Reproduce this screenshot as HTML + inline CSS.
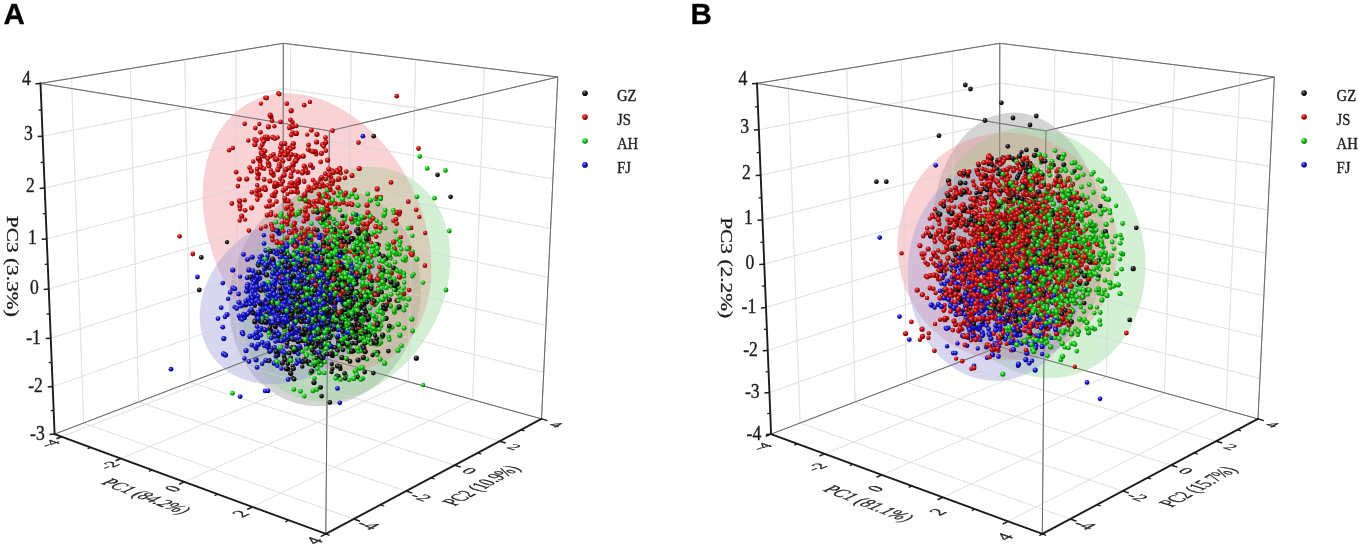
<!DOCTYPE html>
<html><head><meta charset="utf-8"><style>html,body{margin:0;padding:0;background:#fff;}svg{display:block;filter:blur(0.35px)} text{stroke:#1c1c1c;stroke-width:0.35px;vector-effect:non-scaling-stroke}</style></head>
<body><svg width="1358" height="547" viewBox="0 0 1358 547">
<defs><radialGradient id="gk" cx="0.4" cy="0.36" r="0.62" fx="0.36" fy="0.3"><stop offset="0" stop-color="#8c8c8c"/><stop offset="0.45" stop-color="#1e1e1e"/><stop offset="1" stop-color="#000"/></radialGradient><radialGradient id="gr" cx="0.4" cy="0.36" r="0.62" fx="0.36" fy="0.3"><stop offset="0" stop-color="#ff8080"/><stop offset="0.45" stop-color="#d01212"/><stop offset="1" stop-color="#700000"/></radialGradient><radialGradient id="gg" cx="0.4" cy="0.36" r="0.62" fx="0.36" fy="0.3"><stop offset="0" stop-color="#a0ffa0"/><stop offset="0.45" stop-color="#18cc18"/><stop offset="1" stop-color="#067006"/></radialGradient><radialGradient id="gb" cx="0.4" cy="0.36" r="0.62" fx="0.36" fy="0.3"><stop offset="0" stop-color="#9a9aff"/><stop offset="0.45" stop-color="#1c1cd8"/><stop offset="1" stop-color="#00007a"/></radialGradient><circle id="kL" r="2.8" fill="url(#gk)"/><circle id="k22" r="2.2" fill="url(#gk)"/><circle id="k24" r="2.4" fill="url(#gk)"/><circle id="k26" r="2.6" fill="url(#gk)"/><circle id="rL" r="2.8" fill="url(#gr)"/><circle id="r22" r="2.2" fill="url(#gr)"/><circle id="r24" r="2.4" fill="url(#gr)"/><circle id="r26" r="2.6" fill="url(#gr)"/><circle id="gL" r="2.8" fill="url(#gg)"/><circle id="g22" r="2.2" fill="url(#gg)"/><circle id="g24" r="2.4" fill="url(#gg)"/><circle id="g26" r="2.6" fill="url(#gg)"/><circle id="bL" r="2.8" fill="url(#gb)"/><circle id="b22" r="2.2" fill="url(#gb)"/><circle id="b24" r="2.4" fill="url(#gb)"/><circle id="b26" r="2.6" fill="url(#gb)"/></defs>
<rect width="1358" height="547" fill="#fff"/>
<line x1="83.6" y1="423" x2="71.5" y2="78.3" stroke="#e3e3e3" stroke-width="1"/>
<line x1="83.6" y1="423" x2="353.8" y2="519" stroke="#e3e3e3" stroke-width="1"/>
<line x1="138.6" y1="402" x2="130.3" y2="68.6" stroke="#e3e3e3" stroke-width="1"/>
<line x1="138.6" y1="402" x2="406.3" y2="491" stroke="#e3e3e3" stroke-width="1"/>
<line x1="190" y1="382.3" x2="184.9" y2="59.6" stroke="#e3e3e3" stroke-width="1"/>
<line x1="190" y1="382.3" x2="454.8" y2="465.2" stroke="#e3e3e3" stroke-width="1"/>
<line x1="238" y1="363.9" x2="235.8" y2="51.2" stroke="#e3e3e3" stroke-width="1"/>
<line x1="238" y1="363.9" x2="499.7" y2="441.2" stroke="#e3e3e3" stroke-width="1"/>
<line x1="52.7" y1="386.6" x2="283.1" y2="305.3" stroke="#e3e3e3" stroke-width="1"/>
<line x1="283.1" y1="305.3" x2="543.7" y2="372.5" stroke="#e3e3e3" stroke-width="1"/>
<line x1="50.7" y1="338.3" x2="283.1" y2="263.2" stroke="#e3e3e3" stroke-width="1"/>
<line x1="283.1" y1="263.2" x2="545.9" y2="325.4" stroke="#e3e3e3" stroke-width="1"/>
<line x1="48.7" y1="289.1" x2="283.1" y2="220.6" stroke="#e3e3e3" stroke-width="1"/>
<line x1="283.1" y1="220.6" x2="548.2" y2="277.4" stroke="#e3e3e3" stroke-width="1"/>
<line x1="46.7" y1="239" x2="283.2" y2="177.3" stroke="#e3e3e3" stroke-width="1"/>
<line x1="283.2" y1="177.3" x2="550.5" y2="228.6" stroke="#e3e3e3" stroke-width="1"/>
<line x1="44.7" y1="188.1" x2="283.2" y2="133.3" stroke="#e3e3e3" stroke-width="1"/>
<line x1="283.2" y1="133.3" x2="552.9" y2="178.9" stroke="#e3e3e3" stroke-width="1"/>
<line x1="42.6" y1="136.2" x2="283.3" y2="88.6" stroke="#e3e3e3" stroke-width="1"/>
<line x1="283.3" y1="88.6" x2="555.3" y2="128.4" stroke="#e3e3e3" stroke-width="1"/>
<line x1="290" y1="348.6" x2="290.6" y2="44.2" stroke="#e3e3e3" stroke-width="1"/>
<line x1="61.7" y1="436.7" x2="290" y2="348.6" stroke="#e3e3e3" stroke-width="1"/>
<line x1="347.3" y1="364.7" x2="351.2" y2="51.6" stroke="#e3e3e3" stroke-width="1"/>
<line x1="120.9" y1="458.5" x2="347.3" y2="364.7" stroke="#e3e3e3" stroke-width="1"/>
<line x1="408.1" y1="381.7" x2="415.6" y2="59.6" stroke="#e3e3e3" stroke-width="1"/>
<line x1="184.3" y1="481.9" x2="408.1" y2="381.7" stroke="#e3e3e3" stroke-width="1"/>
<line x1="472.7" y1="399.7" x2="484.3" y2="68" stroke="#e3e3e3" stroke-width="1"/>
<line x1="252.5" y1="506.9" x2="472.7" y2="399.7" stroke="#e3e3e3" stroke-width="1"/>
<line x1="40.5" y1="83.4" x2="283.3" y2="43.3" stroke="#6c6c6c" stroke-width="1.0"/>
<line x1="283.3" y1="43.3" x2="557.8" y2="77" stroke="#6c6c6c" stroke-width="1.0"/>
<line x1="557.8" y1="77" x2="329.4" y2="130.9" stroke="#6c6c6c" stroke-width="1.0"/>
<line x1="329.4" y1="130.9" x2="40.5" y2="83.4" stroke="#6c6c6c" stroke-width="1.0"/>
<line x1="283.3" y1="43.3" x2="283" y2="346.7" stroke="#6c6c6c" stroke-width="1.0"/>
<line x1="557.8" y1="77" x2="541.5" y2="418.9" stroke="#6c6c6c" stroke-width="1.0"/>
<line x1="54.6" y1="434.1" x2="283" y2="346.7" stroke="#6c6c6c" stroke-width="1.0"/>
<line x1="283" y1="346.7" x2="541.5" y2="418.9" stroke="#6c6c6c" stroke-width="1.0"/>
<line x1="325.8" y1="533.9" x2="329.4" y2="130.9" stroke="#6c6c6c" stroke-width="1.0"/>
<ellipse cx="325" cy="297" rx="110" ry="95" transform="rotate(-76.0 325 297)" fill="#949494" fill-opacity="0.4"/>
<ellipse cx="317" cy="232" rx="146" ry="105" transform="rotate(-116.7 317 232)" fill="#ee8e94" fill-opacity="0.2254"/>
<ellipse cx="346" cy="284" rx="124" ry="96.5" transform="rotate(-59.0 346 284)" fill="#94da94" fill-opacity="0.4"/>
<ellipse cx="317" cy="232" rx="146" ry="105" transform="rotate(-116.7 317 232)" fill="#ee8e94" fill-opacity="0.2254"/>
<ellipse cx="290.5" cy="299" rx="97" ry="78" transform="rotate(143.6 290.5 299)" fill="#9b9bda" fill-opacity="0.4"/>
<g opacity="0.55"><line x1="83.6" y1="423" x2="71.5" y2="78.3" stroke="#e3e3e3" stroke-width="1"/>
<line x1="83.6" y1="423" x2="353.8" y2="519" stroke="#e3e3e3" stroke-width="1"/>
<line x1="138.6" y1="402" x2="130.3" y2="68.6" stroke="#e3e3e3" stroke-width="1"/>
<line x1="138.6" y1="402" x2="406.3" y2="491" stroke="#e3e3e3" stroke-width="1"/>
<line x1="190" y1="382.3" x2="184.9" y2="59.6" stroke="#e3e3e3" stroke-width="1"/>
<line x1="190" y1="382.3" x2="454.8" y2="465.2" stroke="#e3e3e3" stroke-width="1"/>
<line x1="238" y1="363.9" x2="235.8" y2="51.2" stroke="#e3e3e3" stroke-width="1"/>
<line x1="238" y1="363.9" x2="499.7" y2="441.2" stroke="#e3e3e3" stroke-width="1"/>
<line x1="52.7" y1="386.6" x2="283.1" y2="305.3" stroke="#e3e3e3" stroke-width="1"/>
<line x1="283.1" y1="305.3" x2="543.7" y2="372.5" stroke="#e3e3e3" stroke-width="1"/>
<line x1="50.7" y1="338.3" x2="283.1" y2="263.2" stroke="#e3e3e3" stroke-width="1"/>
<line x1="283.1" y1="263.2" x2="545.9" y2="325.4" stroke="#e3e3e3" stroke-width="1"/>
<line x1="48.7" y1="289.1" x2="283.1" y2="220.6" stroke="#e3e3e3" stroke-width="1"/>
<line x1="283.1" y1="220.6" x2="548.2" y2="277.4" stroke="#e3e3e3" stroke-width="1"/>
<line x1="46.7" y1="239" x2="283.2" y2="177.3" stroke="#e3e3e3" stroke-width="1"/>
<line x1="283.2" y1="177.3" x2="550.5" y2="228.6" stroke="#e3e3e3" stroke-width="1"/>
<line x1="44.7" y1="188.1" x2="283.2" y2="133.3" stroke="#e3e3e3" stroke-width="1"/>
<line x1="283.2" y1="133.3" x2="552.9" y2="178.9" stroke="#e3e3e3" stroke-width="1"/>
<line x1="42.6" y1="136.2" x2="283.3" y2="88.6" stroke="#e3e3e3" stroke-width="1"/>
<line x1="283.3" y1="88.6" x2="555.3" y2="128.4" stroke="#e3e3e3" stroke-width="1"/>
<line x1="290" y1="348.6" x2="290.6" y2="44.2" stroke="#e3e3e3" stroke-width="1"/>
<line x1="61.7" y1="436.7" x2="290" y2="348.6" stroke="#e3e3e3" stroke-width="1"/>
<line x1="347.3" y1="364.7" x2="351.2" y2="51.6" stroke="#e3e3e3" stroke-width="1"/>
<line x1="120.9" y1="458.5" x2="347.3" y2="364.7" stroke="#e3e3e3" stroke-width="1"/>
<line x1="408.1" y1="381.7" x2="415.6" y2="59.6" stroke="#e3e3e3" stroke-width="1"/>
<line x1="184.3" y1="481.9" x2="408.1" y2="381.7" stroke="#e3e3e3" stroke-width="1"/>
<line x1="472.7" y1="399.7" x2="484.3" y2="68" stroke="#e3e3e3" stroke-width="1"/>
<line x1="252.5" y1="506.9" x2="472.7" y2="399.7" stroke="#e3e3e3" stroke-width="1"/>
<line x1="40.5" y1="83.4" x2="283.3" y2="43.3" stroke="#6c6c6c" stroke-width="1.0"/>
<line x1="283.3" y1="43.3" x2="557.8" y2="77" stroke="#6c6c6c" stroke-width="1.0"/>
<line x1="557.8" y1="77" x2="329.4" y2="130.9" stroke="#6c6c6c" stroke-width="1.0"/>
<line x1="329.4" y1="130.9" x2="40.5" y2="83.4" stroke="#6c6c6c" stroke-width="1.0"/>
<line x1="283.3" y1="43.3" x2="283" y2="346.7" stroke="#6c6c6c" stroke-width="1.0"/>
<line x1="557.8" y1="77" x2="541.5" y2="418.9" stroke="#6c6c6c" stroke-width="1.0"/>
<line x1="54.6" y1="434.1" x2="283" y2="346.7" stroke="#6c6c6c" stroke-width="1.0"/>
<line x1="283" y1="346.7" x2="541.5" y2="418.9" stroke="#6c6c6c" stroke-width="1.0"/>
<line x1="325.8" y1="533.9" x2="329.4" y2="130.9" stroke="#6c6c6c" stroke-width="1.0"/></g>

<use href="#g22" x="351.9" y="313.2"/>
<use href="#b22" x="302.4" y="274.9"/>
<use href="#g24" x="381.8" y="260.1"/>
<use href="#b26" x="247.9" y="284.7"/>
<use href="#b26" x="309.3" y="325.4"/>
<use href="#g26" x="323.2" y="340.4"/>
<use href="#b26" x="280.3" y="290.7"/>
<use href="#g24" x="293.5" y="242.2"/>
<use href="#r26" x="279.3" y="164.7"/>
<use href="#g24" x="380.6" y="271.7"/>
<use href="#b22" x="279.3" y="313.2"/>
<use href="#b24" x="316.2" y="315.6"/>
<use href="#r22" x="310.2" y="205.5"/>
<use href="#r24" x="361.2" y="230.6"/>
<use href="#g22" x="337.9" y="279.1"/>
<use href="#g24" x="356.9" y="268.8"/>
<use href="#g22" x="261.8" y="307.4"/>
<use href="#r24" x="268.9" y="164.0"/>
<use href="#r24" x="326.8" y="195.9"/>
<use href="#g26" x="272.9" y="269.0"/>
<use href="#b22" x="351.8" y="317.1"/>
<use href="#r22" x="270.9" y="170.2"/>
<use href="#g22" x="358.7" y="266.7"/>
<use href="#r22" x="295.6" y="159.6"/>
<use href="#g24" x="362.3" y="289.2"/>
<use href="#b22" x="305.2" y="249.7"/>
<use href="#b26" x="264.7" y="268.7"/>
<use href="#g22" x="312.2" y="353.7"/>
<use href="#g22" x="349.4" y="290.7"/>
<use href="#b24" x="260.9" y="287.8"/>
<use href="#b26" x="299.3" y="330.4"/>
<use href="#r26" x="296.1" y="133.4"/>
<use href="#b26" x="244.4" y="317.4"/>
<use href="#b24" x="304.9" y="285.7"/>
<use href="#g26" x="338.7" y="246.5"/>
<use href="#b24" x="280.7" y="325.0"/>
<use href="#b26" x="256.9" y="337.1"/>
<use href="#b26" x="291.3" y="295.7"/>
<use href="#b26" x="267.8" y="301.5"/>
<use href="#b26" x="269.0" y="320.9"/>
<use href="#b22" x="256.6" y="332.5"/>
<use href="#b24" x="317.0" y="289.1"/>
<use href="#g26" x="355.2" y="332.8"/>
<use href="#b26" x="268.2" y="345.2"/>
<use href="#g24" x="325.5" y="271.8"/>
<use href="#b26" x="306.4" y="272.8"/>
<use href="#g26" x="261.1" y="264.1"/>
<use href="#b22" x="308.5" y="278.9"/>
<use href="#b24" x="265.7" y="309.4"/>
<use href="#g22" x="320.4" y="222.3"/>
<use href="#b26" x="247.4" y="277.5"/>
<use href="#r22" x="419.3" y="216.9"/>
<use href="#b24" x="288.1" y="313.3"/>
<use href="#g22" x="310.0" y="292.7"/>
<use href="#g26" x="276.7" y="267.9"/>
<use href="#b26" x="256.0" y="335.8"/>
<use href="#r22" x="314.5" y="263.2"/>
<use href="#b22" x="261.0" y="335.3"/>
<use href="#g24" x="380.2" y="359.3"/>
<use href="#b24" x="287.3" y="260.3"/>
<use href="#b22" x="296.5" y="317.5"/>
<use href="#b22" x="278.7" y="340.7"/>
<use href="#g26" x="307.0" y="254.3"/>
<use href="#g22" x="390.8" y="306.6"/>
<use href="#r26" x="262.7" y="152.0"/>
<use href="#r24" x="254.7" y="139.4"/>
<use href="#g26" x="368.3" y="341.8"/>
<use href="#g24" x="398.0" y="293.4"/>
<use href="#b24" x="285.6" y="289.0"/>
<use href="#g26" x="330.1" y="280.5"/>
<use href="#b22" x="320.5" y="297.2"/>
<use href="#g24" x="318.0" y="317.1"/>
<use href="#r22" x="340.7" y="173.3"/>
<use href="#r22" x="337.2" y="240.2"/>
<use href="#r26" x="268.8" y="165.3"/>
<use href="#g26" x="341.8" y="285.2"/>
<use href="#g24" x="388.8" y="337.1"/>
<use href="#g26" x="284.8" y="334.7"/>
<use href="#b26" x="252.6" y="279.3"/>
<use href="#r26" x="378.4" y="245.0"/>
<use href="#g24" x="302.8" y="330.0"/>
<use href="#r24" x="305.3" y="211.4"/>
<use href="#g24" x="359.6" y="304.3"/>
<use href="#b22" x="338.1" y="343.0"/>
<use href="#b22" x="273.3" y="311.7"/>
<use href="#r26" x="327.2" y="251.3"/>
<use href="#g24" x="314.0" y="326.1"/>
<use href="#r26" x="269.1" y="206.1"/>
<use href="#g26" x="382.4" y="313.2"/>
<use href="#b22" x="288.3" y="315.9"/>
<use href="#r24" x="357.9" y="229.1"/>
<use href="#g22" x="369.1" y="300.2"/>
<use href="#g24" x="358.8" y="259.7"/>
<use href="#g22" x="334.5" y="269.8"/>
<use href="#b22" x="295.4" y="253.8"/>
<use href="#g24" x="339.0" y="343.0"/>
<use href="#g26" x="416.8" y="259.1"/>
<use href="#r26" x="295.2" y="260.4"/>
<use href="#b22" x="290.2" y="278.9"/>
<use href="#r24" x="318.1" y="266.4"/>
<use href="#r26" x="285.2" y="152.2"/>
<use href="#b24" x="304.9" y="315.0"/>
<use href="#g24" x="340.8" y="265.4"/>
<use href="#r26" x="297.4" y="192.1"/>
<use href="#g24" x="321.7" y="196.5"/>
<use href="#g26" x="347.1" y="302.8"/>
<use href="#b24" x="296.6" y="363.5"/>
<use href="#g22" x="386.5" y="304.3"/>
<use href="#g22" x="310.4" y="325.8"/>
<use href="#b26" x="323.4" y="355.5"/>
<use href="#b26" x="292.0" y="312.3"/>
<use href="#r24" x="343.7" y="268.6"/>
<use href="#b24" x="325.7" y="308.3"/>
<use href="#g26" x="296.5" y="289.1"/>
<use href="#b26" x="258.3" y="344.6"/>
<use href="#b24" x="255.4" y="289.8"/>
<use href="#b22" x="305.2" y="311.9"/>
<use href="#k26" x="316.2" y="265.3"/>
<use href="#b24" x="251.8" y="345.1"/>
<use href="#k24" x="288.7" y="307.7"/>
<use href="#g26" x="350.7" y="261.6"/>
<use href="#r24" x="313.9" y="201.6"/>
<use href="#b26" x="296.7" y="277.8"/>
<use href="#k24" x="369.8" y="334.8"/>
<use href="#k26" x="361.9" y="316.6"/>
<use href="#b26" x="314.5" y="245.1"/>
<use href="#r22" x="280.3" y="166.4"/>
<use href="#k26" x="351.5" y="292.8"/>
<use href="#k26" x="268.6" y="299.5"/>
<use href="#k22" x="339.7" y="316.5"/>
<use href="#k22" x="351.9" y="301.6"/>
<use href="#r26" x="367.9" y="212.7"/>
<use href="#g22" x="364.3" y="278.2"/>
<use href="#k26" x="329.3" y="265.6"/>
<use href="#r24" x="323.6" y="212.5"/>
<use href="#g22" x="271.8" y="310.9"/>
<use href="#g22" x="325.6" y="320.2"/>
<use href="#g24" x="320.9" y="269.4"/>
<use href="#b22" x="325.2" y="327.4"/>
<use href="#b26" x="310.3" y="322.2"/>
<use href="#g26" x="355.5" y="242.8"/>
<use href="#b26" x="303.9" y="334.3"/>
<use href="#b24" x="311.8" y="255.5"/>
<use href="#k26" x="321.3" y="288.2"/>
<use href="#k26" x="317.2" y="283.0"/>
<use href="#k22" x="310.4" y="262.2"/>
<use href="#r22" x="396.4" y="300.4"/>
<use href="#g26" x="381.3" y="269.4"/>
<use href="#k22" x="300.1" y="304.2"/>
<use href="#k26" x="310.7" y="283.7"/>
<use href="#g26" x="345.7" y="299.2"/>
<use href="#b22" x="306.5" y="271.6"/>
<use href="#r22" x="291.2" y="174.0"/>
<use href="#g26" x="341.0" y="296.0"/>
<use href="#k22" x="357.3" y="322.5"/>
<use href="#g24" x="364.1" y="229.9"/>
<use href="#g26" x="347.5" y="277.7"/>
<use href="#b22" x="314.9" y="308.5"/>
<use href="#k26" x="301.4" y="316.8"/>
<use href="#b26" x="267.8" y="303.4"/>
<use href="#k24" x="291.1" y="276.2"/>
<use href="#b26" x="227.0" y="314.5"/>
<use href="#r26" x="335.3" y="203.5"/>
<use href="#k22" x="330.2" y="268.6"/>
<use href="#b24" x="315.7" y="305.8"/>
<use href="#g24" x="375.9" y="324.0"/>
<use href="#k24" x="363.0" y="250.5"/>
<use href="#k26" x="358.1" y="360.0"/>
<use href="#k26" x="298.1" y="341.4"/>
<use href="#k26" x="363.1" y="287.0"/>
<use href="#b26" x="270.5" y="303.2"/>
<use href="#k24" x="361.8" y="275.9"/>
<use href="#b26" x="321.0" y="308.1"/>
<use href="#g26" x="273.4" y="298.9"/>
<use href="#g26" x="359.7" y="368.1"/>
<use href="#g24" x="310.4" y="241.0"/>
<use href="#b24" x="303.8" y="314.2"/>
<use href="#g22" x="329.4" y="245.6"/>
<use href="#b22" x="309.1" y="264.2"/>
<use href="#g24" x="404.1" y="328.2"/>
<use href="#b26" x="307.5" y="344.0"/>
<use href="#b26" x="253.6" y="296.9"/>
<use href="#r24" x="331.7" y="299.6"/>
<use href="#k22" x="302.6" y="311.8"/>
<use href="#k26" x="322.7" y="253.7"/>
<use href="#k24" x="309.8" y="310.4"/>
<use href="#k22" x="299.0" y="328.3"/>
<use href="#r26" x="352.8" y="281.1"/>
<use href="#k26" x="295.1" y="302.0"/>
<use href="#g26" x="408.7" y="299.1"/>
<use href="#k26" x="280.2" y="318.4"/>
<use href="#g22" x="356.4" y="296.7"/>
<use href="#b24" x="281.5" y="250.2"/>
<use href="#b24" x="315.9" y="246.4"/>
<use href="#b26" x="261.3" y="256.3"/>
<use href="#g24" x="275.2" y="305.4"/>
<use href="#g22" x="299.4" y="256.7"/>
<use href="#r22" x="332.4" y="170.5"/>
<use href="#r26" x="298.6" y="181.8"/>
<use href="#r24" x="289.8" y="216.0"/>
<use href="#g22" x="310.5" y="317.8"/>
<use href="#b24" x="260.0" y="321.5"/>
<use href="#g24" x="300.3" y="210.6"/>
<use href="#g24" x="339.7" y="245.9"/>
<use href="#g26" x="321.1" y="350.3"/>
<use href="#b22" x="268.4" y="296.7"/>
<use href="#k24" x="311.2" y="321.1"/>
<use href="#g26" x="319.5" y="297.9"/>
<use href="#g24" x="344.1" y="313.0"/>
<use href="#r24" x="400.4" y="296.4"/>
<use href="#r24" x="305.0" y="301.1"/>
<use href="#g24" x="273.3" y="299.1"/>
<use href="#k22" x="318.9" y="277.4"/>
<use href="#k24" x="317.5" y="296.0"/>
<use href="#k22" x="299.9" y="312.6"/>
<use href="#b24" x="309.8" y="309.7"/>
<use href="#g26" x="340.4" y="232.9"/>
<use href="#g22" x="371.3" y="330.9"/>
<use href="#b22" x="265.1" y="329.7"/>
<use href="#k26" x="257.5" y="316.4"/>
<use href="#k22" x="298.1" y="288.9"/>
<use href="#g22" x="374.8" y="352.1"/>
<use href="#r24" x="361.0" y="290.1"/>
<use href="#b24" x="306.7" y="252.9"/>
<use href="#g26" x="364.4" y="267.4"/>
<use href="#b26" x="322.1" y="325.2"/>
<use href="#g24" x="302.9" y="301.9"/>
<use href="#r22" x="358.6" y="276.1"/>
<use href="#k24" x="321.1" y="235.5"/>
<use href="#b22" x="286.7" y="346.6"/>
<use href="#k24" x="269.6" y="263.3"/>
<use href="#k26" x="320.4" y="326.3"/>
<use href="#b26" x="268.6" y="296.0"/>
<use href="#g24" x="383.6" y="215.7"/>
<use href="#g24" x="334.7" y="297.8"/>
<use href="#k22" x="341.8" y="276.2"/>
<use href="#b22" x="315.0" y="280.6"/>
<use href="#k24" x="318.9" y="327.9"/>
<use href="#g26" x="333.0" y="249.4"/>
<use href="#b26" x="339.7" y="264.9"/>
<use href="#k22" x="316.2" y="330.3"/>
<use href="#b26" x="255.7" y="275.5"/>
<use href="#b26" x="252.2" y="257.0"/>
<use href="#g26" x="352.4" y="221.9"/>
<use href="#b22" x="299.5" y="296.3"/>
<use href="#g22" x="348.9" y="336.9"/>
<use href="#g26" x="306.4" y="354.6"/>
<use href="#b26" x="257.6" y="299.7"/>
<use href="#g26" x="286.1" y="315.4"/>
<use href="#k26" x="285.1" y="274.4"/>
<use href="#b24" x="287.3" y="253.4"/>
<use href="#g26" x="341.4" y="286.3"/>
<use href="#k26" x="306.9" y="345.4"/>
<use href="#g22" x="347.2" y="264.6"/>
<use href="#g22" x="282.6" y="296.1"/>
<use href="#g26" x="337.7" y="265.2"/>
<use href="#g26" x="323.5" y="241.0"/>
<use href="#b26" x="296.0" y="285.1"/>
<use href="#r22" x="310.3" y="150.8"/>
<use href="#r24" x="332.1" y="254.7"/>
<use href="#g26" x="363.7" y="246.2"/>
<use href="#b24" x="271.1" y="324.6"/>
<use href="#k22" x="295.9" y="303.2"/>
<use href="#b24" x="320.5" y="270.8"/>
<use href="#b26" x="334.1" y="289.2"/>
<use href="#b24" x="301.1" y="331.9"/>
<use href="#k22" x="322.4" y="339.6"/>
<use href="#k22" x="345.0" y="277.9"/>
<use href="#k22" x="315.7" y="268.2"/>
<use href="#g22" x="334.9" y="284.4"/>
<use href="#b26" x="291.6" y="285.6"/>
<use href="#r22" x="348.5" y="307.4"/>
<use href="#k24" x="259.0" y="262.6"/>
<use href="#g22" x="326.5" y="242.4"/>
<use href="#r22" x="302.0" y="247.7"/>
<use href="#g24" x="369.6" y="293.0"/>
<use href="#g22" x="396.5" y="252.3"/>
<use href="#g26" x="349.2" y="351.6"/>
<use href="#b24" x="268.8" y="289.5"/>
<use href="#g24" x="352.8" y="266.1"/>
<use href="#k24" x="353.4" y="351.2"/>
<use href="#k26" x="363.0" y="339.6"/>
<use href="#k24" x="318.7" y="307.1"/>
<use href="#k24" x="364.9" y="273.2"/>
<use href="#k24" x="372.9" y="327.5"/>
<use href="#g24" x="357.0" y="274.0"/>
<use href="#r26" x="361.0" y="297.7"/>
<use href="#b26" x="250.0" y="311.0"/>
<use href="#k22" x="368.7" y="291.8"/>
<use href="#r24" x="262.1" y="168.0"/>
<use href="#b24" x="292.3" y="256.0"/>
<use href="#r26" x="286.2" y="154.2"/>
<use href="#r22" x="294.9" y="191.7"/>
<use href="#b24" x="287.6" y="266.7"/>
<use href="#g22" x="377.5" y="254.5"/>
<use href="#g22" x="395.1" y="262.3"/>
<use href="#k26" x="289.1" y="304.6"/>
<use href="#k24" x="377.0" y="338.8"/>
<use href="#g22" x="401.4" y="249.3"/>
<use href="#k26" x="330.4" y="262.5"/>
<use href="#g22" x="316.1" y="289.7"/>
<use href="#k24" x="348.7" y="330.1"/>
<use href="#g22" x="404.2" y="282.5"/>
<use href="#g22" x="356.4" y="332.4"/>
<use href="#b22" x="291.6" y="328.5"/>
<use href="#k24" x="285.3" y="335.3"/>
<use href="#b22" x="273.7" y="322.1"/>
<use href="#g26" x="302.6" y="238.6"/>
<use href="#k24" x="348.0" y="335.6"/>
<use href="#r22" x="297.0" y="187.9"/>
<use href="#g26" x="320.9" y="343.5"/>
<use href="#b24" x="257.0" y="326.6"/>
<use href="#b22" x="282.1" y="341.1"/>
<use href="#r24" x="280.9" y="151.3"/>
<use href="#b26" x="328.6" y="293.5"/>
<use href="#b24" x="308.2" y="287.2"/>
<use href="#k22" x="287.6" y="323.5"/>
<use href="#g24" x="399.3" y="254.3"/>
<use href="#g26" x="301.1" y="316.1"/>
<use href="#g22" x="334.5" y="268.3"/>
<use href="#b22" x="281.5" y="368.5"/>
<use href="#b24" x="257.9" y="337.8"/>
<use href="#b24" x="258.6" y="314.5"/>
<use href="#b26" x="303.4" y="275.8"/>
<use href="#r26" x="288.8" y="168.0"/>
<use href="#k24" x="323.7" y="319.2"/>
<use href="#k24" x="378.9" y="253.8"/>
<use href="#g24" x="348.9" y="196.7"/>
<use href="#r26" x="338.0" y="187.5"/>
<use href="#g24" x="361.1" y="350.8"/>
<use href="#g26" x="376.0" y="198.6"/>
<use href="#k24" x="309.2" y="291.8"/>
<use href="#g22" x="328.6" y="262.0"/>
<use href="#b22" x="256.1" y="334.5"/>
<use href="#b26" x="223.6" y="353.9"/>
<use href="#b26" x="280.0" y="282.1"/>
<use href="#g26" x="280.6" y="347.7"/>
<use href="#g22" x="342.8" y="304.5"/>
<use href="#r22" x="364.5" y="287.5"/>
<use href="#b26" x="333.9" y="299.4"/>
<use href="#g26" x="311.6" y="301.4"/>
<use href="#g26" x="381.0" y="307.9"/>
<use href="#b24" x="249.0" y="361.6"/>
<use href="#g24" x="375.4" y="319.5"/>
<use href="#k24" x="376.8" y="244.4"/>
<use href="#r22" x="303.9" y="240.1"/>
<use href="#b26" x="292.3" y="296.2"/>
<use href="#g26" x="322.6" y="223.2"/>
<use href="#r22" x="327.7" y="251.2"/>
<use href="#r24" x="272.0" y="120.7"/>
<use href="#k26" x="377.1" y="280.2"/>
<use href="#k26" x="384.8" y="280.2"/>
<use href="#g24" x="334.2" y="257.5"/>
<use href="#g24" x="314.2" y="352.3"/>
<use href="#g26" x="327.5" y="190.0"/>
<use href="#k22" x="368.4" y="297.4"/>
<use href="#g24" x="316.8" y="310.4"/>
<use href="#b22" x="302.4" y="252.9"/>
<use href="#r22" x="319.9" y="196.0"/>
<use href="#k24" x="364.1" y="305.9"/>
<use href="#r26" x="285.8" y="169.7"/>
<use href="#b26" x="285.7" y="286.3"/>
<use href="#g24" x="323.6" y="299.9"/>
<use href="#k26" x="332.5" y="355.4"/>
<use href="#b22" x="300.5" y="245.8"/>
<use href="#k26" x="287.8" y="369.0"/>
<use href="#r26" x="302.4" y="255.5"/>
<use href="#b26" x="320.7" y="342.9"/>
<use href="#b26" x="269.2" y="331.4"/>
<use href="#g24" x="363.0" y="320.8"/>
<use href="#b24" x="285.2" y="310.4"/>
<use href="#g24" x="319.4" y="273.1"/>
<use href="#g26" x="337.8" y="271.6"/>
<use href="#r22" x="288.5" y="219.7"/>
<use href="#g24" x="369.2" y="339.0"/>
<use href="#r24" x="411.1" y="227.9"/>
<use href="#b24" x="218.0" y="318.6"/>
<use href="#b26" x="246.1" y="350.5"/>
<use href="#g26" x="283.3" y="310.5"/>
<use href="#g22" x="339.9" y="236.7"/>
<use href="#r26" x="320.2" y="235.8"/>
<use href="#k22" x="341.1" y="339.3"/>
<use href="#b26" x="296.7" y="348.9"/>
<use href="#b22" x="282.9" y="296.4"/>
<use href="#r24" x="326.6" y="310.1"/>
<use href="#r22" x="335.0" y="237.8"/>
<use href="#k24" x="312.2" y="283.2"/>
<use href="#k26" x="313.1" y="338.3"/>
<use href="#k26" x="325.8" y="316.9"/>
<use href="#k26" x="307.3" y="272.1"/>
<use href="#g24" x="314.6" y="287.9"/>
<use href="#g22" x="397.3" y="283.0"/>
<use href="#g22" x="369.2" y="216.7"/>
<use href="#g26" x="362.2" y="367.6"/>
<use href="#k22" x="277.3" y="311.1"/>
<use href="#g26" x="386.3" y="287.6"/>
<use href="#k22" x="342.5" y="268.9"/>
<use href="#g22" x="336.4" y="255.4"/>
<use href="#g24" x="345.0" y="252.2"/>
<use href="#b26" x="325.6" y="287.4"/>
<use href="#g26" x="403.6" y="273.3"/>
<use href="#b24" x="322.6" y="275.3"/>
<use href="#b26" x="276.1" y="356.1"/>
<use href="#r26" x="321.4" y="153.3"/>
<use href="#k26" x="283.8" y="271.5"/>
<use href="#b22" x="279.8" y="308.2"/>
<use href="#k22" x="322.6" y="257.8"/>
<use href="#b22" x="313.6" y="309.0"/>
<use href="#r22" x="393.8" y="249.1"/>
<use href="#b26" x="303.3" y="268.5"/>
<use href="#r24" x="303.9" y="221.3"/>
<use href="#r24" x="289.9" y="183.4"/>
<use href="#g26" x="359.7" y="257.1"/>
<use href="#r24" x="271.3" y="224.5"/>
<use href="#g26" x="319.0" y="267.0"/>
<use href="#b24" x="308.1" y="271.7"/>
<use href="#g26" x="298.6" y="311.1"/>
<use href="#k26" x="336.0" y="243.5"/>
<use href="#b26" x="299.9" y="304.3"/>
<use href="#g22" x="367.0" y="255.1"/>
<use href="#k22" x="335.9" y="301.4"/>
<use href="#k24" x="289.9" y="309.8"/>
<use href="#g22" x="337.6" y="237.8"/>
<use href="#g22" x="358.2" y="351.5"/>
<use href="#g26" x="356.6" y="197.2"/>
<use href="#r22" x="282.1" y="223.6"/>
<use href="#k24" x="362.1" y="307.4"/>
<use href="#g24" x="282.1" y="293.9"/>
<use href="#g22" x="346.2" y="243.3"/>
<use href="#g26" x="412.5" y="252.1"/>
<use href="#k26" x="338.2" y="239.7"/>
<use href="#k26" x="300.9" y="236.8"/>
<use href="#b22" x="256.8" y="283.0"/>
<use href="#g24" x="390.4" y="305.7"/>
<use href="#g26" x="382.9" y="299.6"/>
<use href="#g22" x="314.5" y="378.2"/>
<use href="#k26" x="348.5" y="346.4"/>
<use href="#g26" x="355.3" y="281.8"/>
<use href="#r22" x="248.3" y="140.5"/>
<use href="#g26" x="376.7" y="344.0"/>
<use href="#r24" x="314.2" y="229.0"/>
<use href="#r22" x="266.2" y="206.6"/>
<use href="#k26" x="294.9" y="251.8"/>
<use href="#b22" x="282.9" y="259.1"/>
<use href="#k24" x="337.6" y="350.6"/>
<use href="#b26" x="294.1" y="303.1"/>
<use href="#g22" x="390.6" y="258.3"/>
<use href="#g26" x="397.2" y="307.9"/>
<use href="#b24" x="292.7" y="266.7"/>
<use href="#g26" x="376.0" y="302.2"/>
<use href="#b26" x="279.0" y="233.3"/>
<use href="#r22" x="320.0" y="218.3"/>
<use href="#g24" x="344.9" y="326.1"/>
<use href="#g26" x="291.4" y="256.1"/>
<use href="#g26" x="362.4" y="283.7"/>
<use href="#r22" x="308.0" y="244.1"/>
<use href="#b24" x="263.9" y="283.7"/>
<use href="#g24" x="342.1" y="313.8"/>
<use href="#b26" x="293.3" y="244.6"/>
<use href="#g24" x="362.1" y="278.0"/>
<use href="#r22" x="380.9" y="197.0"/>
<use href="#k24" x="336.6" y="286.4"/>
<use href="#b24" x="292.7" y="318.6"/>
<use href="#k24" x="303.4" y="319.8"/>
<use href="#b24" x="273.7" y="304.6"/>
<use href="#g26" x="288.3" y="281.8"/>
<use href="#k24" x="266.0" y="299.9"/>
<use href="#g22" x="340.0" y="210.3"/>
<use href="#b22" x="257.9" y="264.2"/>
<use href="#g24" x="397.1" y="239.3"/>
<use href="#g24" x="343.3" y="316.4"/>
<use href="#k22" x="368.5" y="332.3"/>
<use href="#b26" x="258.6" y="289.2"/>
<use href="#b22" x="295.5" y="259.5"/>
<use href="#g22" x="342.2" y="288.2"/>
<use href="#b22" x="270.4" y="284.1"/>
<use href="#r24" x="295.6" y="234.4"/>
<use href="#k24" x="350.0" y="361.4"/>
<use href="#g22" x="313.9" y="299.9"/>
<use href="#k22" x="352.5" y="305.6"/>
<use href="#k26" x="383.3" y="256.3"/>
<use href="#k22" x="294.2" y="269.9"/>
<use href="#r22" x="314.0" y="205.4"/>
<use href="#b26" x="266.9" y="257.7"/>
<use href="#g26" x="379.9" y="279.9"/>
<use href="#k26" x="329.8" y="327.6"/>
<use href="#r26" x="374.4" y="293.1"/>
<use href="#g22" x="333.4" y="288.5"/>
<use href="#r24" x="346.2" y="171.6"/>
<use href="#k24" x="377.9" y="352.5"/>
<use href="#k26" x="356.0" y="325.4"/>
<use href="#r22" x="303.2" y="199.1"/>
<use href="#r24" x="362.0" y="229.3"/>
<use href="#b26" x="306.1" y="288.5"/>
<use href="#k24" x="325.7" y="284.2"/>
<use href="#b26" x="299.0" y="337.3"/>
<use href="#b24" x="304.0" y="238.1"/>
<use href="#b22" x="280.3" y="305.5"/>
<use href="#b26" x="287.9" y="319.1"/>
<use href="#b22" x="247.0" y="259.6"/>
<use href="#g26" x="276.1" y="276.6"/>
<use href="#g26" x="374.5" y="304.4"/>
<use href="#g24" x="374.8" y="252.7"/>
<use href="#g26" x="299.7" y="254.6"/>
<use href="#r26" x="316.9" y="134.3"/>
<use href="#b24" x="314.3" y="281.9"/>
<use href="#r22" x="306.2" y="272.6"/>
<use href="#b26" x="309.2" y="278.2"/>
<use href="#g24" x="318.5" y="318.0"/>
<use href="#b24" x="264.9" y="315.6"/>
<use href="#r24" x="332.3" y="183.9"/>
<use href="#g24" x="382.2" y="267.9"/>
<use href="#g26" x="391.1" y="286.0"/>
<use href="#g22" x="370.0" y="308.2"/>
<use href="#g26" x="323.6" y="267.2"/>
<use href="#r24" x="363.4" y="240.3"/>
<use href="#b26" x="280.8" y="308.6"/>
<use href="#b24" x="255.4" y="314.1"/>
<use href="#g24" x="363.4" y="217.8"/>
<use href="#r26" x="393.6" y="242.2"/>
<use href="#k22" x="270.6" y="323.0"/>
<use href="#g24" x="311.7" y="301.3"/>
<use href="#k22" x="316.3" y="280.6"/>
<use href="#r22" x="305.5" y="207.6"/>
<use href="#b22" x="264.4" y="314.8"/>
<use href="#b24" x="306.2" y="344.3"/>
<use href="#r24" x="323.7" y="186.1"/>
<use href="#b22" x="333.8" y="291.4"/>
<use href="#r24" x="270.6" y="156.2"/>
<use href="#b26" x="265.5" y="304.0"/>
<use href="#g26" x="362.0" y="320.0"/>
<use href="#b22" x="347.3" y="311.0"/>
<use href="#b24" x="284.9" y="270.6"/>
<use href="#k22" x="357.6" y="274.8"/>
<use href="#g24" x="344.7" y="219.8"/>
<use href="#r22" x="348.9" y="260.8"/>
<use href="#b24" x="283.2" y="293.2"/>
<use href="#k26" x="337.0" y="376.1"/>
<use href="#g26" x="304.4" y="290.9"/>
<use href="#g22" x="347.3" y="308.5"/>
<use href="#g24" x="343.9" y="236.8"/>
<use href="#r24" x="281.9" y="151.5"/>
<use href="#r24" x="330.6" y="203.1"/>
<use href="#g22" x="385.3" y="209.9"/>
<use href="#g24" x="310.1" y="329.3"/>
<use href="#k24" x="322.7" y="330.5"/>
<use href="#r26" x="297.5" y="156.9"/>
<use href="#g24" x="298.1" y="279.5"/>
<use href="#r22" x="331.0" y="228.0"/>
<use href="#b22" x="302.0" y="279.0"/>
<use href="#r26" x="337.6" y="269.7"/>
<use href="#g26" x="349.7" y="250.9"/>
<use href="#g26" x="351.5" y="333.0"/>
<use href="#b22" x="303.5" y="294.1"/>
<use href="#r24" x="313.4" y="211.8"/>
<use href="#b24" x="306.8" y="307.1"/>
<use href="#k26" x="298.4" y="304.8"/>
<use href="#r22" x="393.4" y="220.8"/>
<use href="#r24" x="299.7" y="212.2"/>
<use href="#k22" x="286.4" y="339.9"/>
<use href="#r26" x="285.4" y="218.3"/>
<use href="#g26" x="331.7" y="269.7"/>
<use href="#r26" x="254.9" y="144.5"/>
<use href="#r22" x="313.3" y="187.4"/>
<use href="#g22" x="323.0" y="302.1"/>
<use href="#g24" x="345.9" y="375.8"/>
<use href="#g26" x="369.8" y="294.6"/>
<use href="#b22" x="309.1" y="343.8"/>
<use href="#k22" x="385.7" y="309.4"/>
<use href="#r26" x="281.7" y="143.9"/>
<use href="#g24" x="326.7" y="304.4"/>
<use href="#g24" x="325.1" y="281.1"/>
<use href="#k22" x="358.2" y="228.8"/>
<use href="#k22" x="333.1" y="274.6"/>
<use href="#k26" x="332.6" y="278.6"/>
<use href="#k22" x="349.7" y="294.0"/>
<use href="#k24" x="289.6" y="293.2"/>
<use href="#r24" x="416.2" y="209.8"/>
<use href="#k24" x="285.5" y="246.7"/>
<use href="#b22" x="269.3" y="268.3"/>
<use href="#g22" x="323.2" y="258.0"/>
<use href="#k24" x="324.7" y="302.3"/>
<use href="#k24" x="291.1" y="315.2"/>
<use href="#g22" x="337.1" y="290.4"/>
<use href="#b24" x="296.3" y="332.9"/>
<use href="#g22" x="326.3" y="325.6"/>
<use href="#k24" x="287.8" y="363.8"/>
<use href="#b24" x="296.8" y="283.6"/>
<use href="#r24" x="236.2" y="172.2"/>
<use href="#b22" x="294.2" y="352.1"/>
<use href="#b24" x="311.9" y="330.6"/>
<use href="#k22" x="349.3" y="285.0"/>
<use href="#r26" x="275.2" y="158.9"/>
<use href="#g24" x="284.5" y="358.1"/>
<use href="#b26" x="285.4" y="295.0"/>
<use href="#b22" x="278.3" y="354.7"/>
<use href="#b26" x="283.5" y="278.2"/>
<use href="#r26" x="295.5" y="243.3"/>
<use href="#k24" x="297.5" y="359.4"/>
<use href="#r22" x="317.6" y="218.8"/>
<use href="#g26" x="353.9" y="251.2"/>
<use href="#b22" x="307.4" y="286.4"/>
<use href="#r22" x="324.5" y="144.1"/>
<use href="#r24" x="385.7" y="271.4"/>
<use href="#r26" x="296.9" y="158.4"/>
<use href="#b26" x="341.2" y="263.8"/>
<use href="#g22" x="356.1" y="328.0"/>
<use href="#b22" x="234.6" y="306.9"/>
<use href="#k24" x="332.1" y="316.6"/>
<use href="#k22" x="310.3" y="305.1"/>
<use href="#g22" x="374.5" y="255.4"/>
<use href="#r26" x="304.8" y="195.7"/>
<use href="#r26" x="239.9" y="205.7"/>
<use href="#k22" x="315.2" y="336.4"/>
<use href="#r26" x="333.1" y="172.4"/>
<use href="#k26" x="292.2" y="277.5"/>
<use href="#k26" x="346.5" y="284.6"/>
<use href="#b24" x="313.9" y="303.3"/>
<use href="#r24" x="248.9" y="230.6"/>
<use href="#r24" x="283.4" y="250.8"/>
<use href="#r26" x="304.4" y="195.2"/>
<use href="#b24" x="307.0" y="326.9"/>
<use href="#g26" x="266.9" y="315.6"/>
<use href="#g22" x="287.9" y="254.9"/>
<use href="#k26" x="363.3" y="336.1"/>
<use href="#g22" x="309.1" y="230.7"/>
<use href="#g24" x="275.4" y="298.8"/>
<use href="#b24" x="266.3" y="307.2"/>
<use href="#b24" x="287.9" y="294.2"/>
<use href="#k22" x="307.0" y="269.8"/>
<use href="#k26" x="339.2" y="265.1"/>
<use href="#r22" x="309.9" y="101.9"/>
<use href="#r26" x="274.3" y="193.8"/>
<use href="#r26" x="264.5" y="187.4"/>
<use href="#g22" x="336.3" y="354.0"/>
<use href="#k24" x="314.4" y="339.2"/>
<use href="#b24" x="261.3" y="328.3"/>
<use href="#k22" x="275.5" y="278.8"/>
<use href="#r22" x="315.6" y="235.4"/>
<use href="#b26" x="326.1" y="266.4"/>
<use href="#r22" x="340.9" y="241.3"/>
<use href="#g22" x="379.8" y="278.2"/>
<use href="#g24" x="358.9" y="248.3"/>
<use href="#b24" x="317.7" y="299.1"/>
<use href="#g22" x="308.4" y="256.7"/>
<use href="#g24" x="338.6" y="299.2"/>
<use href="#g26" x="355.3" y="370.9"/>
<use href="#b22" x="320.3" y="312.8"/>
<use href="#b22" x="290.7" y="318.7"/>
<use href="#g26" x="358.0" y="205.3"/>
<use href="#r26" x="291.9" y="146.2"/>
<use href="#b26" x="256.3" y="332.5"/>
<use href="#k24" x="347.3" y="267.2"/>
<use href="#b26" x="294.3" y="339.3"/>
<use href="#g22" x="285.9" y="353.4"/>
<use href="#g24" x="392.4" y="284.3"/>
<use href="#b26" x="316.9" y="307.6"/>
<use href="#b24" x="222.8" y="327.2"/>
<use href="#r22" x="316.1" y="211.2"/>
<use href="#r26" x="359.6" y="260.5"/>
<use href="#g24" x="344.6" y="282.4"/>
<use href="#k22" x="287.2" y="307.5"/>
<use href="#g24" x="345.6" y="257.0"/>
<use href="#r26" x="264.2" y="156.0"/>
<use href="#r26" x="258.2" y="158.6"/>
<use href="#k22" x="350.9" y="318.8"/>
<use href="#r26" x="268.4" y="126.8"/>
<use href="#b24" x="301.0" y="307.9"/>
<use href="#r24" x="265.1" y="137.0"/>
<use href="#g22" x="358.0" y="256.5"/>
<use href="#g24" x="312.7" y="345.1"/>
<use href="#b26" x="282.9" y="351.2"/>
<use href="#g24" x="355.9" y="306.8"/>
<use href="#g26" x="317.3" y="254.8"/>
<use href="#r22" x="409.3" y="247.7"/>
<use href="#g24" x="340.7" y="313.5"/>
<use href="#k24" x="320.8" y="259.3"/>
<use href="#g26" x="341.0" y="267.2"/>
<use href="#r24" x="249.6" y="167.7"/>
<use href="#g26" x="292.0" y="225.5"/>
<use href="#g26" x="371.3" y="286.2"/>
<use href="#g24" x="398.5" y="287.6"/>
<use href="#g22" x="319.2" y="364.3"/>
<use href="#g26" x="266.4" y="274.1"/>
<use href="#b24" x="268.7" y="295.3"/>
<use href="#g22" x="289.5" y="258.2"/>
<use href="#g26" x="304.5" y="248.1"/>
<use href="#k24" x="305.4" y="291.8"/>
<use href="#b24" x="313.5" y="295.3"/>
<use href="#k24" x="337.4" y="337.5"/>
<use href="#k24" x="312.9" y="338.4"/>
<use href="#g24" x="286.8" y="217.3"/>
<use href="#b26" x="225.5" y="355.0"/>
<use href="#b22" x="310.8" y="322.2"/>
<use href="#k26" x="318.4" y="333.9"/>
<use href="#g24" x="316.0" y="276.2"/>
<use href="#r26" x="344.4" y="195.0"/>
<use href="#k24" x="325.3" y="310.7"/>
<use href="#r24" x="301.6" y="232.9"/>
<use href="#k22" x="331.3" y="270.2"/>
<use href="#g24" x="279.6" y="246.2"/>
<use href="#k22" x="290.3" y="304.9"/>
<use href="#b22" x="296.9" y="283.4"/>
<use href="#r24" x="346.2" y="233.9"/>
<use href="#k24" x="350.8" y="276.6"/>
<use href="#k24" x="303.9" y="340.9"/>
<use href="#g24" x="367.1" y="270.3"/>
<use href="#g26" x="392.9" y="250.7"/>
<use href="#g26" x="320.9" y="275.0"/>
<use href="#k24" x="273.5" y="261.0"/>
<use href="#g24" x="348.2" y="239.9"/>
<use href="#g22" x="284.5" y="322.0"/>
<use href="#g26" x="314.6" y="315.9"/>
<use href="#k26" x="300.9" y="280.1"/>
<use href="#g22" x="318.4" y="282.5"/>
<use href="#b22" x="244.5" y="358.5"/>
<use href="#g26" x="288.8" y="336.4"/>
<use href="#g26" x="298.6" y="313.5"/>
<use href="#k22" x="327.1" y="252.0"/>
<use href="#k24" x="319.9" y="268.1"/>
<use href="#g24" x="361.3" y="243.3"/>
<use href="#k26" x="371.6" y="341.6"/>
<use href="#b24" x="295.0" y="317.9"/>
<use href="#b22" x="294.0" y="280.5"/>
<use href="#g24" x="314.9" y="337.7"/>
<use href="#b22" x="331.4" y="264.7"/>
<use href="#b22" x="248.8" y="303.0"/>
<use href="#k22" x="330.2" y="300.4"/>
<use href="#g24" x="307.0" y="269.3"/>
<use href="#g26" x="368.3" y="261.6"/>
<use href="#k22" x="362.3" y="346.1"/>
<use href="#b26" x="295.0" y="295.9"/>
<use href="#g22" x="333.1" y="235.9"/>
<use href="#b22" x="268.2" y="296.7"/>
<use href="#r26" x="283.3" y="190.3"/>
<use href="#b22" x="253.2" y="335.4"/>
<use href="#r24" x="363.9" y="291.4"/>
<use href="#b24" x="289.2" y="231.3"/>
<use href="#k22" x="301.1" y="253.4"/>
<use href="#b24" x="300.6" y="262.5"/>
<use href="#r26" x="258.8" y="189.9"/>
<use href="#r24" x="308.6" y="144.9"/>
<use href="#k26" x="334.7" y="308.5"/>
<use href="#g22" x="376.5" y="329.2"/>
<use href="#k22" x="261.3" y="310.6"/>
<use href="#g26" x="310.8" y="242.0"/>
<use href="#g26" x="370.3" y="324.9"/>
<use href="#b22" x="292.1" y="327.4"/>
<use href="#g22" x="312.1" y="328.1"/>
<use href="#g26" x="358.7" y="216.9"/>
<use href="#g26" x="307.8" y="301.7"/>
<use href="#k22" x="284.4" y="277.1"/>
<use href="#g26" x="399.9" y="335.2"/>
<use href="#r24" x="325.7" y="179.0"/>
<use href="#k26" x="352.0" y="278.1"/>
<use href="#k24" x="300.6" y="348.8"/>
<use href="#g24" x="328.2" y="270.7"/>
<use href="#b24" x="266.8" y="330.3"/>
<use href="#g26" x="344.5" y="285.4"/>
<use href="#r26" x="293.1" y="165.2"/>
<use href="#r26" x="260.0" y="161.1"/>
<use href="#g26" x="330.3" y="284.5"/>
<use href="#k26" x="316.0" y="279.8"/>
<use href="#k26" x="285.0" y="359.6"/>
<use href="#b26" x="270.9" y="330.6"/>
<use href="#g24" x="392.1" y="327.3"/>
<use href="#r24" x="286.4" y="208.5"/>
<use href="#k26" x="361.9" y="326.0"/>
<use href="#b26" x="277.0" y="253.7"/>
<use href="#b26" x="282.6" y="302.3"/>
<use href="#k22" x="342.7" y="254.3"/>
<use href="#r26" x="277.4" y="184.6"/>
<use href="#b22" x="296.9" y="268.8"/>
<use href="#b26" x="262.9" y="259.2"/>
<use href="#k26" x="301.3" y="260.9"/>
<use href="#r26" x="292.9" y="126.3"/>
<use href="#k22" x="304.0" y="280.7"/>
<use href="#g22" x="340.8" y="280.3"/>
<use href="#b24" x="278.6" y="275.3"/>
<use href="#k26" x="323.2" y="332.3"/>
<use href="#k26" x="252.8" y="312.7"/>
<use href="#k24" x="343.8" y="230.9"/>
<use href="#g26" x="355.4" y="220.1"/>
<use href="#g24" x="382.2" y="268.4"/>
<use href="#b22" x="309.4" y="283.3"/>
<use href="#b24" x="295.4" y="245.2"/>
<use href="#g22" x="293.0" y="239.5"/>
<use href="#b26" x="274.7" y="305.6"/>
<use href="#k24" x="372.0" y="280.9"/>
<use href="#g26" x="326.7" y="268.8"/>
<use href="#b24" x="304.4" y="271.0"/>
<use href="#g24" x="340.8" y="269.9"/>
<use href="#b26" x="287.3" y="320.9"/>
<use href="#g22" x="394.1" y="246.9"/>
<use href="#r24" x="408.3" y="201.7"/>
<use href="#g24" x="363.2" y="256.4"/>
<use href="#g26" x="318.4" y="256.8"/>
<use href="#r24" x="341.3" y="244.0"/>
<use href="#b26" x="289.0" y="298.5"/>
<use href="#g24" x="401.6" y="345.8"/>
<use href="#b22" x="290.9" y="335.1"/>
<use href="#g26" x="359.6" y="330.7"/>
<use href="#k24" x="344.6" y="373.4"/>
<use href="#k26" x="361.6" y="274.8"/>
<use href="#g22" x="344.5" y="303.8"/>
<use href="#g26" x="311.5" y="347.6"/>
<use href="#g26" x="338.5" y="296.7"/>
<use href="#k26" x="301.7" y="333.7"/>
<use href="#r22" x="308.6" y="186.8"/>
<use href="#g26" x="370.5" y="216.4"/>
<use href="#g26" x="327.3" y="291.4"/>
<use href="#g22" x="348.4" y="320.2"/>
<use href="#r22" x="272.2" y="226.9"/>
<use href="#g24" x="303.5" y="252.8"/>
<use href="#k22" x="344.7" y="265.4"/>
<use href="#b26" x="296.1" y="292.6"/>
<use href="#g24" x="364.3" y="297.9"/>
<use href="#k26" x="348.3" y="283.7"/>
<use href="#r26" x="328.5" y="223.3"/>
<use href="#r22" x="274.4" y="126.3"/>
<use href="#r22" x="265.2" y="97.7"/>
<use href="#g24" x="354.3" y="270.6"/>
<use href="#g24" x="321.4" y="277.5"/>
<use href="#b24" x="315.4" y="268.2"/>
<use href="#g26" x="335.1" y="222.8"/>
<use href="#k26" x="328.8" y="261.0"/>
<use href="#g26" x="357.1" y="295.9"/>
<use href="#r24" x="280.1" y="154.7"/>
<use href="#g26" x="356.6" y="269.0"/>
<use href="#r26" x="293.4" y="143.5"/>
<use href="#g24" x="358.8" y="309.0"/>
<use href="#k26" x="338.9" y="262.2"/>
<use href="#k22" x="357.2" y="277.4"/>
<use href="#g26" x="380.2" y="289.3"/>
<use href="#g26" x="305.3" y="239.7"/>
<use href="#b22" x="279.6" y="276.9"/>
<use href="#g24" x="382.3" y="299.3"/>
<use href="#g26" x="336.3" y="299.8"/>
<use href="#k26" x="341.9" y="357.6"/>
<use href="#k24" x="315.0" y="366.1"/>
<use href="#k22" x="326.5" y="306.5"/>
<use href="#k22" x="327.1" y="317.8"/>
<use href="#g22" x="304.9" y="329.3"/>
<use href="#r22" x="378.0" y="287.8"/>
<use href="#k22" x="326.6" y="308.8"/>
<use href="#k22" x="329.4" y="300.2"/>
<use href="#b26" x="285.0" y="293.6"/>
<use href="#g26" x="358.4" y="300.1"/>
<use href="#k26" x="359.1" y="243.0"/>
<use href="#g22" x="325.7" y="269.4"/>
<use href="#k26" x="300.1" y="277.6"/>
<use href="#g26" x="321.2" y="284.9"/>
<use href="#g26" x="339.9" y="345.9"/>
<use href="#b24" x="238.6" y="294.0"/>
<use href="#k26" x="326.0" y="281.4"/>
<use href="#g26" x="323.6" y="300.9"/>
<use href="#g22" x="343.3" y="202.4"/>
<use href="#b22" x="273.5" y="288.7"/>
<use href="#g24" x="322.6" y="305.9"/>
<use href="#r24" x="281.9" y="223.3"/>
<use href="#g22" x="366.2" y="241.2"/>
<use href="#g26" x="281.4" y="267.0"/>
<use href="#r24" x="316.5" y="208.7"/>
<use href="#g22" x="306.6" y="267.1"/>
<use href="#b24" x="253.9" y="295.8"/>
<use href="#k22" x="328.0" y="277.7"/>
<use href="#k24" x="308.7" y="363.6"/>
<use href="#r24" x="260.5" y="147.8"/>
<use href="#r26" x="307.0" y="215.0"/>
<use href="#k22" x="269.8" y="330.6"/>
<use href="#g26" x="375.3" y="245.1"/>
<use href="#b26" x="240.5" y="318.3"/>
<use href="#r22" x="298.8" y="182.5"/>
<use href="#b26" x="265.9" y="360.3"/>
<use href="#g22" x="331.3" y="249.0"/>
<use href="#b24" x="288.8" y="274.8"/>
<use href="#g26" x="291.4" y="337.9"/>
<use href="#b26" x="279.4" y="263.0"/>
<use href="#g24" x="310.5" y="373.1"/>
<use href="#g22" x="277.1" y="334.4"/>
<use href="#r24" x="323.0" y="202.5"/>
<use href="#g22" x="371.3" y="292.1"/>
<use href="#k22" x="306.2" y="304.8"/>
<use href="#b26" x="338.0" y="329.6"/>
<use href="#r24" x="354.6" y="190.0"/>
<use href="#k26" x="326.7" y="316.9"/>
<use href="#k24" x="296.0" y="351.4"/>
<use href="#g22" x="319.2" y="269.5"/>
<use href="#r24" x="320.7" y="161.8"/>
<use href="#b26" x="318.5" y="283.4"/>
<use href="#g24" x="359.6" y="246.8"/>
<use href="#k26" x="316.4" y="313.1"/>
<use href="#b22" x="330.3" y="325.4"/>
<use href="#g24" x="293.7" y="270.5"/>
<use href="#r22" x="328.9" y="175.4"/>
<use href="#k24" x="317.2" y="325.8"/>
<use href="#k24" x="334.0" y="279.6"/>
<use href="#r24" x="307.4" y="219.1"/>
<use href="#g24" x="330.8" y="232.6"/>
<use href="#k26" x="353.5" y="283.7"/>
<use href="#b24" x="281.3" y="307.6"/>
<use href="#b22" x="298.5" y="353.6"/>
<use href="#r24" x="311.4" y="130.3"/>
<use href="#b24" x="305.0" y="329.9"/>
<use href="#b24" x="299.1" y="300.5"/>
<use href="#r24" x="347.9" y="272.1"/>
<use href="#r24" x="340.0" y="191.4"/>
<use href="#k24" x="328.4" y="216.1"/>
<use href="#g22" x="376.1" y="281.1"/>
<use href="#b22" x="288.0" y="304.2"/>
<use href="#b22" x="289.1" y="274.4"/>
<use href="#r24" x="305.8" y="168.7"/>
<use href="#b24" x="290.8" y="304.1"/>
<use href="#k26" x="357.4" y="254.1"/>
<use href="#k26" x="295.6" y="328.9"/>
<use href="#b26" x="274.3" y="363.2"/>
<use href="#g24" x="357.4" y="306.1"/>
<use href="#r24" x="300.3" y="198.5"/>
<use href="#g24" x="317.3" y="368.7"/>
<use href="#k22" x="331.8" y="364.0"/>
<use href="#g22" x="369.3" y="326.7"/>
<use href="#g26" x="355.1" y="268.8"/>
<use href="#b26" x="273.9" y="274.6"/>
<use href="#g26" x="285.6" y="238.1"/>
<use href="#g24" x="359.8" y="318.3"/>
<use href="#b24" x="292.2" y="313.8"/>
<use href="#g24" x="316.8" y="306.9"/>
<use href="#r22" x="308.7" y="189.5"/>
<use href="#b22" x="292.1" y="319.0"/>
<use href="#r24" x="374.3" y="303.6"/>
<use href="#b24" x="298.4" y="317.5"/>
<use href="#g26" x="411.8" y="319.1"/>
<use href="#g22" x="334.1" y="302.7"/>
<use href="#b26" x="329.2" y="283.1"/>
<use href="#b26" x="297.1" y="294.0"/>
<use href="#k22" x="327.8" y="347.7"/>
<use href="#b26" x="289.8" y="269.9"/>
<use href="#g24" x="335.2" y="207.1"/>
<use href="#r26" x="351.3" y="219.0"/>
<use href="#r26" x="285.6" y="200.8"/>
<use href="#k22" x="313.2" y="303.3"/>
<use href="#k24" x="363.5" y="314.4"/>
<use href="#b24" x="287.6" y="290.0"/>
<use href="#g22" x="347.9" y="274.9"/>
<use href="#r26" x="289.8" y="186.0"/>
<use href="#k26" x="290.7" y="373.3"/>
<use href="#r26" x="349.6" y="272.0"/>
<use href="#k26" x="299.7" y="311.0"/>
<use href="#b22" x="269.6" y="300.0"/>
<use href="#b22" x="250.4" y="288.5"/>
<use href="#g24" x="346.1" y="327.2"/>
<use href="#r24" x="296.2" y="125.9"/>
<use href="#k22" x="329.2" y="273.3"/>
<use href="#r22" x="425.2" y="233.0"/>
<use href="#g24" x="340.4" y="298.0"/>
<use href="#g24" x="355.7" y="217.8"/>
<use href="#b26" x="322.0" y="284.9"/>
<use href="#g24" x="360.0" y="238.7"/>
<use href="#r26" x="280.8" y="184.0"/>
<use href="#g26" x="345.1" y="272.7"/>
<use href="#k24" x="307.6" y="300.3"/>
<use href="#b26" x="232.7" y="270.0"/>
<use href="#b22" x="338.0" y="335.8"/>
<use href="#k22" x="279.9" y="321.7"/>
<use href="#g22" x="328.4" y="217.2"/>
<use href="#k24" x="324.6" y="307.0"/>
<use href="#b22" x="310.3" y="305.6"/>
<use href="#g24" x="284.1" y="263.5"/>
<use href="#k22" x="358.1" y="317.7"/>
<use href="#b22" x="309.4" y="341.2"/>
<use href="#g24" x="288.5" y="274.7"/>
<use href="#b26" x="314.6" y="318.2"/>
<use href="#r22" x="261.0" y="228.5"/>
<use href="#k24" x="268.5" y="282.7"/>
<use href="#g22" x="353.9" y="281.8"/>
<use href="#g24" x="345.4" y="295.1"/>
<use href="#k22" x="335.6" y="283.8"/>
<use href="#r22" x="347.0" y="275.2"/>
<use href="#k26" x="298.9" y="262.2"/>
<use href="#g26" x="326.2" y="244.0"/>
<use href="#r26" x="377.3" y="278.9"/>
<use href="#b24" x="340.9" y="318.3"/>
<use href="#k22" x="285.0" y="298.7"/>
<use href="#k24" x="321.6" y="311.3"/>
<use href="#r26" x="308.8" y="201.9"/>
<use href="#g26" x="312.2" y="325.7"/>
<use href="#g24" x="335.0" y="325.1"/>
<use href="#r22" x="381.2" y="273.8"/>
<use href="#r22" x="263.5" y="150.4"/>
<use href="#k22" x="331.5" y="372.0"/>
<use href="#k26" x="372.3" y="300.0"/>
<use href="#k22" x="317.7" y="340.3"/>
<use href="#k22" x="281.1" y="252.0"/>
<use href="#k24" x="316.6" y="312.2"/>
<use href="#g22" x="376.3" y="317.2"/>
<use href="#r26" x="251.7" y="207.8"/>
<use href="#b24" x="275.6" y="303.0"/>
<use href="#b24" x="334.4" y="242.5"/>
<use href="#r22" x="265.7" y="226.5"/>
<use href="#g24" x="340.1" y="282.2"/>
<use href="#g26" x="334.6" y="248.3"/>
<use href="#b22" x="252.8" y="291.4"/>
<use href="#k24" x="304.4" y="298.4"/>
<use href="#g26" x="328.5" y="249.7"/>
<use href="#r26" x="318.9" y="200.6"/>
<use href="#k22" x="353.7" y="314.6"/>
<use href="#k26" x="292.1" y="265.1"/>
<use href="#b26" x="256.1" y="359.8"/>
<use href="#g26" x="348.1" y="308.4"/>
<use href="#r24" x="282.8" y="181.4"/>
<use href="#r24" x="294.2" y="162.3"/>
<use href="#g24" x="339.6" y="256.9"/>
<use href="#g26" x="296.2" y="236.3"/>
<use href="#g26" x="362.4" y="317.9"/>
<use href="#r22" x="308.1" y="251.6"/>
<use href="#g22" x="352.3" y="271.1"/>
<use href="#k26" x="335.0" y="302.7"/>
<use href="#k26" x="357.6" y="248.4"/>
<use href="#r24" x="298.8" y="157.0"/>
<use href="#r22" x="301.9" y="228.2"/>
<use href="#g24" x="338.0" y="195.6"/>
<use href="#g26" x="298.5" y="213.4"/>
<use href="#b24" x="290.3" y="327.0"/>
<use href="#g22" x="324.3" y="209.9"/>
<use href="#r22" x="278.3" y="93.3"/>
<use href="#k24" x="335.9" y="292.8"/>
<use href="#b24" x="266.5" y="308.1"/>
<use href="#b26" x="280.7" y="339.9"/>
<use href="#b26" x="300.5" y="266.9"/>
<use href="#g24" x="394.4" y="312.4"/>
<use href="#b26" x="274.1" y="333.9"/>
<use href="#b26" x="302.3" y="361.7"/>
<use href="#g26" x="340.6" y="294.3"/>
<use href="#r24" x="364.2" y="241.4"/>
<use href="#k26" x="303.6" y="287.1"/>
<use href="#g26" x="373.9" y="332.6"/>
<use href="#b22" x="345.6" y="326.9"/>
<use href="#g26" x="323.1" y="245.5"/>
<use href="#b24" x="274.1" y="320.6"/>
<use href="#k24" x="273.2" y="250.9"/>
<use href="#k22" x="312.2" y="247.6"/>
<use href="#g24" x="354.6" y="331.3"/>
<use href="#b26" x="258.1" y="279.1"/>
<use href="#g24" x="334.6" y="308.3"/>
<use href="#k22" x="274.9" y="311.6"/>
<use href="#k22" x="258.3" y="265.6"/>
<use href="#k24" x="264.6" y="330.0"/>
<use href="#g26" x="356.6" y="238.0"/>
<use href="#g24" x="353.7" y="245.6"/>
<use href="#b24" x="256.2" y="348.5"/>
<use href="#g22" x="348.4" y="236.8"/>
<use href="#g26" x="368.7" y="240.6"/>
<use href="#b26" x="283.9" y="272.0"/>
<use href="#r22" x="377.1" y="196.9"/>
<use href="#r24" x="324.9" y="194.1"/>
<use href="#b26" x="284.6" y="317.0"/>
<use href="#g22" x="339.4" y="268.4"/>
<use href="#r22" x="309.1" y="206.4"/>
<use href="#g24" x="349.7" y="346.3"/>
<use href="#k22" x="333.1" y="293.2"/>
<use href="#b24" x="260.2" y="314.2"/>
<use href="#g24" x="310.9" y="341.0"/>
<use href="#k26" x="386.1" y="318.3"/>
<use href="#g26" x="348.3" y="303.0"/>
<use href="#r24" x="396.7" y="223.7"/>
<use href="#r24" x="313.5" y="259.1"/>
<use href="#k22" x="350.2" y="330.7"/>
<use href="#b22" x="272.3" y="293.5"/>
<use href="#r22" x="273.3" y="173.1"/>
<use href="#k26" x="301.4" y="321.6"/>
<use href="#b26" x="255.8" y="294.7"/>
<use href="#r24" x="306.3" y="234.9"/>
<use href="#g24" x="349.0" y="301.2"/>
<use href="#k26" x="337.5" y="366.0"/>
<use href="#g26" x="345.8" y="318.9"/>
<use href="#b22" x="283.7" y="294.6"/>
<use href="#g24" x="316.2" y="327.9"/>
<use href="#r22" x="378.5" y="274.7"/>
<use href="#k22" x="317.7" y="264.2"/>
<use href="#r26" x="259.9" y="195.2"/>
<use href="#k26" x="326.4" y="272.3"/>
<use href="#b24" x="317.6" y="308.1"/>
<use href="#g26" x="304.8" y="230.7"/>
<use href="#g24" x="311.1" y="250.2"/>
<use href="#b24" x="318.6" y="304.1"/>
<use href="#b26" x="257.3" y="337.3"/>
<use href="#k26" x="314.0" y="382.5"/>
<use href="#k22" x="378.4" y="289.2"/>
<use href="#b26" x="312.7" y="339.2"/>
<use href="#k22" x="304.8" y="241.6"/>
<use href="#g24" x="323.5" y="278.7"/>
<use href="#k26" x="289.0" y="310.3"/>
<use href="#g22" x="377.3" y="253.1"/>
<use href="#g24" x="331.1" y="352.4"/>
<use href="#k24" x="365.5" y="330.4"/>
<use href="#k26" x="330.2" y="280.3"/>
<use href="#g26" x="335.3" y="268.2"/>
<use href="#r22" x="274.5" y="196.2"/>
<use href="#k22" x="334.2" y="282.9"/>
<use href="#g26" x="329.1" y="248.9"/>
<use href="#g26" x="323.6" y="250.9"/>
<use href="#b24" x="251.0" y="295.4"/>
<use href="#g26" x="329.5" y="329.9"/>
<use href="#k22" x="315.9" y="314.2"/>
<use href="#k24" x="353.1" y="272.7"/>
<use href="#b22" x="267.4" y="320.7"/>
<use href="#g24" x="317.7" y="257.0"/>
<use href="#g24" x="318.2" y="245.4"/>
<use href="#b22" x="282.6" y="302.0"/>
<use href="#k24" x="290.3" y="333.8"/>
<use href="#r26" x="307.7" y="172.5"/>
<use href="#g24" x="343.0" y="334.0"/>
<use href="#r24" x="295.7" y="155.1"/>
<use href="#g24" x="309.9" y="291.9"/>
<use href="#r22" x="364.7" y="217.6"/>
<use href="#b26" x="315.7" y="246.2"/>
<use href="#g24" x="324.7" y="270.7"/>
<use href="#b22" x="278.0" y="306.2"/>
<use href="#k22" x="356.2" y="230.7"/>
<use href="#g24" x="379.5" y="260.6"/>
<use href="#g22" x="339.4" y="268.7"/>
<use href="#k24" x="325.5" y="274.5"/>
<use href="#g24" x="371.1" y="289.9"/>
<use href="#g24" x="311.9" y="293.1"/>
<use href="#g26" x="365.8" y="226.9"/>
<use href="#r22" x="337.9" y="179.9"/>
<use href="#k26" x="307.9" y="337.8"/>
<use href="#g22" x="345.8" y="302.5"/>
<use href="#k22" x="346.9" y="359.1"/>
<use href="#r22" x="289.9" y="215.5"/>
<use href="#k24" x="328.7" y="346.6"/>
<use href="#r22" x="331.9" y="240.8"/>
<use href="#g26" x="371.7" y="234.0"/>
<use href="#k26" x="346.9" y="338.8"/>
<use href="#b22" x="325.6" y="319.5"/>
<use href="#k26" x="308.6" y="267.5"/>
<use href="#b24" x="312.3" y="329.7"/>
<use href="#g24" x="345.4" y="319.7"/>
<use href="#r24" x="311.2" y="239.7"/>
<use href="#g24" x="332.4" y="335.4"/>
<use href="#r26" x="289.7" y="127.7"/>
<use href="#k22" x="314.5" y="309.0"/>
<use href="#b26" x="284.5" y="339.1"/>
<use href="#g24" x="290.9" y="304.4"/>
<use href="#k22" x="347.3" y="305.7"/>
<use href="#g26" x="346.1" y="266.0"/>
<use href="#g24" x="359.7" y="306.9"/>
<use href="#b26" x="247.6" y="290.9"/>
<use href="#g24" x="360.1" y="290.9"/>
<use href="#r22" x="292.5" y="122.2"/>
<use href="#k22" x="298.5" y="272.8"/>
<use href="#k22" x="292.5" y="377.6"/>
<use href="#b26" x="306.3" y="298.1"/>
<use href="#k24" x="303.4" y="271.2"/>
<use href="#r22" x="345.1" y="274.4"/>
<use href="#b26" x="266.7" y="289.1"/>
<use href="#g22" x="331.2" y="293.8"/>
<use href="#k26" x="266.5" y="266.5"/>
<use href="#g24" x="368.7" y="273.0"/>
<use href="#b24" x="263.1" y="273.1"/>
<use href="#g24" x="393.3" y="210.4"/>
<use href="#g22" x="348.7" y="281.0"/>
<use href="#k24" x="365.2" y="327.1"/>
<use href="#g22" x="412.2" y="276.2"/>
<use href="#b22" x="276.7" y="250.5"/>
<use href="#g24" x="362.3" y="256.4"/>
<use href="#g24" x="287.8" y="283.3"/>
<use href="#b22" x="341.1" y="251.9"/>
<use href="#r24" x="255.3" y="128.1"/>
<use href="#g22" x="363.5" y="331.9"/>
<use href="#b22" x="254.1" y="287.7"/>
<use href="#r26" x="272.8" y="137.3"/>
<use href="#k22" x="302.3" y="366.6"/>
<use href="#b26" x="285.4" y="323.0"/>
<use href="#b26" x="342.6" y="311.0"/>
<use href="#k22" x="351.7" y="292.2"/>
<use href="#k26" x="320.5" y="292.2"/>
<use href="#g22" x="290.7" y="268.8"/>
<use href="#k26" x="342.7" y="322.2"/>
<use href="#r24" x="271.2" y="116.9"/>
<use href="#r26" x="351.6" y="251.6"/>
<use href="#g24" x="363.1" y="318.3"/>
<use href="#b22" x="279.4" y="288.6"/>
<use href="#b26" x="331.4" y="315.3"/>
<use href="#k26" x="356.7" y="329.8"/>
<use href="#r26" x="306.0" y="200.9"/>
<use href="#b26" x="281.5" y="340.6"/>
<use href="#g26" x="376.6" y="327.3"/>
<use href="#b22" x="332.6" y="273.2"/>
<use href="#r22" x="296.4" y="230.2"/>
<use href="#b24" x="304.7" y="309.8"/>
<use href="#b22" x="246.9" y="314.8"/>
<use href="#g24" x="371.5" y="330.0"/>
<use href="#r26" x="316.6" y="186.2"/>
<use href="#g26" x="314.2" y="358.1"/>
<use href="#r22" x="329.1" y="286.3"/>
<use href="#k24" x="307.2" y="272.8"/>
<use href="#b22" x="302.0" y="275.2"/>
<use href="#g24" x="379.9" y="284.2"/>
<use href="#k24" x="301.0" y="285.6"/>
<use href="#k26" x="330.1" y="294.9"/>
<use href="#k24" x="344.8" y="314.4"/>
<use href="#g26" x="398.0" y="350.2"/>
<use href="#g22" x="358.5" y="234.1"/>
<use href="#g22" x="306.6" y="262.9"/>
<use href="#b26" x="292.7" y="289.9"/>
<use href="#k26" x="334.1" y="296.3"/>
<use href="#b26" x="293.7" y="309.5"/>
<use href="#b22" x="247.9" y="259.4"/>
<use href="#b22" x="300.8" y="300.0"/>
<use href="#k22" x="304.3" y="314.3"/>
<use href="#b26" x="313.4" y="273.9"/>
<use href="#b22" x="309.4" y="255.7"/>
<use href="#g26" x="360.6" y="325.3"/>
<use href="#g26" x="394.1" y="279.2"/>
<use href="#k26" x="359.1" y="339.7"/>
<use href="#b26" x="254.2" y="275.0"/>
<use href="#g22" x="368.7" y="335.9"/>
<use href="#k26" x="331.2" y="256.8"/>
<use href="#r24" x="237.9" y="186.1"/>
<use href="#b26" x="324.3" y="297.0"/>
<use href="#b22" x="278.7" y="267.2"/>
<use href="#k22" x="312.4" y="316.3"/>
<use href="#r26" x="330.6" y="281.7"/>
<use href="#g26" x="342.2" y="290.7"/>
<use href="#r24" x="337.0" y="170.5"/>
<use href="#r24" x="346.8" y="251.4"/>
<use href="#g24" x="400.2" y="241.8"/>
<use href="#g24" x="380.6" y="223.9"/>
<use href="#k26" x="284.2" y="327.2"/>
<use href="#r26" x="288.1" y="200.8"/>
<use href="#k26" x="286.6" y="295.6"/>
<use href="#g24" x="347.1" y="291.9"/>
<use href="#b22" x="351.0" y="264.1"/>
<use href="#k24" x="330.7" y="279.5"/>
<use href="#b22" x="289.1" y="319.9"/>
<use href="#k22" x="316.8" y="358.3"/>
<use href="#k22" x="300.6" y="235.8"/>
<use href="#g26" x="268.2" y="282.4"/>
<use href="#g26" x="378.4" y="289.6"/>
<use href="#r24" x="379.5" y="267.0"/>
<use href="#b26" x="266.1" y="322.6"/>
<use href="#r26" x="272.1" y="236.0"/>
<use href="#b26" x="281.7" y="310.8"/>
<use href="#k22" x="280.4" y="287.7"/>
<use href="#r22" x="304.5" y="216.1"/>
<use href="#k22" x="311.0" y="332.4"/>
<use href="#r22" x="293.5" y="147.4"/>
<use href="#g26" x="332.5" y="200.2"/>
<use href="#r24" x="265.1" y="151.1"/>
<use href="#g22" x="394.1" y="213.1"/>
<use href="#r26" x="239.6" y="200.9"/>
<use href="#g22" x="298.3" y="212.4"/>
<use href="#r26" x="261.3" y="152.9"/>
<use href="#b22" x="283.6" y="308.2"/>
<use href="#r24" x="251.9" y="192.3"/>
<use href="#g26" x="327.7" y="324.0"/>
<use href="#b22" x="285.5" y="322.1"/>
<use href="#k24" x="304.7" y="272.9"/>
<use href="#k26" x="340.9" y="322.9"/>
<use href="#k26" x="326.1" y="324.0"/>
<use href="#k26" x="265.5" y="321.7"/>
<use href="#b22" x="277.4" y="365.7"/>
<use href="#k26" x="368.0" y="235.6"/>
<use href="#g26" x="359.3" y="330.8"/>
<use href="#k22" x="342.8" y="326.6"/>
<use href="#r26" x="291.0" y="176.5"/>
<use href="#g22" x="309.1" y="236.8"/>
<use href="#k24" x="245.8" y="305.2"/>
<use href="#b22" x="246.7" y="304.3"/>
<use href="#r26" x="347.7" y="296.6"/>
<use href="#g26" x="396.3" y="253.9"/>
<use href="#g24" x="395.8" y="287.5"/>
<use href="#b24" x="330.2" y="277.7"/>
<use href="#r22" x="328.9" y="215.7"/>
<use href="#r22" x="346.1" y="245.9"/>
<use href="#r22" x="366.3" y="286.1"/>
<use href="#r24" x="275.0" y="182.9"/>
<use href="#g24" x="328.2" y="270.8"/>
<use href="#k26" x="348.6" y="241.9"/>
<use href="#b26" x="322.5" y="270.7"/>
<use href="#b26" x="326.8" y="337.7"/>
<use href="#r26" x="258.5" y="174.1"/>
<use href="#r24" x="284.8" y="198.4"/>
<use href="#b24" x="313.6" y="258.0"/>
<use href="#b26" x="329.7" y="317.8"/>
<use href="#g22" x="313.5" y="303.7"/>
<use href="#b24" x="309.7" y="280.6"/>
<use href="#g22" x="320.8" y="256.9"/>
<use href="#k22" x="365.5" y="296.7"/>
<use href="#b24" x="290.5" y="260.7"/>
<use href="#k24" x="335.6" y="321.2"/>
<use href="#k22" x="323.9" y="346.4"/>
<use href="#g26" x="347.8" y="346.8"/>
<use href="#g24" x="289.8" y="268.0"/>
<use href="#r22" x="353.5" y="238.2"/>
<use href="#r22" x="328.7" y="311.9"/>
<use href="#g26" x="360.4" y="244.8"/>
<use href="#g24" x="333.4" y="219.1"/>
<use href="#r24" x="272.8" y="204.8"/>
<use href="#k22" x="325.5" y="334.5"/>
<use href="#g24" x="306.6" y="348.4"/>
<use href="#k24" x="321.0" y="347.3"/>
<use href="#k24" x="328.9" y="266.0"/>
<use href="#b22" x="349.2" y="326.6"/>
<use href="#g26" x="337.9" y="258.0"/>
<use href="#k26" x="363.8" y="348.0"/>
<use href="#r24" x="304.2" y="105.2"/>
<use href="#k24" x="378.1" y="294.7"/>
<use href="#k26" x="272.6" y="259.1"/>
<use href="#b26" x="347.1" y="315.9"/>
<use href="#g22" x="388.5" y="330.4"/>
<use href="#r24" x="308.2" y="149.6"/>
<use href="#b22" x="343.1" y="290.6"/>
<use href="#k26" x="266.7" y="275.0"/>
<use href="#k24" x="336.4" y="316.8"/>
<use href="#b22" x="338.1" y="296.8"/>
<use href="#b22" x="286.5" y="286.8"/>
<use href="#k22" x="344.2" y="291.9"/>
<use href="#b26" x="296.6" y="244.2"/>
<use href="#r24" x="394.7" y="248.9"/>
<use href="#r22" x="267.8" y="162.5"/>
<use href="#b26" x="338.6" y="253.6"/>
<use href="#g26" x="299.6" y="305.3"/>
<use href="#k22" x="328.6" y="244.0"/>
<use href="#g22" x="282.7" y="245.1"/>
<use href="#k24" x="355.8" y="280.2"/>
<use href="#b24" x="300.8" y="304.2"/>
<use href="#b26" x="328.7" y="320.5"/>
<use href="#r26" x="267.5" y="138.5"/>
<use href="#b26" x="243.7" y="314.3"/>
<use href="#k26" x="303.0" y="318.5"/>
<use href="#r24" x="364.0" y="295.7"/>
<use href="#b26" x="282.3" y="305.3"/>
<use href="#k22" x="275.7" y="271.5"/>
<use href="#r24" x="272.5" y="240.0"/>
<use href="#k22" x="330.4" y="302.5"/>
<use href="#g24" x="318.9" y="338.6"/>
<use href="#b24" x="298.5" y="292.0"/>
<use href="#r22" x="343.9" y="229.1"/>
<use href="#g24" x="326.2" y="214.5"/>
<use href="#r26" x="358.6" y="233.2"/>
<use href="#g24" x="334.4" y="322.7"/>
<use href="#b22" x="301.6" y="298.1"/>
<use href="#g24" x="319.4" y="304.2"/>
<use href="#b26" x="305.5" y="243.4"/>
<use href="#b26" x="239.0" y="302.3"/>
<use href="#g24" x="343.7" y="298.9"/>
<use href="#r22" x="296.8" y="181.5"/>
<use href="#k22" x="332.1" y="321.5"/>
<use href="#k24" x="346.9" y="292.2"/>
<use href="#b24" x="292.9" y="318.5"/>
<use href="#g26" x="314.5" y="281.5"/>
<use href="#b26" x="262.1" y="304.5"/>
<use href="#b22" x="290.7" y="286.8"/>
<use href="#b24" x="252.4" y="297.7"/>
<use href="#g26" x="358.0" y="348.0"/>
<use href="#r22" x="309.1" y="294.8"/>
<use href="#b24" x="285.9" y="301.7"/>
<use href="#k26" x="383.0" y="270.6"/>
<use href="#g22" x="349.7" y="296.3"/>
<use href="#b24" x="342.3" y="301.9"/>
<use href="#k24" x="338.4" y="376.3"/>
<use href="#g22" x="269.3" y="336.8"/>
<use href="#g24" x="377.9" y="204.0"/>
<use href="#g22" x="365.8" y="229.2"/>
<use href="#k22" x="297.9" y="311.9"/>
<use href="#k22" x="340.4" y="368.9"/>
<use href="#g24" x="295.5" y="295.5"/>
<use href="#k22" x="303.1" y="361.8"/>
<use href="#b22" x="275.7" y="307.8"/>
<use href="#k26" x="296.7" y="285.3"/>
<use href="#b24" x="324.7" y="302.8"/>
<use href="#g26" x="290.3" y="287.8"/>
<use href="#b26" x="255.4" y="281.6"/>
<use href="#r22" x="371.0" y="256.5"/>
<use href="#b24" x="344.8" y="334.6"/>
<use href="#g24" x="326.8" y="329.7"/>
<use href="#g22" x="344.9" y="250.7"/>
<use href="#r22" x="268.9" y="166.3"/>
<use href="#b26" x="309.1" y="237.5"/>
<use href="#k26" x="351.9" y="238.6"/>
<use href="#g26" x="361.4" y="317.7"/>
<use href="#b24" x="274.9" y="303.0"/>
<use href="#g22" x="268.7" y="286.2"/>
<use href="#r22" x="387.3" y="303.7"/>
<use href="#g24" x="343.0" y="342.2"/>
<use href="#g26" x="303.9" y="278.4"/>
<use href="#r24" x="424.9" y="265.7"/>
<use href="#g24" x="371.1" y="343.8"/>
<use href="#k26" x="331.9" y="353.3"/>
<use href="#g26" x="344.8" y="248.5"/>
<use href="#g26" x="346.2" y="316.4"/>
<use href="#r26" x="306.7" y="260.1"/>
<use href="#g24" x="376.1" y="303.2"/>
<use href="#g26" x="381.9" y="336.9"/>
<use href="#b24" x="245.7" y="301.0"/>
<use href="#g22" x="274.4" y="325.3"/>
<use href="#b24" x="246.3" y="291.3"/>
<use href="#r24" x="343.2" y="202.5"/>
<use href="#b24" x="317.4" y="305.8"/>
<use href="#r22" x="271.1" y="212.3"/>
<use href="#r22" x="335.2" y="232.5"/>
<use href="#g26" x="282.0" y="226.6"/>
<use href="#g26" x="309.2" y="260.8"/>
<use href="#r24" x="294.5" y="228.2"/>
<use href="#k24" x="354.3" y="277.9"/>
<use href="#g22" x="381.1" y="342.5"/>
<use href="#k22" x="339.9" y="253.4"/>
<use href="#g26" x="365.8" y="253.9"/>
<use href="#k26" x="319.8" y="285.2"/>
<use href="#k22" x="297.3" y="320.5"/>
<use href="#g24" x="347.6" y="298.4"/>
<use href="#k26" x="329.3" y="275.2"/>
<use href="#k26" x="290.4" y="290.1"/>
<use href="#g26" x="407.5" y="248.7"/>
<use href="#r26" x="276.7" y="185.5"/>
<use href="#k22" x="273.5" y="289.0"/>
<use href="#k24" x="383.6" y="307.8"/>
<use href="#b26" x="278.0" y="352.3"/>
<use href="#r26" x="257.8" y="178.0"/>
<use href="#b26" x="320.4" y="289.0"/>
<use href="#r24" x="270.9" y="214.8"/>
<use href="#k22" x="329.0" y="343.2"/>
<use href="#g24" x="339.1" y="273.2"/>
<use href="#r22" x="282.7" y="176.1"/>
<use href="#g26" x="389.3" y="265.3"/>
<use href="#k22" x="366.4" y="302.2"/>
<use href="#k26" x="340.8" y="299.4"/>
<use href="#g24" x="412.6" y="331.0"/>
<use href="#b24" x="319.9" y="249.6"/>
<use href="#k24" x="297.8" y="284.4"/>
<use href="#g22" x="321.1" y="235.4"/>
<use href="#k26" x="260.5" y="320.7"/>
<use href="#b24" x="265.7" y="250.5"/>
<use href="#b22" x="325.7" y="262.6"/>
<use href="#b22" x="269.6" y="360.3"/>
<use href="#r22" x="363.8" y="254.5"/>
<use href="#k22" x="268.9" y="361.0"/>
<use href="#r24" x="260.2" y="165.1"/>
<use href="#k24" x="290.7" y="358.0"/>
<use href="#g22" x="271.8" y="311.2"/>
<use href="#k22" x="291.4" y="347.1"/>
<use href="#b22" x="283.1" y="326.8"/>
<use href="#g24" x="280.5" y="228.2"/>
<use href="#g22" x="386.9" y="264.3"/>
<use href="#g24" x="340.5" y="379.4"/>
<use href="#g24" x="295.2" y="259.5"/>
<use href="#k22" x="389.9" y="279.3"/>
<use href="#r26" x="324.1" y="216.3"/>
<use href="#k22" x="292.7" y="365.9"/>
<use href="#b26" x="288.3" y="288.0"/>
<use href="#k24" x="274.2" y="336.3"/>
<use href="#b22" x="304.3" y="304.9"/>
<use href="#g26" x="324.2" y="221.8"/>
<use href="#g26" x="317.4" y="266.3"/>
<use href="#b22" x="284.6" y="352.6"/>
<use href="#b26" x="274.8" y="281.2"/>
<use href="#k24" x="311.2" y="286.9"/>
<use href="#g22" x="305.5" y="199.7"/>
<use href="#r24" x="308.3" y="228.8"/>
<use href="#b24" x="284.7" y="305.4"/>
<use href="#g22" x="323.4" y="196.0"/>
<use href="#k24" x="283.2" y="263.0"/>
<use href="#g22" x="344.1" y="311.9"/>
<use href="#b22" x="320.4" y="285.3"/>
<use href="#g22" x="362.5" y="301.1"/>
<use href="#b24" x="274.4" y="315.1"/>
<use href="#g22" x="317.9" y="314.6"/>
<use href="#b26" x="314.5" y="308.0"/>
<use href="#r24" x="279.3" y="94.1"/>
<use href="#k22" x="262.0" y="322.6"/>
<use href="#k24" x="291.6" y="296.4"/>
<use href="#g26" x="290.7" y="360.4"/>
<use href="#k26" x="346.6" y="341.9"/>
<use href="#r22" x="305.2" y="193.8"/>
<use href="#g26" x="357.5" y="261.3"/>
<use href="#g24" x="276.0" y="222.2"/>
<use href="#g22" x="371.6" y="296.5"/>
<use href="#g26" x="305.2" y="339.4"/>
<use href="#b22" x="263.9" y="235.3"/>
<use href="#r24" x="287.2" y="237.8"/>
<use href="#r24" x="257.1" y="169.1"/>
<use href="#k24" x="356.3" y="291.5"/>
<use href="#k24" x="317.2" y="324.4"/>
<use href="#r26" x="288.6" y="149.5"/>
<use href="#r24" x="347.3" y="204.3"/>
<use href="#k26" x="314.0" y="312.6"/>
<use href="#g22" x="338.1" y="266.3"/>
<use href="#g24" x="292.3" y="294.8"/>
<use href="#b24" x="257.1" y="367.4"/>
<use href="#b24" x="282.3" y="310.2"/>
<use href="#b24" x="315.3" y="257.7"/>
<use href="#g24" x="283.1" y="260.9"/>
<use href="#g26" x="358.7" y="272.5"/>
<use href="#r24" x="291.2" y="192.0"/>
<use href="#b22" x="286.5" y="341.2"/>
<use href="#b26" x="295.1" y="304.9"/>
<use href="#b24" x="222.8" y="283.1"/>
<use href="#g24" x="318.8" y="321.0"/>
<use href="#r24" x="409.1" y="290.1"/>
<use href="#b24" x="264.0" y="243.6"/>
<use href="#g22" x="308.8" y="310.5"/>
<use href="#k26" x="319.1" y="301.2"/>
<use href="#r26" x="344.3" y="285.7"/>
<use href="#b24" x="287.1" y="317.5"/>
<use href="#b22" x="295.0" y="269.7"/>
<use href="#b22" x="298.2" y="353.8"/>
<use href="#b22" x="328.6" y="290.1"/>
<use href="#b24" x="266.0" y="285.4"/>
<use href="#g22" x="298.3" y="358.8"/>
<use href="#g26" x="298.4" y="306.6"/>
<use href="#k24" x="347.7" y="234.0"/>
<use href="#g24" x="362.9" y="378.6"/>
<use href="#b24" x="277.6" y="316.5"/>
<use href="#b26" x="301.7" y="299.9"/>
<use href="#k22" x="373.9" y="343.2"/>
<use href="#k22" x="344.6" y="297.7"/>
<use href="#k26" x="290.2" y="287.1"/>
<use href="#k22" x="353.0" y="350.5"/>
<use href="#g22" x="404.0" y="276.4"/>
<use href="#g24" x="303.2" y="275.4"/>
<use href="#k22" x="348.2" y="338.9"/>
<use href="#r22" x="366.7" y="248.2"/>
<use href="#r26" x="324.0" y="214.6"/>
<use href="#g24" x="329.2" y="294.2"/>
<use href="#g24" x="352.0" y="193.9"/>
<use href="#g24" x="356.7" y="374.5"/>
<use href="#g24" x="392.3" y="250.8"/>
<use href="#k24" x="327.1" y="354.0"/>
<use href="#r26" x="295.0" y="186.0"/>
<use href="#k26" x="311.7" y="314.2"/>
<use href="#g26" x="363.8" y="293.3"/>
<use href="#r22" x="298.6" y="179.2"/>
<use href="#k24" x="341.2" y="326.4"/>
<use href="#b26" x="321.7" y="259.5"/>
<use href="#k22" x="366.0" y="315.3"/>
<use href="#b22" x="354.3" y="296.6"/>
<use href="#k24" x="318.7" y="278.9"/>
<use href="#r24" x="262.3" y="188.7"/>
<use href="#k26" x="298.9" y="294.3"/>
<use href="#r22" x="292.4" y="132.4"/>
<use href="#r22" x="306.1" y="218.7"/>
<use href="#b26" x="223.8" y="338.6"/>
<use href="#b22" x="295.7" y="277.0"/>
<use href="#g22" x="313.4" y="288.5"/>
<use href="#r22" x="371.3" y="243.1"/>
<use href="#g26" x="304.5" y="303.8"/>
<use href="#g26" x="318.6" y="318.7"/>
<use href="#b26" x="242.3" y="332.6"/>
<use href="#b26" x="287.1" y="291.6"/>
<use href="#g22" x="377.3" y="354.8"/>
<use href="#g24" x="405.7" y="257.7"/>
<use href="#b24" x="316.7" y="290.2"/>
<use href="#g26" x="280.9" y="214.1"/>
<use href="#g24" x="354.7" y="337.2"/>
<use href="#g24" x="405.3" y="260.6"/>
<use href="#r26" x="337.7" y="171.6"/>
<use href="#r24" x="267.6" y="158.6"/>
<use href="#g24" x="332.5" y="263.9"/>
<use href="#g22" x="328.1" y="268.7"/>
<use href="#g22" x="330.2" y="227.1"/>
<use href="#b22" x="273.2" y="296.2"/>
<use href="#k22" x="337.2" y="294.7"/>
<use href="#r24" x="325.8" y="150.7"/>
<use href="#k26" x="356.7" y="272.8"/>
<use href="#g24" x="330.2" y="336.3"/>
<use href="#r22" x="301.6" y="296.4"/>
<use href="#g22" x="326.9" y="224.5"/>
<use href="#k26" x="332.3" y="297.7"/>
<use href="#k24" x="314.2" y="312.5"/>
<use href="#k24" x="312.8" y="343.5"/>
<use href="#g22" x="309.4" y="295.1"/>
<use href="#g24" x="389.5" y="327.6"/>
<use href="#k22" x="300.6" y="340.9"/>
<use href="#g22" x="300.1" y="300.1"/>
<use href="#b24" x="323.7" y="238.0"/>
<use href="#k24" x="340.1" y="290.6"/>
<use href="#r26" x="279.8" y="277.3"/>
<use href="#k24" x="341.5" y="290.9"/>
<use href="#k22" x="340.1" y="366.5"/>
<use href="#g26" x="385.7" y="296.2"/>
<use href="#b24" x="270.3" y="313.6"/>
<use href="#b24" x="310.8" y="290.7"/>
<use href="#g22" x="403.9" y="287.9"/>
<use href="#g24" x="307.1" y="255.0"/>
<use href="#k24" x="322.5" y="362.4"/>
<use href="#r24" x="345.8" y="192.9"/>
<use href="#b22" x="259.1" y="262.3"/>
<use href="#r26" x="276.6" y="159.2"/>
<use href="#b22" x="258.1" y="296.1"/>
<use href="#r26" x="294.4" y="223.0"/>
<use href="#g24" x="348.1" y="303.5"/>
<use href="#r26" x="367.1" y="205.2"/>
<use href="#k26" x="324.0" y="276.1"/>
<use href="#g24" x="339.2" y="230.8"/>
<use href="#g26" x="326.0" y="292.2"/>
<use href="#b24" x="263.6" y="285.1"/>
<use href="#g24" x="331.4" y="313.5"/>
<use href="#k24" x="287.0" y="343.4"/>
<use href="#k24" x="275.6" y="326.9"/>
<use href="#r24" x="272.1" y="195.5"/>
<use href="#b24" x="221.2" y="307.7"/>
<use href="#r26" x="303.2" y="156.2"/>
<use href="#k26" x="324.7" y="217.8"/>
<use href="#k26" x="358.4" y="232.5"/>
<use href="#b26" x="286.7" y="243.9"/>
<use href="#g22" x="313.8" y="352.2"/>
<use href="#r26" x="339.8" y="168.4"/>
<use href="#g26" x="395.5" y="269.0"/>
<use href="#b26" x="294.9" y="245.2"/>
<use href="#b24" x="268.6" y="310.3"/>
<use href="#k26" x="314.7" y="319.1"/>
<use href="#b22" x="267.8" y="255.5"/>
<use href="#k24" x="282.0" y="283.4"/>
<use href="#r22" x="331.1" y="177.1"/>
<use href="#k22" x="267.0" y="312.3"/>
<use href="#b22" x="298.1" y="285.4"/>
<use href="#g24" x="296.6" y="249.6"/>
<use href="#k22" x="365.7" y="231.4"/>
<use href="#g24" x="325.0" y="343.6"/>
<use href="#b26" x="318.5" y="312.5"/>
<use href="#g26" x="390.9" y="280.3"/>
<use href="#b24" x="282.3" y="320.2"/>
<use href="#r22" x="321.6" y="258.2"/>
<use href="#g22" x="357.7" y="242.2"/>
<use href="#b26" x="307.5" y="315.9"/>
<use href="#b26" x="292.4" y="332.0"/>
<use href="#g24" x="313.9" y="332.4"/>
<use href="#g26" x="317.9" y="278.0"/>
<use href="#r26" x="328.4" y="209.8"/>
<use href="#k24" x="307.3" y="293.0"/>
<use href="#r26" x="274.7" y="186.4"/>
<use href="#k26" x="301.6" y="277.2"/>
<use href="#b22" x="248.1" y="313.5"/>
<use href="#b22" x="273.3" y="292.3"/>
<use href="#b26" x="317.4" y="277.3"/>
<use href="#k22" x="254.9" y="305.7"/>
<use href="#k24" x="269.6" y="351.5"/>
<use href="#k26" x="351.8" y="239.2"/>
<use href="#g26" x="295.4" y="214.8"/>
<use href="#b22" x="294.8" y="269.7"/>
<use href="#r22" x="312.9" y="167.7"/>
<use href="#r24" x="261.9" y="138.8"/>
<use href="#g22" x="359.4" y="304.6"/>
<use href="#b24" x="349.9" y="273.6"/>
<use href="#b24" x="320.8" y="290.3"/>
<use href="#b22" x="272.7" y="264.2"/>
<use href="#b26" x="346.5" y="331.3"/>
<use href="#g26" x="372.6" y="250.5"/>
<use href="#g22" x="357.1" y="242.9"/>
<use href="#g26" x="333.9" y="254.0"/>
<use href="#b22" x="352.3" y="267.5"/>
<use href="#k26" x="334.3" y="229.7"/>
<use href="#k26" x="335.2" y="313.7"/>
<use href="#k24" x="318.7" y="362.1"/>
<use href="#k24" x="332.6" y="347.1"/>
<use href="#b26" x="285.2" y="282.3"/>
<use href="#r24" x="304.2" y="237.3"/>
<use href="#r26" x="316.6" y="142.0"/>
<use href="#k24" x="315.6" y="317.0"/>
<use href="#k22" x="280.7" y="256.6"/>
<use href="#r26" x="320.4" y="201.5"/>
<use href="#k22" x="333.8" y="267.6"/>
<use href="#r22" x="339.4" y="204.1"/>
<use href="#r24" x="366.7" y="228.1"/>
<use href="#k26" x="365.2" y="351.6"/>
<use href="#r22" x="325.5" y="234.5"/>
<use href="#g24" x="334.8" y="241.0"/>
<use href="#g22" x="306.6" y="355.9"/>
<use href="#r22" x="283.3" y="231.2"/>
<use href="#r24" x="285.9" y="188.5"/>
<use href="#g24" x="299.1" y="302.1"/>
<use href="#r24" x="260.8" y="167.2"/>
<use href="#k24" x="336.6" y="223.8"/>
<use href="#b22" x="262.5" y="310.2"/>
<use href="#b22" x="320.6" y="313.1"/>
<use href="#r22" x="274.4" y="229.4"/>
<use href="#g26" x="331.7" y="313.2"/>
<use href="#b22" x="290.0" y="293.1"/>
<use href="#b26" x="311.4" y="314.4"/>
<use href="#g22" x="303.0" y="296.9"/>
<use href="#r24" x="290.5" y="119.8"/>
<use href="#g26" x="350.6" y="331.6"/>
<use href="#k24" x="367.2" y="239.4"/>
<use href="#r26" x="299.9" y="238.7"/>
<use href="#k22" x="304.3" y="278.3"/>
<use href="#k24" x="323.2" y="296.0"/>
<use href="#r26" x="359.3" y="168.5"/>
<use href="#b24" x="313.3" y="261.5"/>
<use href="#b26" x="273.3" y="292.0"/>
<use href="#k22" x="395.6" y="289.8"/>
<use href="#b24" x="321.1" y="306.6"/>
<use href="#r22" x="340.1" y="169.7"/>
<use href="#r26" x="270.2" y="115.2"/>
<use href="#r22" x="362.4" y="253.6"/>
<use href="#g24" x="345.1" y="294.0"/>
<use href="#b22" x="284.2" y="306.1"/>
<use href="#k24" x="356.0" y="299.6"/>
<use href="#r24" x="273.5" y="175.5"/>
<use href="#b26" x="273.8" y="321.4"/>
<use href="#g22" x="298.0" y="250.5"/>
<use href="#k26" x="343.8" y="267.4"/>
<use href="#g22" x="395.5" y="231.5"/>
<use href="#b22" x="304.5" y="326.6"/>
<use href="#g24" x="324.9" y="216.2"/>
<use href="#g22" x="348.9" y="379.9"/>
<use href="#k22" x="344.4" y="337.9"/>
<use href="#b26" x="263.1" y="262.8"/>
<use href="#k24" x="352.2" y="343.2"/>
<use href="#k26" x="293.9" y="349.9"/>
<use href="#b22" x="293.0" y="240.5"/>
<use href="#g24" x="368.3" y="292.3"/>
<use href="#b26" x="319.3" y="298.5"/>
<use href="#g24" x="303.8" y="275.7"/>
<use href="#b24" x="321.0" y="283.9"/>
<use href="#g26" x="382.0" y="274.7"/>
<use href="#g22" x="336.6" y="258.1"/>
<use href="#k26" x="317.2" y="285.1"/>
<use href="#k24" x="305.2" y="292.1"/>
<use href="#b26" x="248.9" y="269.9"/>
<use href="#r26" x="375.9" y="226.7"/>
<use href="#b22" x="276.4" y="303.3"/>
<use href="#r24" x="291.8" y="186.2"/>
<use href="#k22" x="287.7" y="268.7"/>
<use href="#r26" x="246.7" y="179.0"/>
<use href="#r22" x="287.3" y="224.6"/>
<use href="#g24" x="291.5" y="259.8"/>
<use href="#k26" x="385.9" y="258.5"/>
<use href="#r24" x="322.7" y="239.9"/>
<use href="#b26" x="317.6" y="321.1"/>
<use href="#g22" x="347.1" y="272.4"/>
<use href="#g22" x="394.0" y="289.4"/>
<use href="#g26" x="312.4" y="321.8"/>
<use href="#b26" x="297.8" y="263.7"/>
<use href="#k22" x="297.5" y="312.2"/>
<use href="#b24" x="309.7" y="316.0"/>
<use href="#g22" x="352.2" y="315.6"/>
<use href="#g26" x="378.0" y="311.6"/>
<use href="#k22" x="379.7" y="280.1"/>
<use href="#g24" x="345.1" y="296.7"/>
<use href="#g26" x="271.5" y="302.3"/>
<use href="#r26" x="403.8" y="293.7"/>
<use href="#r26" x="377.2" y="188.9"/>
<use href="#b22" x="310.0" y="318.1"/>
<use href="#g22" x="311.1" y="338.5"/>
<use href="#r26" x="291.2" y="110.7"/>
<use href="#k24" x="278.2" y="310.1"/>
<use href="#g24" x="295.4" y="281.8"/>
<use href="#k24" x="303.1" y="269.6"/>
<use href="#k24" x="299.7" y="300.3"/>
<use href="#r24" x="313.1" y="180.2"/>
<use href="#k22" x="322.8" y="246.1"/>
<use href="#b22" x="283.0" y="312.7"/>
<use href="#r24" x="273.5" y="154.3"/>
<use href="#b24" x="276.4" y="279.0"/>
<use href="#b24" x="305.5" y="317.8"/>
<use href="#g22" x="393.9" y="310.9"/>
<use href="#k24" x="393.5" y="267.9"/>
<use href="#b24" x="236.7" y="308.6"/>
<use href="#b26" x="247.2" y="286.7"/>
<use href="#g22" x="354.6" y="293.6"/>
<use href="#b24" x="270.1" y="287.7"/>
<use href="#k24" x="294.4" y="300.0"/>
<use href="#r22" x="311.3" y="191.0"/>
<use href="#g22" x="336.9" y="288.9"/>
<use href="#r26" x="289.0" y="158.6"/>
<use href="#k26" x="335.1" y="295.8"/>
<use href="#k24" x="327.7" y="278.8"/>
<use href="#g24" x="323.8" y="308.8"/>
<use href="#k24" x="355.9" y="343.4"/>
<use href="#k26" x="282.3" y="363.1"/>
<use href="#r26" x="363.3" y="224.0"/>
<use href="#g26" x="311.2" y="270.2"/>
<use href="#b26" x="330.4" y="298.7"/>
<use href="#k26" x="305.6" y="321.5"/>
<use href="#b22" x="344.8" y="328.4"/>
<use href="#b26" x="258.2" y="312.4"/>
<use href="#g26" x="298.2" y="258.3"/>
<use href="#b22" x="356.3" y="214.8"/>
<use href="#r24" x="262.3" y="144.6"/>
<use href="#r26" x="367.4" y="224.0"/>
<use href="#b26" x="232.9" y="288.1"/>
<use href="#g24" x="367.7" y="292.0"/>
<use href="#b24" x="254.1" y="304.0"/>
<use href="#b22" x="301.1" y="292.3"/>
<use href="#k24" x="334.3" y="270.2"/>
<use href="#r26" x="320.9" y="178.8"/>
<use href="#k26" x="287.0" y="307.6"/>
<use href="#k26" x="389.3" y="299.8"/>
<use href="#k24" x="364.9" y="343.3"/>
<use href="#k26" x="298.0" y="311.1"/>
<use href="#r26" x="327.6" y="160.1"/>
<use href="#g24" x="335.1" y="237.0"/>
<use href="#b22" x="255.7" y="319.7"/>
<use href="#k22" x="346.9" y="314.0"/>
<use href="#g26" x="329.2" y="217.4"/>
<use href="#r22" x="274.9" y="138.8"/>
<use href="#g22" x="346.6" y="231.4"/>
<use href="#k22" x="356.4" y="317.7"/>
<use href="#b26" x="332.6" y="293.0"/>
<use href="#r24" x="245.1" y="210.3"/>
<use href="#r26" x="296.2" y="133.3"/>
<use href="#g26" x="309.2" y="288.9"/>
<use href="#r26" x="303.2" y="171.4"/>
<use href="#g26" x="384.6" y="363.2"/>
<use href="#b24" x="329.7" y="273.0"/>
<use href="#g24" x="289.1" y="281.7"/>
<use href="#b22" x="274.1" y="252.5"/>
<use href="#r24" x="373.3" y="218.7"/>
<use href="#r22" x="317.8" y="182.8"/>
<use href="#k22" x="303.0" y="250.8"/>
<use href="#b24" x="269.1" y="261.8"/>
<use href="#b24" x="298.4" y="281.4"/>
<use href="#g26" x="379.0" y="343.6"/>
<use href="#b26" x="311.0" y="292.4"/>
<use href="#k26" x="311.8" y="371.2"/>
<use href="#k22" x="331.6" y="266.8"/>
<use href="#k22" x="339.0" y="293.6"/>
<use href="#r26" x="291.3" y="232.0"/>
<use href="#k22" x="284.3" y="253.9"/>
<use href="#b26" x="319.5" y="237.5"/>
<use href="#k26" x="274.4" y="288.5"/>
<use href="#k26" x="319.1" y="326.4"/>
<use href="#b24" x="322.5" y="299.5"/>
<use href="#r24" x="370.2" y="221.4"/>
<use href="#k26" x="285.5" y="266.2"/>
<use href="#g22" x="381.4" y="288.5"/>
<use href="#g24" x="341.5" y="231.9"/>
<use href="#k24" x="289.3" y="353.0"/>
<use href="#r24" x="315.5" y="207.4"/>
<use href="#b26" x="313.9" y="327.5"/>
<use href="#k26" x="384.0" y="308.2"/>
<use href="#k22" x="330.2" y="295.3"/>
<use href="#b22" x="262.6" y="302.2"/>
<use href="#b26" x="270.5" y="310.9"/>
<use href="#g24" x="375.6" y="301.1"/>
<use href="#r24" x="332.5" y="130.7"/>
<use href="#g26" x="361.7" y="272.0"/>
<use href="#b22" x="298.9" y="260.4"/>
<use href="#b24" x="286.1" y="277.1"/>
<use href="#k22" x="363.4" y="274.0"/>
<use href="#b22" x="337.0" y="255.2"/>
<use href="#b24" x="294.8" y="323.7"/>
<use href="#r26" x="302.3" y="172.8"/>
<use href="#r26" x="353.9" y="284.0"/>
<use href="#g26" x="304.0" y="248.2"/>
<use href="#k22" x="344.7" y="294.5"/>
<use href="#k24" x="272.3" y="348.3"/>
<use href="#b24" x="311.3" y="336.8"/>
<use href="#g24" x="364.5" y="308.7"/>
<use href="#b22" x="335.9" y="322.4"/>
<use href="#b24" x="334.5" y="306.5"/>
<use href="#k26" x="358.1" y="324.8"/>
<use href="#r22" x="410.7" y="253.3"/>
<use href="#g22" x="311.3" y="276.6"/>
<use href="#r22" x="328.9" y="197.5"/>
<use href="#g26" x="277.0" y="361.6"/>
<use href="#b24" x="271.9" y="276.8"/>
<use href="#b26" x="326.7" y="287.7"/>
<use href="#b24" x="310.7" y="339.1"/>
<use href="#b24" x="340.3" y="252.2"/>
<use href="#r26" x="399.6" y="277.1"/>
<use href="#b22" x="287.7" y="286.8"/>
<use href="#b22" x="260.6" y="308.6"/>
<use href="#k22" x="283.0" y="312.0"/>
<use href="#b26" x="316.4" y="321.5"/>
<use href="#r22" x="320.2" y="187.0"/>
<use href="#r26" x="372.7" y="302.7"/>
<use href="#k22" x="294.2" y="303.3"/>
<use href="#k26" x="328.1" y="299.2"/>
<use href="#b24" x="277.2" y="268.5"/>
<use href="#g26" x="305.4" y="287.9"/>
<use href="#g24" x="365.9" y="250.8"/>
<use href="#k22" x="284.7" y="265.4"/>
<use href="#r26" x="284.2" y="174.9"/>
<use href="#r24" x="370.5" y="275.9"/>
<use href="#k26" x="358.8" y="327.7"/>
<use href="#g26" x="382.8" y="319.1"/>
<use href="#k22" x="361.2" y="306.9"/>
<use href="#g26" x="398.4" y="324.3"/>
<use href="#k26" x="277.4" y="230.8"/>
<use href="#b26" x="305.1" y="277.9"/>
<use href="#k22" x="328.1" y="278.5"/>
<use href="#g24" x="341.6" y="289.5"/>
<use href="#r22" x="297.7" y="171.7"/>
<use href="#g22" x="384.5" y="259.7"/>
<use href="#k22" x="343.9" y="329.1"/>
<use href="#k24" x="349.6" y="306.9"/>
<use href="#g24" x="368.2" y="268.5"/>
<use href="#r22" x="302.8" y="253.4"/>
<use href="#g22" x="334.5" y="250.7"/>
<use href="#r26" x="355.0" y="255.2"/>
<use href="#g22" x="288.6" y="325.9"/>
<use href="#r26" x="338.9" y="178.9"/>
<use href="#b26" x="259.7" y="278.1"/>
<use href="#g26" x="276.0" y="318.1"/>
<use href="#g26" x="351.0" y="279.7"/>
<use href="#r22" x="322.1" y="211.6"/>
<use href="#k24" x="354.5" y="324.9"/>
<use href="#b22" x="340.5" y="329.9"/>
<use href="#b24" x="267.9" y="347.5"/>
<use href="#b24" x="263.1" y="317.7"/>
<use href="#b26" x="267.4" y="298.3"/>
<use href="#b22" x="276.3" y="323.7"/>
<use href="#r26" x="291.7" y="209.3"/>
<use href="#k26" x="302.1" y="301.3"/>
<use href="#g22" x="293.7" y="311.7"/>
<use href="#g22" x="412.4" y="235.7"/>
<use href="#r24" x="292.9" y="163.7"/>
<use href="#k24" x="328.3" y="332.3"/>
<use href="#g26" x="333.8" y="319.6"/>
<use href="#b22" x="331.3" y="281.3"/>
<use href="#r22" x="350.0" y="232.6"/>
<use href="#k22" x="334.8" y="280.2"/>
<use href="#k26" x="335.0" y="311.5"/>
<use href="#b24" x="342.3" y="286.9"/>
<use href="#k24" x="355.9" y="331.2"/>
<use href="#g26" x="359.8" y="219.0"/>
<use href="#g22" x="315.6" y="323.1"/>
<use href="#g22" x="346.0" y="342.6"/>
<use href="#k26" x="276.6" y="320.2"/>
<use href="#b24" x="305.2" y="269.9"/>
<use href="#b22" x="294.4" y="240.9"/>
<use href="#g24" x="346.1" y="299.4"/>
<use href="#g26" x="298.0" y="276.3"/>
<use href="#r24" x="349.7" y="203.7"/>
<use href="#k26" x="291.5" y="318.7"/>
<use href="#k26" x="331.3" y="248.3"/>
<use href="#k26" x="331.3" y="294.7"/>
<use href="#r24" x="325.3" y="173.7"/>
<use href="#r26" x="271.4" y="173.0"/>
<use href="#r26" x="391.4" y="273.0"/>
<use href="#g22" x="389.8" y="271.5"/>
<use href="#g22" x="310.1" y="283.2"/>
<use href="#g24" x="380.0" y="323.1"/>
<use href="#g26" x="325.3" y="334.2"/>
<use href="#g22" x="306.5" y="253.4"/>
<use href="#b24" x="319.8" y="311.8"/>
<use href="#g22" x="365.0" y="249.0"/>
<use href="#k24" x="341.9" y="311.4"/>
<use href="#r22" x="330.6" y="189.8"/>
<use href="#b22" x="228.1" y="298.7"/>
<use href="#g22" x="316.8" y="255.7"/>
<use href="#k24" x="327.6" y="300.3"/>
<use href="#b24" x="288.9" y="309.8"/>
<use href="#b22" x="295.7" y="299.6"/>
<use href="#g26" x="326.3" y="348.6"/>
<use href="#r26" x="369.8" y="278.2"/>
<use href="#g24" x="284.7" y="329.9"/>
<use href="#k26" x="397.0" y="284.0"/>
<use href="#r22" x="280.1" y="178.8"/>
<use href="#g24" x="330.7" y="269.1"/>
<use href="#g24" x="323.6" y="226.6"/>
<use href="#b26" x="292.8" y="268.3"/>
<use href="#b26" x="311.1" y="324.6"/>
<use href="#k22" x="318.5" y="276.3"/>
<use href="#r22" x="304.0" y="180.6"/>
<use href="#k24" x="307.6" y="292.2"/>
<use href="#r24" x="289.2" y="213.7"/>
<use href="#g26" x="383.0" y="261.1"/>
<use href="#b24" x="328.5" y="314.9"/>
<use href="#g26" x="296.8" y="308.6"/>
<use href="#b26" x="291.3" y="277.6"/>
<use href="#g26" x="293.7" y="293.9"/>
<use href="#b22" x="335.3" y="326.9"/>
<use href="#b24" x="273.6" y="312.4"/>
<use href="#g24" x="286.6" y="250.5"/>
<use href="#b26" x="284.4" y="291.9"/>
<use href="#k26" x="293.7" y="275.8"/>
<use href="#b22" x="284.9" y="301.9"/>
<use href="#r22" x="280.0" y="155.3"/>
<use href="#b22" x="252.1" y="297.9"/>
<use href="#g26" x="314.2" y="320.7"/>
<use href="#g24" x="320.9" y="287.4"/>
<use href="#b26" x="288.3" y="334.4"/>
<use href="#b24" x="310.6" y="256.1"/>
<use href="#r26" x="322.2" y="202.1"/>
<use href="#g24" x="328.9" y="258.3"/>
<use href="#g24" x="280.4" y="216.3"/>
<use href="#g22" x="311.8" y="350.2"/>
<use href="#b22" x="312.9" y="275.1"/>
<use href="#b26" x="250.0" y="336.4"/>
<use href="#b24" x="320.9" y="270.3"/>
<use href="#b22" x="255.2" y="338.0"/>
<use href="#b22" x="250.1" y="304.3"/>
<use href="#b26" x="322.8" y="358.2"/>
<use href="#r24" x="278.9" y="166.9"/>
<use href="#k22" x="335.2" y="280.0"/>
<use href="#r22" x="396.2" y="219.0"/>
<use href="#b22" x="272.6" y="290.2"/>
<use href="#g24" x="379.4" y="231.5"/>
<use href="#g26" x="342.5" y="199.2"/>
<use href="#b22" x="252.3" y="301.7"/>
<use href="#g24" x="362.7" y="282.6"/>
<use href="#b24" x="284.9" y="338.5"/>
<use href="#k22" x="372.6" y="355.0"/>
<use href="#k22" x="320.3" y="282.3"/>
<use href="#g24" x="302.1" y="256.5"/>
<use href="#k26" x="259.9" y="303.0"/>
<use href="#g24" x="308.2" y="278.9"/>
<use href="#b24" x="313.4" y="303.0"/>
<use href="#g24" x="353.3" y="280.5"/>
<use href="#k22" x="294.7" y="347.2"/>
<use href="#g26" x="358.3" y="223.4"/>
<use href="#b22" x="293.2" y="297.0"/>
<use href="#b26" x="283.1" y="278.7"/>
<use href="#g22" x="268.8" y="332.9"/>
<use href="#g26" x="306.7" y="331.4"/>
<use href="#g26" x="320.5" y="359.3"/>
<use href="#r24" x="257.4" y="199.6"/>
<use href="#g26" x="301.2" y="247.4"/>
<use href="#g26" x="369.0" y="291.8"/>
<use href="#r26" x="317.1" y="201.2"/>
<use href="#k26" x="344.4" y="241.5"/>
<use href="#k26" x="290.3" y="256.5"/>
<use href="#r24" x="391.0" y="182.4"/>
<use href="#b22" x="262.2" y="363.7"/>
<use href="#g24" x="332.0" y="252.9"/>
<use href="#k26" x="358.4" y="248.6"/>
<use href="#k22" x="332.3" y="271.9"/>
<use href="#b24" x="243.5" y="254.4"/>
<use href="#r22" x="240.0" y="209.3"/>
<use href="#b24" x="242.3" y="305.6"/>
<use href="#g24" x="333.1" y="287.5"/>
<use href="#b22" x="296.9" y="331.1"/>
<use href="#g26" x="361.8" y="217.0"/>
<use href="#k26" x="377.8" y="323.2"/>
<use href="#k26" x="275.8" y="301.6"/>
<use href="#r24" x="399.9" y="211.9"/>
<use href="#b22" x="255.0" y="346.6"/>
<use href="#g26" x="360.7" y="330.7"/>
<use href="#b26" x="323.0" y="303.8"/>
<use href="#g22" x="322.3" y="354.4"/>
<use href="#k26" x="316.1" y="345.2"/>
<use href="#k26" x="334.2" y="289.4"/>
<use href="#g26" x="377.5" y="248.1"/>
<use href="#r26" x="284.7" y="143.5"/>
<use href="#b22" x="283.1" y="298.5"/>
<use href="#g24" x="378.2" y="300.6"/>
<use href="#r26" x="295.9" y="160.8"/>
<use href="#g22" x="381.3" y="325.8"/>
<use href="#b26" x="310.6" y="328.5"/>
<use href="#k22" x="341.4" y="312.4"/>
<use href="#g26" x="368.6" y="257.9"/>
<use href="#g24" x="334.2" y="294.4"/>
<use href="#g22" x="323.9" y="269.9"/>
<use href="#k24" x="330.6" y="335.8"/>
<use href="#g24" x="351.1" y="278.6"/>
<use href="#g26" x="341.4" y="283.4"/>
<use href="#g22" x="316.1" y="323.4"/>
<use href="#b24" x="338.3" y="296.8"/>
<use href="#g24" x="369.7" y="314.1"/>
<use href="#g26" x="364.1" y="341.7"/>
<use href="#r24" x="343.5" y="276.4"/>
<use href="#g24" x="319.4" y="372.9"/>
<use href="#g22" x="399.6" y="245.0"/>
<use href="#r26" x="269.9" y="181.0"/>
<use href="#r24" x="291.2" y="135.1"/>
<use href="#g26" x="290.7" y="301.6"/>
<use href="#b26" x="292.6" y="334.0"/>
<use href="#k22" x="296.6" y="244.2"/>
<use href="#k22" x="320.4" y="308.7"/>
<use href="#k22" x="344.7" y="280.6"/>
<use href="#g24" x="381.1" y="312.1"/>
<use href="#g22" x="389.4" y="339.8"/>
<use href="#g22" x="324.0" y="309.7"/>
<use href="#g22" x="317.4" y="361.7"/>
<use href="#b22" x="324.1" y="293.2"/>
<use href="#r24" x="293.8" y="224.4"/>
<use href="#b24" x="279.5" y="307.7"/>
<use href="#b22" x="297.0" y="252.5"/>
<use href="#r22" x="306.2" y="311.7"/>
<use href="#k22" x="305.2" y="281.5"/>
<use href="#k24" x="334.5" y="302.1"/>
<use href="#k26" x="341.7" y="266.7"/>
<use href="#b26" x="266.7" y="303.8"/>
<use href="#g22" x="334.8" y="252.2"/>
<use href="#r24" x="266.7" y="98.0"/>
<use href="#g22" x="371.0" y="246.3"/>
<use href="#k22" x="333.0" y="347.2"/>
<use href="#g22" x="309.7" y="267.3"/>
<use href="#r24" x="329.1" y="174.9"/>
<use href="#r26" x="327.2" y="208.8"/>
<use href="#r26" x="351.9" y="204.4"/>
<use href="#r26" x="241.7" y="216.1"/>
<use href="#g26" x="326.6" y="239.9"/>
<use href="#k24" x="317.1" y="280.9"/>
<use href="#r22" x="346.9" y="226.7"/>
<use href="#b26" x="317.1" y="326.8"/>
<use href="#r24" x="311.1" y="232.5"/>
<use href="#b22" x="275.6" y="336.4"/>
<use href="#r26" x="291.3" y="154.6"/>
<use href="#g22" x="321.1" y="365.2"/>
<use href="#b26" x="310.2" y="272.9"/>
<use href="#g24" x="367.6" y="269.7"/>
<use href="#g26" x="294.0" y="263.2"/>
<use href="#k26" x="341.5" y="318.8"/>
<use href="#g26" x="322.2" y="209.4"/>
<use href="#r22" x="343.1" y="291.5"/>
<use href="#g24" x="346.0" y="312.2"/>
<use href="#r24" x="280.5" y="121.9"/>
<use href="#k26" x="315.7" y="268.1"/>
<use href="#g22" x="374.6" y="232.3"/>
<use href="#b26" x="286.9" y="246.2"/>
<use href="#r24" x="325.8" y="142.4"/>
<use href="#g26" x="356.9" y="258.2"/>
<use href="#g24" x="333.1" y="246.3"/>
<use href="#k26" x="313.9" y="289.9"/>
<use href="#r26" x="267.2" y="215.1"/>
<use href="#k24" x="324.0" y="318.5"/>
<use href="#b24" x="257.5" y="276.8"/>
<use href="#b26" x="329.9" y="294.4"/>
<use href="#k22" x="227.0" y="242.1"/>
<use href="#r26" x="310.5" y="165.2"/>
<use href="#k26" x="356.2" y="283.6"/>
<use href="#g22" x="330.3" y="289.0"/>
<use href="#g24" x="321.0" y="315.9"/>
<use href="#g22" x="332.1" y="284.8"/>
<use href="#k22" x="344.6" y="328.2"/>
<use href="#g22" x="345.6" y="215.9"/>
<use href="#g22" x="342.7" y="322.6"/>
<use href="#r26" x="339.4" y="270.6"/>
<use href="#k22" x="347.3" y="268.9"/>
<use href="#g22" x="382.1" y="277.6"/>
<use href="#b22" x="304.2" y="284.3"/>
<use href="#g24" x="389.0" y="245.5"/>
<use href="#b26" x="291.0" y="327.0"/>
<use href="#g24" x="335.8" y="266.7"/>
<use href="#k22" x="333.9" y="290.1"/>
<use href="#k26" x="296.8" y="290.2"/>
<use href="#b26" x="283.1" y="249.3"/>
<use href="#k26" x="390.9" y="282.0"/>
<use href="#g26" x="356.7" y="251.2"/>
<use href="#k24" x="278.5" y="323.0"/>
<use href="#g26" x="326.7" y="278.0"/>
<use href="#k22" x="351.3" y="324.9"/>
<use href="#k22" x="355.9" y="319.4"/>
<use href="#r22" x="330.9" y="181.0"/>
<use href="#r26" x="274.9" y="185.3"/>
<use href="#k22" x="277.6" y="265.4"/>
<use href="#g24" x="366.2" y="334.5"/>
<use href="#g22" x="315.3" y="269.6"/>
<use href="#k22" x="304.2" y="359.1"/>
<use href="#k24" x="314.6" y="352.5"/>
<use href="#r26" x="352.0" y="175.5"/>
<use href="#g26" x="372.1" y="265.8"/>
<use href="#k24" x="311.9" y="294.7"/>
<use href="#r24" x="296.2" y="183.1"/>
<use href="#k26" x="348.5" y="315.4"/>
<use href="#g26" x="363.8" y="238.7"/>
<use href="#k22" x="363.5" y="337.3"/>
<use href="#k26" x="382.7" y="335.2"/>
<use href="#r26" x="295.9" y="285.0"/>
<use href="#r22" x="322.2" y="183.6"/>
<use href="#g22" x="307.3" y="248.0"/>
<use href="#g26" x="311.2" y="274.9"/>
<use href="#k24" x="292.2" y="314.1"/>
<use href="#g24" x="299.9" y="199.1"/>
<use href="#k22" x="274.6" y="331.9"/>
<use href="#k26" x="319.8" y="319.4"/>
<use href="#r24" x="260.5" y="132.3"/>
<use href="#b22" x="281.7" y="256.6"/>
<use href="#g26" x="353.7" y="378.4"/>
<use href="#g24" x="353.5" y="252.0"/>
<use href="#b26" x="259.7" y="329.9"/>
<use href="#b22" x="270.7" y="309.7"/>
<use href="#b22" x="350.9" y="285.9"/>
<use href="#g22" x="329.1" y="254.7"/>
<use href="#k22" x="277.1" y="241.4"/>
<use href="#g24" x="307.2" y="304.2"/>
<use href="#b24" x="235.0" y="288.9"/>
<use href="#g24" x="379.3" y="329.4"/>
<use href="#b26" x="355.7" y="275.6"/>
<use href="#b26" x="338.4" y="299.6"/>
<use href="#k22" x="284.8" y="254.3"/>
<use href="#k24" x="342.9" y="349.8"/>
<use href="#g22" x="311.5" y="223.7"/>
<use href="#k24" x="335.5" y="322.1"/>
<use href="#b22" x="314.2" y="249.9"/>
<use href="#g22" x="347.1" y="288.8"/>
<use href="#g22" x="308.3" y="316.2"/>
<use href="#k24" x="309.5" y="333.4"/>
<use href="#k22" x="342.7" y="322.6"/>
<use href="#k22" x="277.5" y="355.3"/>
<use href="#g22" x="356.7" y="261.8"/>
<use href="#b22" x="305.5" y="282.4"/>
<use href="#k24" x="342.5" y="331.5"/>
<use href="#k22" x="344.1" y="279.1"/>
<use href="#r26" x="277.8" y="169.7"/>
<use href="#k26" x="254.8" y="321.7"/>
<use href="#k24" x="335.9" y="272.0"/>
<use href="#g26" x="400.1" y="271.6"/>
<use href="#g24" x="266.4" y="293.7"/>
<use href="#k26" x="305.6" y="329.9"/>
<use href="#g26" x="339.6" y="275.1"/>
<use href="#b26" x="330.4" y="346.1"/>
<use href="#g24" x="334.4" y="262.4"/>
<use href="#g26" x="334.0" y="314.6"/>
<use href="#g26" x="357.8" y="249.2"/>
<use href="#k22" x="289.9" y="281.7"/>
<use href="#g24" x="387.3" y="271.9"/>
<use href="#k24" x="353.8" y="314.0"/>
<use href="#r26" x="375.8" y="325.2"/>
<use href="#g26" x="297.3" y="305.1"/>
<use href="#g26" x="347.6" y="330.4"/>
<use href="#r26" x="291.8" y="182.8"/>
<use href="#b22" x="292.1" y="332.6"/>
<use href="#b26" x="318.6" y="293.5"/>
<use href="#r24" x="325.3" y="230.3"/>
<use href="#r26" x="276.0" y="183.7"/>
<use href="#g22" x="349.1" y="261.5"/>
<use href="#k26" x="340.2" y="245.1"/>
<use href="#r26" x="333.0" y="180.8"/>
<use href="#g24" x="326.0" y="284.5"/>
<use href="#k24" x="312.4" y="350.0"/>
<use href="#k24" x="327.8" y="316.3"/>
<use href="#g22" x="328.1" y="237.9"/>
<use href="#k22" x="310.8" y="280.5"/>
<use href="#r24" x="308.9" y="190.0"/>
<use href="#k24" x="318.1" y="342.6"/>
<use href="#k24" x="367.5" y="320.1"/>
<use href="#k24" x="356.1" y="329.5"/>
<use href="#k22" x="345.1" y="378.6"/>
<use href="#k22" x="330.2" y="353.9"/>
<use href="#k26" x="323.8" y="264.9"/>
<use href="#r24" x="315.1" y="183.1"/>
<use href="#g22" x="294.0" y="348.5"/>
<use href="#k26" x="308.9" y="362.0"/>
<use href="#r24" x="399.1" y="214.4"/>
<use href="#b22" x="254.5" y="281.4"/>
<use href="#g26" x="353.5" y="214.0"/>
<use href="#k24" x="349.0" y="323.9"/>
<use href="#b24" x="279.1" y="293.0"/>
<use href="#b26" x="275.8" y="317.2"/>
<use href="#b22" x="276.2" y="298.8"/>
<use href="#g26" x="370.3" y="286.5"/>
<use href="#k26" x="290.0" y="266.2"/>
<use href="#r22" x="333.8" y="192.8"/>
<use href="#g22" x="365.8" y="328.9"/>
<use href="#b26" x="284.4" y="320.0"/>
<use href="#g24" x="362.3" y="285.5"/>
<use href="#r22" x="275.8" y="215.6"/>
<use href="#k24" x="365.9" y="294.9"/>
<use href="#g26" x="373.4" y="315.8"/>
<use href="#k22" x="321.6" y="341.2"/>
<use href="#r26" x="297.8" y="183.0"/>
<use href="#g22" x="413.5" y="274.2"/>
<use href="#g24" x="316.0" y="210.7"/>
<use href="#g22" x="350.2" y="312.0"/>
<use href="#k26" x="285.3" y="262.5"/>
<use href="#k22" x="375.1" y="335.5"/>
<use href="#g26" x="277.9" y="264.3"/>
<use href="#r24" x="259.8" y="158.9"/>
<use href="#b22" x="289.0" y="307.7"/>
<use href="#k24" x="341.0" y="311.7"/>
<use href="#g24" x="384.7" y="214.0"/>
<use href="#b24" x="265.1" y="290.6"/>
<use href="#g22" x="337.5" y="261.1"/>
<use href="#b26" x="318.8" y="352.5"/>
<use href="#g24" x="362.9" y="285.0"/>
<use href="#r26" x="262.3" y="153.6"/>
<use href="#b22" x="278.9" y="296.2"/>
<use href="#g24" x="363.0" y="283.3"/>
<use href="#g24" x="336.0" y="284.3"/>
<use href="#g24" x="280.7" y="336.9"/>
<use href="#k26" x="306.5" y="293.8"/>
<use href="#k26" x="377.7" y="324.7"/>
<use href="#r22" x="360.5" y="295.0"/>
<use href="#r22" x="281.4" y="159.8"/>
<use href="#g26" x="364.3" y="299.1"/>
<use href="#g24" x="391.1" y="294.3"/>
<use href="#g22" x="364.0" y="256.0"/>
<use href="#b24" x="278.2" y="319.7"/>
<use href="#b22" x="264.2" y="345.8"/>
<use href="#r22" x="306.6" y="218.4"/>
<use href="#b24" x="256.1" y="272.6"/>
<use href="#g24" x="389.2" y="276.3"/>
<use href="#g22" x="302.5" y="351.5"/>
<use href="#g26" x="346.9" y="325.5"/>
<use href="#g26" x="344.4" y="257.7"/>
<use href="#k22" x="317.9" y="341.2"/>
<use href="#b26" x="273.6" y="264.1"/>
<use href="#g22" x="287.7" y="276.9"/>
<use href="#k26" x="261.0" y="290.2"/>
<use href="#r22" x="324.0" y="246.3"/>
<use href="#g26" x="351.0" y="329.2"/>
<use href="#b26" x="299.0" y="360.8"/>
<use href="#k26" x="299.9" y="279.1"/>
<use href="#k22" x="298.2" y="297.6"/>
<use href="#g22" x="337.6" y="268.4"/>
<use href="#k26" x="291.1" y="276.4"/>
<use href="#r26" x="337.7" y="269.1"/>
<use href="#k24" x="328.1" y="257.1"/>
<use href="#g24" x="261.7" y="318.7"/>
<use href="#g22" x="397.3" y="270.7"/>
<use href="#k26" x="296.4" y="289.3"/>
<use href="#r24" x="276.5" y="201.7"/>
<use href="#b22" x="340.1" y="256.4"/>
<use href="#k22" x="354.4" y="250.0"/>
<use href="#g24" x="335.7" y="378.3"/>
<use href="#g22" x="327.5" y="275.3"/>
<use href="#b24" x="329.4" y="315.7"/>
<use href="#k26" x="374.5" y="341.1"/>
<use href="#b26" x="296.6" y="243.0"/>
<use href="#r22" x="312.9" y="278.9"/>
<use href="#g24" x="329.6" y="255.5"/>
<use href="#r24" x="244.7" y="123.8"/>
<use href="#g24" x="320.9" y="311.7"/>
<use href="#b26" x="311.8" y="270.0"/>
<use href="#b26" x="320.9" y="263.2"/>
<use href="#r22" x="333.1" y="303.7"/>
<use href="#k24" x="304.3" y="334.3"/>
<use href="#k26" x="327.6" y="322.7"/>
<use href="#g22" x="376.8" y="220.7"/>
<use href="#b24" x="287.9" y="308.2"/>
<use href="#b22" x="268.6" y="300.1"/>
<use href="#r22" x="283.2" y="161.2"/>
<use href="#k26" x="359.3" y="336.3"/>
<use href="#r22" x="259.4" y="157.9"/>
<use href="#k22" x="356.2" y="311.7"/>
<use href="#b24" x="274.5" y="347.5"/>
<use href="#k22" x="260.0" y="303.7"/>
<use href="#k22" x="280.9" y="272.4"/>
<use href="#r26" x="322.7" y="144.4"/>
<use href="#b24" x="331.7" y="303.1"/>
<use href="#b22" x="312.9" y="274.2"/>
<use href="#k22" x="350.5" y="337.8"/>
<use href="#r26" x="412.0" y="254.6"/>
<use href="#r22" x="258.4" y="158.1"/>
<use href="#b24" x="265.2" y="264.8"/>
<use href="#b24" x="259.8" y="257.3"/>
<use href="#r24" x="275.9" y="192.0"/>
<use href="#g22" x="274.9" y="277.6"/>
<use href="#r24" x="263.8" y="141.5"/>
<use href="#g22" x="319.8" y="300.5"/>
<use href="#k22" x="302.3" y="329.7"/>
<use href="#r24" x="267.2" y="136.9"/>
<use href="#k24" x="397.7" y="300.7"/>
<use href="#r24" x="344.9" y="177.9"/>
<use href="#k24" x="292.3" y="311.1"/>
<use href="#k26" x="308.9" y="342.8"/>
<use href="#g24" x="346.1" y="358.2"/>
<use href="#r24" x="328.9" y="248.3"/>
<use href="#r22" x="400.9" y="237.1"/>
<use href="#g22" x="310.8" y="364.5"/>
<use href="#k26" x="350.1" y="292.6"/>
<use href="#g26" x="369.9" y="326.8"/>
<use href="#k22" x="349.7" y="298.5"/>
<use href="#g24" x="313.0" y="319.1"/>
<use href="#k22" x="278.2" y="336.6"/>
<use href="#g22" x="341.7" y="232.0"/>
<use href="#g24" x="403.4" y="298.6"/>
<use href="#k22" x="316.6" y="311.7"/>
<use href="#r24" x="269.6" y="200.8"/>
<use href="#b22" x="274.9" y="284.9"/>
<use href="#r24" x="285.1" y="221.0"/>
<use href="#b22" x="310.7" y="314.2"/>
<use href="#k26" x="314.1" y="285.8"/>
<use href="#g26" x="362.9" y="338.0"/>
<use href="#r24" x="231.8" y="203.5"/>
<use href="#g26" x="402.0" y="291.9"/>
<use href="#k22" x="366.1" y="312.0"/>
<use href="#k24" x="347.3" y="345.3"/>
<use href="#k26" x="350.4" y="298.2"/>
<use href="#g24" x="327.3" y="308.3"/>
<use href="#b26" x="297.2" y="282.2"/>
<use href="#g26" x="356.7" y="318.0"/>
<use href="#r26" x="328.8" y="169.0"/>
<use href="#b24" x="294.5" y="267.9"/>
<use href="#b24" x="252.9" y="283.6"/>
<use href="#g26" x="300.2" y="287.9"/>
<use href="#k24" x="308.8" y="284.5"/>
<use href="#r26" x="342.5" y="223.4"/>
<use href="#b24" x="284.6" y="316.6"/>
<use href="#r22" x="334.7" y="204.6"/>
<use href="#g24" x="314.8" y="338.6"/>
<use href="#b22" x="301.8" y="276.3"/>
<use href="#k26" x="259.1" y="272.4"/>
<use href="#g22" x="328.5" y="273.4"/>
<use href="#r24" x="327.8" y="230.7"/>
<use href="#g24" x="298.2" y="286.1"/>
<use href="#b26" x="288.7" y="271.6"/>
<use href="#r24" x="287.6" y="207.1"/>
<use href="#k26" x="361.5" y="296.7"/>
<use href="#k24" x="311.9" y="273.0"/>
<use href="#g24" x="324.4" y="287.0"/>
<use href="#g22" x="365.8" y="233.7"/>
<use href="#g22" x="324.9" y="361.9"/>
<use href="#g26" x="364.9" y="233.2"/>
<use href="#b24" x="262.3" y="342.5"/>
<use href="#k24" x="361.2" y="259.0"/>
<use href="#r24" x="264.2" y="179.5"/>
<use href="#k22" x="303.2" y="308.8"/>
<use href="#g24" x="383.8" y="284.2"/>
<use href="#g26" x="313.6" y="288.3"/>
<use href="#k22" x="305.8" y="300.3"/>
<use href="#r24" x="312.3" y="234.9"/>
<use href="#r22" x="289.5" y="233.2"/>
<use href="#r26" x="239.3" y="179.0"/>
<use href="#b24" x="274.6" y="266.8"/>
<use href="#b26" x="251.2" y="309.8"/>
<use href="#k22" x="325.6" y="270.8"/>
<use href="#g24" x="311.8" y="292.2"/>
<use href="#b24" x="324.3" y="278.5"/>
<use href="#g26" x="324.8" y="295.2"/>
<use href="#g26" x="334.6" y="276.8"/>
<use href="#b22" x="314.1" y="336.1"/>
<use href="#r26" x="326.6" y="205.3"/>
<use href="#g24" x="331.8" y="230.9"/>
<use href="#k26" x="399.2" y="306.9"/>
<use href="#g22" x="327.5" y="260.8"/>
<use href="#g22" x="365.1" y="341.1"/>
<use href="#r26" x="314.9" y="152.0"/>
<use href="#b22" x="288.5" y="278.7"/>
<use href="#k26" x="316.2" y="321.0"/>
<use href="#g26" x="360.3" y="259.8"/>
<use href="#g26" x="387.7" y="248.1"/>
<use href="#k22" x="381.8" y="292.3"/>
<use href="#g22" x="321.9" y="261.8"/>
<use href="#k26" x="276.2" y="351.4"/>
<use href="#b26" x="310.6" y="298.0"/>
<use href="#g26" x="334.1" y="317.6"/>
<use href="#r24" x="325.5" y="137.7"/>
<use href="#r22" x="305.6" y="210.3"/>
<use href="#g22" x="346.3" y="336.9"/>
<use href="#k24" x="300.7" y="288.2"/>
<use href="#r24" x="287.3" y="222.1"/>
<use href="#g24" x="307.0" y="325.8"/>
<use href="#b24" x="312.5" y="281.8"/>
<use href="#k26" x="273.5" y="306.1"/>
<use href="#k26" x="307.8" y="254.2"/>
<use href="#k24" x="327.3" y="292.8"/>
<use href="#k24" x="344.0" y="304.6"/>
<use href="#r22" x="253.3" y="161.5"/>
<use href="#b24" x="311.6" y="286.9"/>
<use href="#b26" x="308.6" y="319.9"/>
<use href="#g24" x="337.8" y="243.3"/>
<use href="#k24" x="295.1" y="243.0"/>
<use href="#k26" x="299.6" y="265.8"/>
<use href="#b26" x="348.4" y="331.9"/>
<use href="#g26" x="293.5" y="254.6"/>
<use href="#k26" x="286.6" y="310.8"/>
<use href="#g22" x="306.3" y="288.4"/>
<use href="#k22" x="314.9" y="347.0"/>
<use href="#k24" x="322.7" y="312.4"/>
<use href="#b22" x="276.4" y="231.1"/>
<use href="#r26" x="315.6" y="285.1"/>
<use href="#b24" x="318.1" y="257.1"/>
<use href="#k24" x="290.5" y="315.7"/>
<use href="#k26" x="310.2" y="326.0"/>
<use href="#k22" x="348.1" y="297.4"/>
<use href="#b22" x="323.2" y="291.0"/>
<use href="#g26" x="352.1" y="310.2"/>
<use href="#k22" x="283.9" y="356.0"/>
<use href="#b22" x="293.9" y="321.8"/>
<use href="#k26" x="281.5" y="292.7"/>
<use href="#g24" x="367.7" y="271.8"/>
<use href="#g26" x="360.3" y="263.1"/>
<use href="#b24" x="299.0" y="273.8"/>
<use href="#b26" x="272.8" y="273.0"/>
<use href="#b24" x="267.2" y="346.4"/>
<use href="#b26" x="308.4" y="312.1"/>
<use href="#b22" x="240.4" y="306.3"/>
<use href="#k26" x="374.8" y="294.2"/>
<use href="#k22" x="331.2" y="302.3"/>
<use href="#k24" x="323.0" y="266.6"/>
<use href="#g22" x="349.9" y="301.3"/>
<use href="#g24" x="367.1" y="283.9"/>
<use href="#g22" x="328.5" y="344.5"/>
<use href="#g26" x="380.5" y="198.5"/>
<use href="#g22" x="342.8" y="318.3"/>
<use href="#g24" x="315.5" y="362.2"/>
<use href="#k24" x="325.4" y="338.8"/>
<use href="#b26" x="290.1" y="302.8"/>
<use href="#r24" x="280.4" y="147.6"/>
<use href="#b24" x="299.6" y="346.3"/>
<use href="#k26" x="293.1" y="296.7"/>
<use href="#k22" x="360.1" y="314.5"/>
<use href="#k24" x="299.8" y="316.2"/>
<use href="#g22" x="326.4" y="288.0"/>
<use href="#r22" x="306.4" y="171.0"/>
<use href="#b22" x="318.5" y="324.8"/>
<use href="#r24" x="286.8" y="103.7"/>
<use href="#r26" x="307.4" y="215.8"/>
<use href="#r24" x="314.5" y="187.8"/>
<use href="#r22" x="256.5" y="194.5"/>
<use href="#k26" x="358.9" y="308.3"/>
<use href="#b24" x="296.4" y="269.8"/>
<use href="#b22" x="269.4" y="311.1"/>
<use href="#g24" x="336.5" y="251.5"/>
<use href="#r22" x="244.7" y="200.2"/>
<use href="#r24" x="375.4" y="294.9"/>
<use href="#b24" x="330.0" y="294.8"/>
<use href="#k22" x="304.7" y="318.2"/>
<use href="#k26" x="307.9" y="263.2"/>
<use href="#r24" x="288.3" y="151.5"/>
<use href="#g26" x="364.7" y="241.1"/>
<use href="#k22" x="307.5" y="273.0"/>
<use href="#g26" x="345.9" y="303.7"/>
<use href="#b22" x="322.7" y="314.6"/>
<use href="#r22" x="287.5" y="147.7"/>
<use href="#g24" x="338.2" y="326.9"/>
<use href="#g22" x="373.2" y="245.9"/>
<use href="#g22" x="372.2" y="252.2"/>
<use href="#r24" x="316.3" y="258.2"/>
<use href="#g24" x="341.7" y="277.9"/>
<use href="#g24" x="343.6" y="339.1"/>
<use href="#k24" x="339.7" y="251.8"/>
<use href="#g24" x="337.4" y="224.4"/>
<use href="#g24" x="333.5" y="285.5"/>
<use href="#g22" x="423.1" y="385.0"/>
<use href="#b22" x="311.6" y="261.6"/>
<use href="#g24" x="348.8" y="258.3"/>
<use href="#g22" x="349.3" y="276.7"/>
<use href="#b22" x="328.8" y="301.3"/>
<use href="#g24" x="265.1" y="258.9"/>
<use href="#b26" x="278.9" y="334.4"/>
<use href="#k24" x="359.1" y="340.5"/>
<use href="#b24" x="277.0" y="331.6"/>
<use href="#g24" x="360.3" y="338.2"/>
<use href="#b26" x="267.7" y="343.3"/>
<use href="#r22" x="287.4" y="193.9"/>
<use href="#k24" x="356.8" y="315.7"/>
<use href="#g22" x="348.6" y="323.7"/>
<use href="#k24" x="362.8" y="304.5"/>
<use href="#k24" x="327.5" y="215.6"/>
<use href="#g26" x="403.3" y="259.3"/>
<use href="#r22" x="257.1" y="172.7"/>
<use href="#b22" x="256.5" y="300.4"/>
<use href="#g22" x="403.3" y="309.1"/>
<use href="#r24" x="303.0" y="242.9"/>
<use href="#g26" x="290.8" y="241.7"/>
<use href="#g22" x="367.0" y="359.2"/>
<use href="#g24" x="403.9" y="310.2"/>
<use href="#b24" x="278.4" y="321.1"/>
<use href="#k22" x="332.4" y="368.7"/>
<use href="#b26" x="256.8" y="286.8"/>
<use href="#g26" x="389.4" y="255.2"/>
<use href="#g22" x="362.2" y="277.5"/>
<use href="#g26" x="317.6" y="329.2"/>
<use href="#g22" x="398.5" y="300.7"/>
<use href="#g22" x="340.7" y="192.1"/>
<use href="#g22" x="406.3" y="305.2"/>
<use href="#g22" x="372.9" y="328.0"/>
<use href="#g22" x="356.1" y="309.9"/>
<use href="#g26" x="334.6" y="268.4"/>
<use href="#b22" x="271.2" y="338.2"/>
<use href="#b24" x="285.8" y="266.1"/>
<use href="#b26" x="319.0" y="275.9"/>
<use href="#b22" x="275.4" y="341.5"/>
<use href="#b22" x="318.0" y="258.2"/>
<use href="#k22" x="308.3" y="322.0"/>
<use href="#g22" x="380.2" y="275.9"/>
<use href="#g22" x="342.8" y="285.3"/>
<use href="#b24" x="296.7" y="329.5"/>
<use href="#r26" x="337.8" y="262.0"/>
<use href="#k24" x="331.5" y="263.8"/>
<use href="#k24" x="357.3" y="292.8"/>
<use href="#b24" x="301.3" y="306.6"/>
<use href="#b24" x="280.2" y="272.1"/>
<use href="#g22" x="309.0" y="309.0"/>
<use href="#r24" x="325.9" y="142.2"/>
<use href="#r24" x="376.1" y="236.6"/>
<use href="#g22" x="301.4" y="259.8"/>
<use href="#b24" x="243.0" y="334.1"/>
<use href="#g26" x="320.2" y="282.4"/>
<use href="#k24" x="371.1" y="288.8"/>
<use href="#r24" x="338.9" y="312.3"/>
<use href="#r24" x="340.3" y="294.9"/>
<use href="#k24" x="304.5" y="265.1"/>
<use href="#r24" x="339.8" y="227.3"/>
<use href="#k24" x="323.5" y="281.8"/>
<use href="#b26" x="262.6" y="284.6"/>
<use href="#b22" x="278.7" y="334.4"/>
<use href="#r22" x="264.2" y="168.8"/>
<use href="#r22" x="259.3" y="124.0"/>
<use href="#g24" x="313.0" y="275.7"/>
<use href="#g24" x="394.3" y="252.5"/>
<use href="#g24" x="408.4" y="228.2"/>
<use href="#k26" x="317.1" y="230.0"/>
<use href="#g22" x="373.6" y="328.4"/>
<use href="#g26" x="365.4" y="296.4"/>
<use href="#r26" x="295.5" y="246.2"/>
<use href="#k22" x="300.3" y="301.9"/>
<use href="#b24" x="303.6" y="300.1"/>
<use href="#k22" x="311.1" y="289.9"/>
<use href="#b22" x="286.6" y="312.8"/>
<use href="#b24" x="270.7" y="350.9"/>
<use href="#b24" x="327.2" y="283.0"/>
<use href="#r24" x="256.5" y="140.5"/>
<use href="#b22" x="302.0" y="316.1"/>
<use href="#b24" x="306.3" y="311.5"/>
<use href="#b24" x="319.6" y="234.8"/>
<use href="#b26" x="312.4" y="302.6"/>
<use href="#g24" x="336.5" y="319.6"/>
<use href="#b24" x="321.7" y="313.3"/>
<use href="#k24" x="250.6" y="277.0"/>
<use href="#k22" x="313.4" y="287.4"/>
<use href="#r22" x="316.2" y="154.2"/>
<use href="#b26" x="271.2" y="307.2"/>
<use href="#r24" x="293.3" y="170.5"/>
<use href="#g22" x="294.2" y="284.8"/>
<use href="#r24" x="380.7" y="227.9"/>
<use href="#b24" x="285.8" y="265.5"/>
<use href="#k26" x="345.1" y="299.1"/>
<use href="#k26" x="323.7" y="242.8"/>
<use href="#g26" x="277.4" y="303.2"/>
<use href="#r22" x="290.6" y="149.1"/>
<use href="#k24" x="341.5" y="238.2"/>
<use href="#r22" x="229.1" y="150.3"/>
<use href="#k22" x="268.8" y="302.7"/>
<use href="#g24" x="348.8" y="301.6"/>
<use href="#g22" x="335.7" y="292.4"/>
<use href="#r24" x="321.7" y="177.3"/>
<use href="#b24" x="314.2" y="327.1"/>
<use href="#b26" x="283.8" y="318.9"/>
<use href="#k26" x="416.3" y="358.2"/>
<use href="#k26" x="363.4" y="357.6"/>
<use href="#b22" x="316.9" y="262.3"/>
<use href="#b26" x="272.6" y="283.0"/>
<use href="#k24" x="389.3" y="326.0"/>
<use href="#k26" x="333.6" y="329.0"/>
<use href="#r24" x="318.8" y="194.1"/>
<use href="#r24" x="357.2" y="273.3"/>
<use href="#k24" x="340.4" y="340.5"/>
<use href="#g22" x="387.7" y="244.2"/>
<use href="#b22" x="240.1" y="276.6"/>
<use href="#k26" x="295.8" y="321.3"/>
<use href="#g24" x="351.8" y="277.9"/>
<use href="#g26" x="370.3" y="200.3"/>
<use href="#r24" x="336.2" y="288.7"/>
<use href="#k24" x="296.5" y="307.6"/>
<use href="#b22" x="238.8" y="315.8"/>
<use href="#g22" x="295.8" y="321.2"/>
<use href="#k22" x="383.3" y="305.2"/>
<use href="#g24" x="353.8" y="283.6"/>
<use href="#g22" x="334.5" y="253.5"/>
<use href="#k26" x="326.5" y="269.6"/>
<use href="#k22" x="310.1" y="326.5"/>
<use href="#k24" x="356.1" y="319.2"/>
<use href="#k22" x="350.1" y="307.8"/>
<use href="#g26" x="362.8" y="258.3"/>
<use href="#g24" x="324.2" y="372.9"/>
<use href="#g26" x="382.4" y="281.9"/>
<use href="#k22" x="289.8" y="256.9"/>
<use href="#r24" x="256.6" y="190.7"/>
<use href="#b22" x="264.9" y="329.7"/>
<use href="#b26" x="298.7" y="277.1"/>
<use href="#g24" x="321.1" y="222.4"/>
<use href="#r22" x="297.9" y="180.7"/>
<use href="#r24" x="358.9" y="327.7"/>
<use href="#r22" x="307.3" y="190.3"/>
<use href="#k22" x="358.1" y="377.2"/>
<use href="#r24" x="272.5" y="229.6"/>
<use href="#r26" x="325.0" y="269.1"/>
<use href="#g22" x="325.3" y="337.1"/>
<use href="#b24" x="296.3" y="269.2"/>
<use href="#k24" x="274.9" y="325.9"/>
<use href="#r26" x="304.2" y="166.0"/>
<use href="#k26" x="320.1" y="356.2"/>
<use href="#g26" x="329.6" y="261.8"/>
<use href="#r22" x="307.2" y="134.6"/>
<use href="#b22" x="286.3" y="257.5"/>
<use href="#k22" x="321.4" y="358.2"/>
<use href="#k26" x="337.8" y="285.3"/>
<use href="#g26" x="320.0" y="288.8"/>
<use href="#k24" x="364.7" y="270.1"/>
<use href="#r22" x="304.3" y="181.8"/>
<use href="#r22" x="401.5" y="294.8"/>
<use href="#g26" x="345.2" y="274.1"/>
<use href="#g26" x="319.3" y="267.4"/>
<use href="#k24" x="306.4" y="266.2"/>
<use href="#r22" x="260.9" y="103.6"/>
<use href="#b24" x="277.6" y="274.3"/>
<use href="#r22" x="232.9" y="148.0"/>
<use href="#b26" x="321.6" y="274.7"/>
<use href="#g24" x="353.2" y="247.6"/>
<use href="#k22" x="368.1" y="287.4"/>
<use href="#g26" x="312.6" y="289.5"/>
<use href="#r26" x="315.2" y="151.5"/>
<use href="#k22" x="301.1" y="281.0"/>
<use href="#b22" x="293.7" y="259.9"/>
<use href="#b26" x="272.7" y="322.5"/>
<use href="#b24" x="242.2" y="319.6"/>
<use href="#r26" x="284.9" y="154.9"/>
<use href="#b26" x="294.9" y="293.1"/>
<use href="#k26" x="345.0" y="309.4"/>
<use href="#r26" x="277.1" y="242.4"/>
<use href="#g22" x="268.4" y="249.2"/>
<use href="#g22" x="337.9" y="282.5"/>
<use href="#g22" x="356.0" y="292.4"/>
<use href="#r24" x="327.6" y="185.3"/>
<use href="#k22" x="292.4" y="339.6"/>
<use href="#b26" x="274.3" y="294.6"/>
<use href="#b24" x="289.6" y="288.6"/>
<use href="#r26" x="397.0" y="212.3"/>
<use href="#g24" x="351.6" y="313.4"/>
<use href="#k26" x="352.6" y="329.0"/>
<use href="#g26" x="325.1" y="332.2"/>
<use href="#b24" x="248.5" y="298.9"/>
<use href="#r26" x="265.4" y="189.5"/>
<use href="#g22" x="423.1" y="282.6"/>
<use href="#k22" x="288.6" y="339.5"/>
<use href="#r26" x="281.9" y="242.9"/>
<use href="#r24" x="289.1" y="267.8"/>
<use href="#k22" x="286.0" y="369.1"/>
<use href="#r22" x="329.8" y="187.4"/>
<use href="#g26" x="328.3" y="261.7"/>
<use href="#r22" x="369.9" y="266.5"/>
<use href="#g26" x="307.3" y="294.6"/>
<use href="#g24" x="328.6" y="272.0"/>
<use href="#b24" x="301.7" y="255.6"/>
<use href="#k24" x="281.4" y="299.2"/>
<use href="#r26" x="341.8" y="246.1"/>
<use href="#r26" x="251.3" y="171.0"/>
<use href="#k22" x="364.5" y="309.4"/>
<use href="#b26" x="322.3" y="320.4"/>
<use href="#b22" x="270.1" y="295.6"/>
<use href="#b24" x="289.9" y="329.7"/>
<use href="#g22" x="347.6" y="343.0"/>
<use href="#g22" x="385.3" y="228.2"/>
<use href="#b24" x="280.0" y="257.2"/>
<use href="#g26" x="303.1" y="232.5"/>
<use href="#b24" x="285.6" y="297.3"/>
<use href="#g22" x="351.6" y="332.1"/>
<use href="#k26" x="394.8" y="285.6"/>
<use href="#k24" x="339.6" y="280.6"/>
<use href="#r26" x="312.6" y="151.3"/>
<use href="#b24" x="309.1" y="327.5"/>
<use href="#k24" x="335.1" y="347.3"/>
<use href="#g26" x="357.6" y="310.7"/>
<use href="#b26" x="287.8" y="336.6"/>
<use href="#k24" x="329.4" y="309.2"/>
<use href="#k26" x="359.0" y="324.6"/>
<use href="#k22" x="324.8" y="298.5"/>
<use href="#k24" x="326.5" y="287.1"/>
<use href="#r22" x="257.2" y="185.3"/>
<use href="#k22" x="333.7" y="279.1"/>
<use href="#g22" x="371.8" y="261.5"/>
<use href="#b22" x="259.1" y="302.1"/>
<use href="#b22" x="320.3" y="290.1"/>
<use href="#k22" x="342.4" y="215.9"/>
<use href="#r22" x="277.7" y="137.4"/>
<use href="#k26" x="305.9" y="360.8"/>
<use href="#g24" x="367.7" y="193.9"/>
<use href="#r22" x="291.3" y="204.4"/>
<use href="#g24" x="329.9" y="337.9"/>
<use href="#b24" x="252.9" y="270.7"/>
<use href="#b24" x="268.1" y="295.1"/>
<use href="#r22" x="323.7" y="146.5"/>
<use href="#k24" x="269.9" y="327.8"/>
<use href="#k26" x="327.2" y="314.3"/>
<use href="#b22" x="285.8" y="319.6"/>
<use href="#g22" x="347.5" y="266.4"/>
<use href="#b22" x="275.9" y="278.1"/>
<use href="#b22" x="320.8" y="284.1"/>
<use href="#b22" x="320.6" y="286.5"/>
<use href="#g22" x="346.2" y="323.1"/>
<use href="#r22" x="292.8" y="214.2"/>
<use href="#k26" x="302.8" y="332.6"/>
<use href="#r24" x="368.9" y="238.9"/>
<use href="#b26" x="266.2" y="288.4"/>
<use href="#r24" x="378.1" y="279.7"/>
<use href="#k24" x="353.1" y="303.2"/>
<use href="#k24" x="321.6" y="261.1"/>
<use href="#g22" x="345.8" y="277.7"/>
<use href="#k22" x="336.9" y="275.5"/>
<use href="#k22" x="366.9" y="302.0"/>
<use href="#g26" x="323.5" y="318.3"/>
<use href="#k22" x="316.0" y="252.3"/>
<use href="#b22" x="327.7" y="336.6"/>
<use href="#b24" x="225.0" y="316.8"/>
<use href="#b22" x="307.1" y="321.4"/>
<use href="#k22" x="338.4" y="341.1"/>
<use href="#g24" x="341.6" y="339.9"/>
<use href="#b26" x="258.3" y="318.7"/>
<use href="#k24" x="388.4" y="351.1"/>
<use href="#g26" x="310.8" y="235.6"/>
<use href="#b24" x="315.1" y="312.5"/>
<use href="#g22" x="334.5" y="265.2"/>
<use href="#g22" x="343.0" y="342.8"/>
<use href="#g24" x="286.5" y="310.6"/>
<use href="#r24" x="333.5" y="279.2"/>
<use href="#k26" x="356.0" y="337.5"/>
<use href="#k24" x="348.3" y="294.0"/>
<use href="#g24" x="400.5" y="296.8"/>
<use href="#r22" x="239.7" y="220.5"/>
<use href="#r22" x="245.1" y="219.6"/>
<use href="#r26" x="304.6" y="232.0"/>
<use href="#k26" x="288.4" y="266.2"/>
<use href="#b24" x="230.1" y="292.4"/>
<use href="#r22" x="325.8" y="196.8"/>
<use href="#k26" x="342.8" y="343.7"/>
<use href="#k24" x="307.5" y="282.1"/>
<use href="#k26" x="365.6" y="332.2"/>
<use href="#k26" x="332.2" y="312.2"/>
<use href="#k22" x="317.2" y="251.4"/>
<use href="#k24" x="359.3" y="276.4"/>
<use href="#k26" x="358.1" y="314.5"/>
<use href="#k24" x="329.5" y="337.7"/>
<use href="#k22" x="283.9" y="327.2"/>
<use href="#k26" x="366.6" y="239.0"/>
<use href="#k24" x="386.4" y="305.7"/>
<use href="#k26" x="293.3" y="368.6"/>
<use href="#k26" x="367.8" y="315.8"/>
<use href="#k24" x="294.1" y="379.2"/>
<use href="#k22" x="332.3" y="329.4"/>
<use href="#k22" x="339.2" y="289.0"/>
<use href="#k22" x="334.1" y="274.2"/>
<use href="#k26" x="376.3" y="342.5"/>
<use href="#k26" x="351.7" y="351.2"/>
<use href="#k24" x="328.8" y="278.6"/>
<use href="#k26" x="327.0" y="311.8"/>
<use href="#k22" x="327.7" y="310.5"/>
<use href="#k22" x="356.0" y="313.9"/>
<use href="#k22" x="328.0" y="300.2"/>
<use href="#k26" x="309.5" y="303.4"/>
<use href="#k24" x="356.2" y="316.9"/>
<use href="#k24" x="286.6" y="368.7"/>
<use href="#k24" x="317.6" y="212.5"/>
<use href="#k24" x="374.2" y="301.1"/>
<use href="#k26" x="290.4" y="329.1"/>
<use href="#k22" x="322.8" y="220.0"/>
<use href="#k24" x="337.3" y="315.9"/>
<use href="#k26" x="362.6" y="259.8"/>
<use href="#k26" x="351.7" y="288.7"/>
<use href="#k26" x="314.8" y="290.5"/>
<use href="#k26" x="368.6" y="318.4"/>
<use href="#k26" x="270.4" y="251.3"/>
<use href="#b24" x="171.0" y="369.2"/>
<use href="#r24" x="179.6" y="236.3"/>
<use href="#r24" x="192.8" y="254.0"/>
<use href="#b24" x="197.4" y="277.0"/>
<use href="#k24" x="199.3" y="290.0"/>
<use href="#k24" x="201.3" y="257.4"/>
<use href="#g24" x="232.5" y="393.2"/>
<use href="#b24" x="240.2" y="396.6"/>
<use href="#b24" x="265.1" y="390.9"/>
<use href="#b24" x="268.0" y="390.9"/>
<use href="#b24" x="288.1" y="379.4"/>
<use href="#g24" x="293.8" y="389.4"/>
<use href="#g24" x="300.5" y="391.3"/>
<use href="#g24" x="304.3" y="396.1"/>
<use href="#g24" x="313.0" y="390.9"/>
<use href="#g24" x="316.8" y="389.4"/>
<use href="#k24" x="320.6" y="387.4"/>
<use href="#k24" x="321.6" y="396.1"/>
<use href="#k24" x="329.8" y="402.4"/>
<use href="#b24" x="337.5" y="388.4"/>
<use href="#b24" x="339.8" y="402.8"/>
<use href="#r24" x="358.5" y="142.6"/>
<use href="#g24" x="360.8" y="379.4"/>
<use href="#b24" x="362.9" y="136.2"/>
<use href="#k24" x="364.7" y="372.1"/>
<use href="#k24" x="373.3" y="373.1"/>
<use href="#k24" x="373.7" y="136.2"/>
<use href="#r24" x="396.7" y="96.2"/>
<use href="#g24" x="417.0" y="196.8"/>
<use href="#r24" x="418.5" y="148.5"/>
<use href="#g24" x="419.7" y="156.5"/>
<use href="#g24" x="427.2" y="168.4"/>
<use href="#g24" x="434.5" y="198.2"/>
<use href="#k24" x="437.5" y="174.8"/>
<use href="#g24" x="445.4" y="170.4"/>
<use href="#g24" x="446.0" y="290.0"/>
<use href="#g24" x="449.3" y="231.0"/>
<use href="#k24" x="450.6" y="196.8"/>
<line x1="800.1" y1="423" x2="788" y2="78.3" stroke="#e3e3e3" stroke-width="1"/>
<line x1="800.1" y1="423" x2="1070.3" y2="519" stroke="#e3e3e3" stroke-width="1"/>
<line x1="855.1" y1="402" x2="846.8" y2="68.6" stroke="#e3e3e3" stroke-width="1"/>
<line x1="855.1" y1="402" x2="1122.8" y2="491" stroke="#e3e3e3" stroke-width="1"/>
<line x1="906.5" y1="382.3" x2="901.4" y2="59.6" stroke="#e3e3e3" stroke-width="1"/>
<line x1="906.5" y1="382.3" x2="1171.3" y2="465.2" stroke="#e3e3e3" stroke-width="1"/>
<line x1="954.5" y1="363.9" x2="952.3" y2="51.2" stroke="#e3e3e3" stroke-width="1"/>
<line x1="954.5" y1="363.9" x2="1216.2" y2="441.2" stroke="#e3e3e3" stroke-width="1"/>
<line x1="769.4" y1="392.6" x2="999.6" y2="310.5" stroke="#e3e3e3" stroke-width="1"/>
<line x1="999.6" y1="310.5" x2="1259.9" y2="378.4" stroke="#e3e3e3" stroke-width="1"/>
<line x1="767.7" y1="350.4" x2="999.6" y2="273.8" stroke="#e3e3e3" stroke-width="1"/>
<line x1="999.6" y1="273.8" x2="1261.9" y2="337.2" stroke="#e3e3e3" stroke-width="1"/>
<line x1="766" y1="307.6" x2="999.6" y2="236.6" stroke="#e3e3e3" stroke-width="1"/>
<line x1="999.6" y1="236.6" x2="1263.9" y2="295.5" stroke="#e3e3e3" stroke-width="1"/>
<line x1="764.2" y1="264.2" x2="999.7" y2="199" stroke="#e3e3e3" stroke-width="1"/>
<line x1="999.7" y1="199" x2="1265.9" y2="253.1" stroke="#e3e3e3" stroke-width="1"/>
<line x1="762.5" y1="220" x2="999.7" y2="160.8" stroke="#e3e3e3" stroke-width="1"/>
<line x1="999.7" y1="160.8" x2="1267.9" y2="210.1" stroke="#e3e3e3" stroke-width="1"/>
<line x1="760.7" y1="175.2" x2="999.7" y2="122.2" stroke="#e3e3e3" stroke-width="1"/>
<line x1="999.7" y1="122.2" x2="1270" y2="166.4" stroke="#e3e3e3" stroke-width="1"/>
<line x1="758.8" y1="129.7" x2="999.8" y2="83" stroke="#e3e3e3" stroke-width="1"/>
<line x1="999.8" y1="83" x2="1272.1" y2="122" stroke="#e3e3e3" stroke-width="1"/>
<line x1="1051.6" y1="361.2" x2="1054.8" y2="50.1" stroke="#e3e3e3" stroke-width="1"/>
<line x1="824.7" y1="453.9" x2="1051.6" y2="361.2" stroke="#e3e3e3" stroke-width="1"/>
<line x1="1106.5" y1="376.6" x2="1112.9" y2="57.2" stroke="#e3e3e3" stroke-width="1"/>
<line x1="881.9" y1="474.9" x2="1106.5" y2="376.6" stroke="#e3e3e3" stroke-width="1"/>
<line x1="1164.5" y1="392.8" x2="1174.5" y2="64.8" stroke="#e3e3e3" stroke-width="1"/>
<line x1="942.8" y1="497.3" x2="1164.5" y2="392.8" stroke="#e3e3e3" stroke-width="1"/>
<line x1="1225.9" y1="410" x2="1240" y2="72.8" stroke="#e3e3e3" stroke-width="1"/>
<line x1="1008" y1="521.3" x2="1225.9" y2="410" stroke="#e3e3e3" stroke-width="1"/>
<line x1="757" y1="83.4" x2="999.8" y2="43.3" stroke="#6c6c6c" stroke-width="1.0"/>
<line x1="999.8" y1="43.3" x2="1274.3" y2="77" stroke="#6c6c6c" stroke-width="1.0"/>
<line x1="1274.3" y1="77" x2="1045.9" y2="130.9" stroke="#6c6c6c" stroke-width="1.0"/>
<line x1="1045.9" y1="130.9" x2="757" y2="83.4" stroke="#6c6c6c" stroke-width="1.0"/>
<line x1="999.8" y1="43.3" x2="999.5" y2="346.7" stroke="#6c6c6c" stroke-width="1.0"/>
<line x1="1274.3" y1="77" x2="1258" y2="418.9" stroke="#6c6c6c" stroke-width="1.0"/>
<line x1="771.1" y1="434.1" x2="999.5" y2="346.7" stroke="#6c6c6c" stroke-width="1.0"/>
<line x1="999.5" y1="346.7" x2="1258" y2="418.9" stroke="#6c6c6c" stroke-width="1.0"/>
<line x1="1042.3" y1="533.9" x2="1045.9" y2="130.9" stroke="#6c6c6c" stroke-width="1.0"/>
<ellipse cx="1018.6" cy="236.3" rx="124" ry="86" transform="rotate(-94.5 1018.6 236.3)" fill="#949494" fill-opacity="0.4"/>
<ellipse cx="1007.5" cy="246.6" rx="114" ry="110" transform="rotate(-93.9 1007.5 246.6)" fill="#ee8e94" fill-opacity="0.2254"/>
<ellipse cx="1038.9" cy="252.8" rx="127" ry="104.6" transform="rotate(-106.5 1038.9 252.8)" fill="#94da94" fill-opacity="0.4"/>
<ellipse cx="1007.5" cy="246.6" rx="114" ry="110" transform="rotate(-93.9 1007.5 246.6)" fill="#ee8e94" fill-opacity="0.2254"/>
<ellipse cx="995.6" cy="272.5" rx="108.5" ry="88" transform="rotate(-89.6 995.6 272.5)" fill="#9b9bda" fill-opacity="0.4"/>
<g opacity="0.55"><line x1="800.1" y1="423" x2="788" y2="78.3" stroke="#e3e3e3" stroke-width="1"/>
<line x1="800.1" y1="423" x2="1070.3" y2="519" stroke="#e3e3e3" stroke-width="1"/>
<line x1="855.1" y1="402" x2="846.8" y2="68.6" stroke="#e3e3e3" stroke-width="1"/>
<line x1="855.1" y1="402" x2="1122.8" y2="491" stroke="#e3e3e3" stroke-width="1"/>
<line x1="906.5" y1="382.3" x2="901.4" y2="59.6" stroke="#e3e3e3" stroke-width="1"/>
<line x1="906.5" y1="382.3" x2="1171.3" y2="465.2" stroke="#e3e3e3" stroke-width="1"/>
<line x1="954.5" y1="363.9" x2="952.3" y2="51.2" stroke="#e3e3e3" stroke-width="1"/>
<line x1="954.5" y1="363.9" x2="1216.2" y2="441.2" stroke="#e3e3e3" stroke-width="1"/>
<line x1="769.4" y1="392.6" x2="999.6" y2="310.5" stroke="#e3e3e3" stroke-width="1"/>
<line x1="999.6" y1="310.5" x2="1259.9" y2="378.4" stroke="#e3e3e3" stroke-width="1"/>
<line x1="767.7" y1="350.4" x2="999.6" y2="273.8" stroke="#e3e3e3" stroke-width="1"/>
<line x1="999.6" y1="273.8" x2="1261.9" y2="337.2" stroke="#e3e3e3" stroke-width="1"/>
<line x1="766" y1="307.6" x2="999.6" y2="236.6" stroke="#e3e3e3" stroke-width="1"/>
<line x1="999.6" y1="236.6" x2="1263.9" y2="295.5" stroke="#e3e3e3" stroke-width="1"/>
<line x1="764.2" y1="264.2" x2="999.7" y2="199" stroke="#e3e3e3" stroke-width="1"/>
<line x1="999.7" y1="199" x2="1265.9" y2="253.1" stroke="#e3e3e3" stroke-width="1"/>
<line x1="762.5" y1="220" x2="999.7" y2="160.8" stroke="#e3e3e3" stroke-width="1"/>
<line x1="999.7" y1="160.8" x2="1267.9" y2="210.1" stroke="#e3e3e3" stroke-width="1"/>
<line x1="760.7" y1="175.2" x2="999.7" y2="122.2" stroke="#e3e3e3" stroke-width="1"/>
<line x1="999.7" y1="122.2" x2="1270" y2="166.4" stroke="#e3e3e3" stroke-width="1"/>
<line x1="758.8" y1="129.7" x2="999.8" y2="83" stroke="#e3e3e3" stroke-width="1"/>
<line x1="999.8" y1="83" x2="1272.1" y2="122" stroke="#e3e3e3" stroke-width="1"/>
<line x1="1051.6" y1="361.2" x2="1054.8" y2="50.1" stroke="#e3e3e3" stroke-width="1"/>
<line x1="824.7" y1="453.9" x2="1051.6" y2="361.2" stroke="#e3e3e3" stroke-width="1"/>
<line x1="1106.5" y1="376.6" x2="1112.9" y2="57.2" stroke="#e3e3e3" stroke-width="1"/>
<line x1="881.9" y1="474.9" x2="1106.5" y2="376.6" stroke="#e3e3e3" stroke-width="1"/>
<line x1="1164.5" y1="392.8" x2="1174.5" y2="64.8" stroke="#e3e3e3" stroke-width="1"/>
<line x1="942.8" y1="497.3" x2="1164.5" y2="392.8" stroke="#e3e3e3" stroke-width="1"/>
<line x1="1225.9" y1="410" x2="1240" y2="72.8" stroke="#e3e3e3" stroke-width="1"/>
<line x1="1008" y1="521.3" x2="1225.9" y2="410" stroke="#e3e3e3" stroke-width="1"/>
<line x1="757" y1="83.4" x2="999.8" y2="43.3" stroke="#6c6c6c" stroke-width="1.0"/>
<line x1="999.8" y1="43.3" x2="1274.3" y2="77" stroke="#6c6c6c" stroke-width="1.0"/>
<line x1="1274.3" y1="77" x2="1045.9" y2="130.9" stroke="#6c6c6c" stroke-width="1.0"/>
<line x1="1045.9" y1="130.9" x2="757" y2="83.4" stroke="#6c6c6c" stroke-width="1.0"/>
<line x1="999.8" y1="43.3" x2="999.5" y2="346.7" stroke="#6c6c6c" stroke-width="1.0"/>
<line x1="1274.3" y1="77" x2="1258" y2="418.9" stroke="#6c6c6c" stroke-width="1.0"/>
<line x1="771.1" y1="434.1" x2="999.5" y2="346.7" stroke="#6c6c6c" stroke-width="1.0"/>
<line x1="999.5" y1="346.7" x2="1258" y2="418.9" stroke="#6c6c6c" stroke-width="1.0"/>
<line x1="1042.3" y1="533.9" x2="1045.9" y2="130.9" stroke="#6c6c6c" stroke-width="1.0"/></g>

<use href="#b22" x="1018.1" y="260.0"/>
<use href="#b26" x="1017.7" y="303.3"/>
<use href="#b26" x="1022.0" y="244.1"/>
<use href="#b24" x="974.1" y="320.7"/>
<use href="#b24" x="937.7" y="276.6"/>
<use href="#b22" x="986.6" y="285.0"/>
<use href="#b24" x="963.3" y="272.6"/>
<use href="#b26" x="966.2" y="318.2"/>
<use href="#b22" x="1024.8" y="256.7"/>
<use href="#b26" x="969.8" y="297.0"/>
<use href="#b22" x="1015.4" y="294.0"/>
<use href="#b22" x="992.7" y="259.3"/>
<use href="#b24" x="1036.2" y="345.5"/>
<use href="#b22" x="1027.0" y="273.0"/>
<use href="#b26" x="931.7" y="305.1"/>
<use href="#b22" x="995.5" y="284.0"/>
<use href="#b24" x="1026.4" y="342.4"/>
<use href="#b22" x="1002.5" y="311.0"/>
<use href="#b26" x="995.1" y="240.5"/>
<use href="#b22" x="968.7" y="323.3"/>
<use href="#b24" x="1017.8" y="279.7"/>
<use href="#b26" x="1032.1" y="252.0"/>
<use href="#b24" x="988.4" y="259.9"/>
<use href="#b24" x="979.0" y="329.7"/>
<use href="#b22" x="961.7" y="313.9"/>
<use href="#b22" x="1015.4" y="275.9"/>
<use href="#b24" x="974.0" y="366.0"/>
<use href="#b26" x="982.1" y="332.0"/>
<use href="#k24" x="1002.0" y="313.0"/>
<use href="#k26" x="1027.4" y="308.7"/>
<use href="#b24" x="1017.0" y="313.6"/>
<use href="#k24" x="975.8" y="197.8"/>
<use href="#k26" x="995.0" y="270.2"/>
<use href="#b22" x="994.7" y="318.4"/>
<use href="#b24" x="1009.0" y="336.5"/>
<use href="#k24" x="949.0" y="211.7"/>
<use href="#k26" x="934.8" y="255.5"/>
<use href="#k26" x="1025.5" y="238.1"/>
<use href="#b22" x="964.0" y="309.8"/>
<use href="#k26" x="1004.1" y="309.0"/>
<use href="#b26" x="1039.0" y="296.9"/>
<use href="#b24" x="989.4" y="271.3"/>
<use href="#b22" x="1048.1" y="329.1"/>
<use href="#b22" x="991.0" y="333.5"/>
<use href="#k24" x="1071.4" y="206.2"/>
<use href="#k22" x="1039.8" y="335.6"/>
<use href="#k24" x="1016.7" y="264.3"/>
<use href="#k22" x="1038.5" y="234.9"/>
<use href="#k26" x="1021.8" y="240.0"/>
<use href="#b24" x="1018.0" y="293.3"/>
<use href="#k26" x="1028.5" y="299.5"/>
<use href="#b24" x="953.2" y="353.1"/>
<use href="#b22" x="974.4" y="292.0"/>
<use href="#b26" x="993.4" y="259.0"/>
<use href="#k26" x="1009.6" y="247.2"/>
<use href="#b26" x="998.4" y="301.8"/>
<use href="#k26" x="1079.2" y="283.4"/>
<use href="#k24" x="1049.1" y="289.5"/>
<use href="#b24" x="1000.1" y="285.3"/>
<use href="#k22" x="1000.5" y="232.0"/>
<use href="#b26" x="967.8" y="303.4"/>
<use href="#k24" x="1044.9" y="247.4"/>
<use href="#b26" x="956.2" y="314.4"/>
<use href="#b26" x="1051.7" y="298.2"/>
<use href="#b24" x="985.2" y="290.8"/>
<use href="#k24" x="1031.0" y="205.6"/>
<use href="#k24" x="960.8" y="260.4"/>
<use href="#k24" x="1022.7" y="185.7"/>
<use href="#r26" x="1032.1" y="247.2"/>
<use href="#g22" x="1065.6" y="317.8"/>
<use href="#r26" x="978.9" y="227.9"/>
<use href="#r22" x="993.7" y="258.0"/>
<use href="#k26" x="1025.7" y="251.4"/>
<use href="#r22" x="988.6" y="252.6"/>
<use href="#g22" x="1053.2" y="302.2"/>
<use href="#g22" x="1034.4" y="238.9"/>
<use href="#r22" x="1017.6" y="212.0"/>
<use href="#r22" x="1018.9" y="232.8"/>
<use href="#r26" x="1042.5" y="317.6"/>
<use href="#g24" x="1076.8" y="351.1"/>
<use href="#r22" x="1075.7" y="303.3"/>
<use href="#b26" x="965.6" y="293.5"/>
<use href="#r26" x="1014.7" y="198.3"/>
<use href="#g26" x="1003.2" y="263.0"/>
<use href="#g22" x="1056.5" y="277.0"/>
<use href="#r24" x="982.9" y="290.4"/>
<use href="#g26" x="1034.1" y="200.5"/>
<use href="#r22" x="972.4" y="301.3"/>
<use href="#g24" x="1065.9" y="286.3"/>
<use href="#r24" x="973.4" y="225.1"/>
<use href="#g26" x="989.7" y="233.7"/>
<use href="#b22" x="943.8" y="290.0"/>
<use href="#b22" x="983.6" y="285.5"/>
<use href="#r24" x="992.7" y="305.1"/>
<use href="#g26" x="1072.7" y="172.4"/>
<use href="#r26" x="987.5" y="259.8"/>
<use href="#r24" x="1001.7" y="300.6"/>
<use href="#r22" x="1038.2" y="260.0"/>
<use href="#k26" x="1072.4" y="292.5"/>
<use href="#g22" x="1029.2" y="256.5"/>
<use href="#b26" x="976.9" y="286.4"/>
<use href="#b22" x="1017.2" y="341.6"/>
<use href="#b22" x="998.4" y="338.8"/>
<use href="#g22" x="1035.1" y="293.8"/>
<use href="#r24" x="1050.7" y="243.3"/>
<use href="#g26" x="982.2" y="217.0"/>
<use href="#g26" x="1033.4" y="218.4"/>
<use href="#g26" x="1049.1" y="243.6"/>
<use href="#k26" x="1055.1" y="274.6"/>
<use href="#k26" x="1059.0" y="157.2"/>
<use href="#g26" x="1033.4" y="183.8"/>
<use href="#r22" x="960.5" y="295.7"/>
<use href="#r24" x="1001.9" y="310.2"/>
<use href="#r26" x="1022.4" y="181.0"/>
<use href="#k26" x="1022.4" y="233.3"/>
<use href="#g26" x="1065.8" y="258.3"/>
<use href="#k22" x="999.3" y="239.7"/>
<use href="#r22" x="1016.8" y="187.6"/>
<use href="#k26" x="1009.2" y="157.2"/>
<use href="#r24" x="1026.7" y="293.0"/>
<use href="#r26" x="1028.8" y="287.4"/>
<use href="#k22" x="1067.4" y="299.4"/>
<use href="#r22" x="1021.3" y="198.3"/>
<use href="#k24" x="977.6" y="172.4"/>
<use href="#r26" x="991.9" y="191.0"/>
<use href="#g24" x="1058.8" y="331.1"/>
<use href="#g22" x="1057.5" y="271.1"/>
<use href="#r24" x="999.9" y="262.2"/>
<use href="#r24" x="1048.9" y="171.5"/>
<use href="#b22" x="995.3" y="271.0"/>
<use href="#g26" x="1058.8" y="320.5"/>
<use href="#k22" x="951.8" y="270.4"/>
<use href="#g24" x="999.0" y="240.6"/>
<use href="#g24" x="1078.1" y="251.6"/>
<use href="#k24" x="1019.9" y="172.6"/>
<use href="#k24" x="945.7" y="269.6"/>
<use href="#g24" x="1028.1" y="235.9"/>
<use href="#g26" x="1023.4" y="269.1"/>
<use href="#g22" x="1054.3" y="263.6"/>
<use href="#r22" x="1024.5" y="262.4"/>
<use href="#b26" x="1026.9" y="353.2"/>
<use href="#r26" x="1019.2" y="245.0"/>
<use href="#r24" x="952.2" y="296.0"/>
<use href="#r24" x="1045.1" y="218.6"/>
<use href="#r24" x="960.3" y="261.0"/>
<use href="#k22" x="1071.0" y="215.2"/>
<use href="#g24" x="1017.8" y="273.6"/>
<use href="#k24" x="1037.5" y="219.6"/>
<use href="#r22" x="983.8" y="244.2"/>
<use href="#g26" x="1078.1" y="167.1"/>
<use href="#g24" x="1100.0" y="253.4"/>
<use href="#b22" x="972.4" y="323.5"/>
<use href="#g26" x="1069.6" y="234.1"/>
<use href="#g24" x="1005.8" y="331.9"/>
<use href="#g26" x="1122.6" y="254.0"/>
<use href="#r24" x="1008.5" y="192.6"/>
<use href="#b22" x="957.0" y="311.6"/>
<use href="#r24" x="1012.2" y="236.3"/>
<use href="#k24" x="1035.2" y="210.2"/>
<use href="#b22" x="1046.7" y="322.0"/>
<use href="#g24" x="1065.7" y="244.7"/>
<use href="#r26" x="1002.5" y="330.2"/>
<use href="#b24" x="1030.1" y="309.8"/>
<use href="#b26" x="962.8" y="335.7"/>
<use href="#k26" x="1014.5" y="234.8"/>
<use href="#r22" x="1012.9" y="204.3"/>
<use href="#g24" x="1037.7" y="244.7"/>
<use href="#g26" x="1059.7" y="295.8"/>
<use href="#g26" x="1116.3" y="273.5"/>
<use href="#k24" x="988.9" y="184.7"/>
<use href="#g24" x="1014.7" y="316.6"/>
<use href="#g24" x="1063.9" y="259.8"/>
<use href="#g24" x="1040.5" y="332.1"/>
<use href="#b26" x="1049.6" y="288.4"/>
<use href="#r22" x="1050.7" y="254.5"/>
<use href="#g26" x="1014.7" y="281.3"/>
<use href="#r26" x="1002.4" y="293.3"/>
<use href="#r26" x="1066.1" y="254.0"/>
<use href="#g26" x="1001.9" y="290.1"/>
<use href="#r26" x="1060.8" y="181.4"/>
<use href="#b22" x="1032.9" y="292.2"/>
<use href="#r26" x="976.8" y="259.0"/>
<use href="#g26" x="1100.9" y="213.8"/>
<use href="#k26" x="1011.2" y="184.1"/>
<use href="#g24" x="1069.9" y="308.6"/>
<use href="#r26" x="997.7" y="302.2"/>
<use href="#r26" x="1013.0" y="328.3"/>
<use href="#r22" x="1065.5" y="314.7"/>
<use href="#r24" x="1057.1" y="278.4"/>
<use href="#k24" x="1040.8" y="230.0"/>
<use href="#g26" x="1073.6" y="216.2"/>
<use href="#b22" x="972.5" y="315.7"/>
<use href="#k26" x="1031.8" y="201.1"/>
<use href="#r22" x="1010.9" y="292.0"/>
<use href="#r24" x="1025.0" y="158.5"/>
<use href="#r22" x="999.5" y="217.5"/>
<use href="#g22" x="1043.2" y="318.8"/>
<use href="#k22" x="982.6" y="252.0"/>
<use href="#r22" x="1013.9" y="278.4"/>
<use href="#r26" x="972.2" y="324.9"/>
<use href="#r22" x="966.1" y="190.6"/>
<use href="#g22" x="1042.9" y="201.8"/>
<use href="#g26" x="1090.2" y="256.0"/>
<use href="#g26" x="1057.1" y="256.6"/>
<use href="#g24" x="1039.5" y="240.1"/>
<use href="#r24" x="1073.3" y="202.0"/>
<use href="#b22" x="981.8" y="317.7"/>
<use href="#g26" x="1041.6" y="279.7"/>
<use href="#g26" x="1092.2" y="211.0"/>
<use href="#r26" x="970.4" y="286.5"/>
<use href="#b24" x="979.2" y="313.5"/>
<use href="#r26" x="995.1" y="237.0"/>
<use href="#g26" x="1071.4" y="219.1"/>
<use href="#r26" x="1045.9" y="195.0"/>
<use href="#r26" x="1020.7" y="271.6"/>
<use href="#r22" x="1026.8" y="295.6"/>
<use href="#g24" x="1034.3" y="308.5"/>
<use href="#b26" x="1020.0" y="285.6"/>
<use href="#g22" x="1058.1" y="260.4"/>
<use href="#r26" x="967.3" y="244.6"/>
<use href="#b22" x="964.8" y="287.5"/>
<use href="#r26" x="1041.5" y="242.3"/>
<use href="#g24" x="1027.9" y="255.1"/>
<use href="#b26" x="1032.2" y="299.5"/>
<use href="#b22" x="1019.1" y="324.8"/>
<use href="#b24" x="1022.1" y="291.4"/>
<use href="#r24" x="1042.6" y="237.9"/>
<use href="#k26" x="1036.7" y="260.4"/>
<use href="#g24" x="1004.2" y="218.2"/>
<use href="#r22" x="992.2" y="209.4"/>
<use href="#b24" x="959.8" y="273.7"/>
<use href="#b24" x="988.0" y="264.2"/>
<use href="#r24" x="1010.4" y="280.7"/>
<use href="#r22" x="1006.5" y="289.2"/>
<use href="#r26" x="1025.0" y="301.4"/>
<use href="#g22" x="1052.0" y="214.4"/>
<use href="#b22" x="1016.6" y="254.1"/>
<use href="#k24" x="1011.6" y="213.2"/>
<use href="#k26" x="1017.7" y="313.7"/>
<use href="#r22" x="1045.6" y="249.3"/>
<use href="#b22" x="955.1" y="270.5"/>
<use href="#r26" x="996.9" y="191.0"/>
<use href="#r24" x="1084.0" y="199.9"/>
<use href="#r24" x="1022.5" y="243.5"/>
<use href="#b22" x="1003.2" y="302.4"/>
<use href="#k22" x="1009.2" y="192.3"/>
<use href="#r24" x="1021.7" y="278.1"/>
<use href="#k22" x="1009.1" y="238.2"/>
<use href="#r22" x="1051.9" y="264.7"/>
<use href="#r24" x="983.6" y="272.1"/>
<use href="#b26" x="1031.2" y="288.8"/>
<use href="#r22" x="1074.6" y="272.3"/>
<use href="#g22" x="1077.8" y="334.9"/>
<use href="#g24" x="1005.1" y="322.8"/>
<use href="#g22" x="1023.3" y="161.6"/>
<use href="#b22" x="957.6" y="276.2"/>
<use href="#g22" x="1045.8" y="311.8"/>
<use href="#r26" x="1039.9" y="303.1"/>
<use href="#k26" x="1056.2" y="226.4"/>
<use href="#g24" x="1063.4" y="318.7"/>
<use href="#b26" x="971.5" y="321.5"/>
<use href="#k22" x="1043.7" y="275.6"/>
<use href="#g26" x="1107.6" y="259.0"/>
<use href="#g24" x="1086.2" y="260.4"/>
<use href="#g22" x="1089.1" y="333.0"/>
<use href="#g22" x="1011.2" y="214.6"/>
<use href="#r24" x="1050.3" y="280.8"/>
<use href="#g24" x="1018.6" y="322.5"/>
<use href="#r26" x="1036.6" y="237.5"/>
<use href="#r24" x="994.7" y="280.2"/>
<use href="#r22" x="985.5" y="169.7"/>
<use href="#g24" x="1032.1" y="244.1"/>
<use href="#k24" x="1034.2" y="212.6"/>
<use href="#g26" x="1015.4" y="312.3"/>
<use href="#b24" x="965.8" y="324.2"/>
<use href="#k26" x="930.6" y="236.0"/>
<use href="#g26" x="1071.8" y="333.8"/>
<use href="#b22" x="1019.6" y="290.0"/>
<use href="#r26" x="1031.7" y="263.5"/>
<use href="#r24" x="995.6" y="245.6"/>
<use href="#g22" x="1095.6" y="225.1"/>
<use href="#g24" x="1065.7" y="215.4"/>
<use href="#b22" x="1020.9" y="292.4"/>
<use href="#r26" x="956.1" y="277.7"/>
<use href="#b26" x="1049.3" y="324.4"/>
<use href="#b26" x="953.8" y="280.9"/>
<use href="#b22" x="1000.2" y="289.8"/>
<use href="#k24" x="961.3" y="194.6"/>
<use href="#r26" x="1025.0" y="304.1"/>
<use href="#r24" x="984.6" y="250.8"/>
<use href="#g22" x="1026.0" y="261.3"/>
<use href="#r22" x="1042.8" y="311.2"/>
<use href="#g22" x="1094.1" y="224.9"/>
<use href="#r22" x="1003.9" y="256.3"/>
<use href="#g26" x="1106.8" y="236.4"/>
<use href="#b24" x="982.0" y="290.6"/>
<use href="#r26" x="1048.7" y="196.0"/>
<use href="#g24" x="1025.7" y="268.8"/>
<use href="#g22" x="1028.3" y="240.7"/>
<use href="#g24" x="1096.2" y="261.2"/>
<use href="#r22" x="986.6" y="290.1"/>
<use href="#r24" x="968.8" y="251.9"/>
<use href="#g26" x="1048.2" y="264.1"/>
<use href="#g24" x="978.2" y="223.1"/>
<use href="#g22" x="1031.5" y="302.0"/>
<use href="#g22" x="1048.7" y="278.0"/>
<use href="#g22" x="1012.3" y="270.1"/>
<use href="#b26" x="1030.6" y="335.1"/>
<use href="#r26" x="922.3" y="294.6"/>
<use href="#g24" x="993.7" y="224.9"/>
<use href="#r22" x="1016.3" y="291.2"/>
<use href="#g24" x="1062.4" y="290.2"/>
<use href="#g22" x="1011.7" y="245.4"/>
<use href="#r24" x="1021.9" y="259.7"/>
<use href="#g22" x="1120.0" y="259.2"/>
<use href="#g24" x="1086.4" y="248.4"/>
<use href="#r26" x="1003.3" y="318.8"/>
<use href="#g22" x="1063.7" y="333.3"/>
<use href="#g24" x="1031.2" y="282.5"/>
<use href="#b26" x="1009.1" y="315.6"/>
<use href="#g22" x="1051.6" y="195.7"/>
<use href="#k22" x="1014.9" y="253.0"/>
<use href="#r24" x="983.0" y="334.8"/>
<use href="#k24" x="1099.2" y="259.8"/>
<use href="#r26" x="1065.6" y="292.4"/>
<use href="#g22" x="1080.0" y="254.1"/>
<use href="#r22" x="1040.5" y="215.4"/>
<use href="#g22" x="1020.1" y="221.7"/>
<use href="#r22" x="991.2" y="260.0"/>
<use href="#b22" x="1031.8" y="272.4"/>
<use href="#k22" x="1032.9" y="199.9"/>
<use href="#r22" x="978.8" y="296.9"/>
<use href="#r22" x="1002.0" y="229.4"/>
<use href="#r26" x="1042.1" y="272.0"/>
<use href="#b26" x="1043.4" y="246.8"/>
<use href="#b22" x="1042.5" y="289.0"/>
<use href="#r22" x="1019.0" y="221.2"/>
<use href="#r26" x="1042.3" y="207.0"/>
<use href="#k24" x="1013.3" y="310.6"/>
<use href="#r24" x="1010.1" y="199.3"/>
<use href="#g26" x="1002.1" y="318.6"/>
<use href="#r26" x="958.8" y="330.8"/>
<use href="#r26" x="1044.4" y="308.6"/>
<use href="#g22" x="1072.0" y="198.3"/>
<use href="#r22" x="1014.4" y="286.2"/>
<use href="#g22" x="1066.5" y="195.5"/>
<use href="#r26" x="1039.1" y="207.0"/>
<use href="#b24" x="1011.2" y="277.3"/>
<use href="#r26" x="952.2" y="238.1"/>
<use href="#b22" x="1030.7" y="292.2"/>
<use href="#g22" x="1064.0" y="217.4"/>
<use href="#b22" x="986.0" y="284.8"/>
<use href="#g26" x="1035.1" y="265.1"/>
<use href="#r24" x="1026.4" y="293.4"/>
<use href="#g22" x="1098.8" y="293.2"/>
<use href="#r24" x="998.3" y="336.6"/>
<use href="#r26" x="1046.7" y="235.1"/>
<use href="#r22" x="976.9" y="290.6"/>
<use href="#r22" x="949.5" y="207.1"/>
<use href="#r26" x="976.3" y="240.7"/>
<use href="#g24" x="1034.1" y="256.1"/>
<use href="#k24" x="972.4" y="224.4"/>
<use href="#r26" x="1017.6" y="281.3"/>
<use href="#r24" x="1041.7" y="205.0"/>
<use href="#b22" x="985.9" y="300.2"/>
<use href="#g22" x="1068.8" y="236.2"/>
<use href="#g26" x="1063.3" y="293.2"/>
<use href="#g22" x="1040.3" y="301.6"/>
<use href="#b22" x="1017.2" y="280.9"/>
<use href="#r26" x="1006.1" y="274.2"/>
<use href="#r26" x="1037.8" y="218.9"/>
<use href="#b26" x="981.1" y="254.6"/>
<use href="#r24" x="1008.0" y="202.2"/>
<use href="#g24" x="1088.3" y="333.1"/>
<use href="#r22" x="1013.0" y="329.7"/>
<use href="#g24" x="1021.7" y="269.0"/>
<use href="#b26" x="992.5" y="354.7"/>
<use href="#r22" x="1044.1" y="319.2"/>
<use href="#r22" x="982.8" y="233.2"/>
<use href="#g22" x="1098.2" y="179.8"/>
<use href="#g26" x="1041.3" y="321.4"/>
<use href="#r22" x="1023.7" y="244.0"/>
<use href="#b26" x="1001.5" y="265.6"/>
<use href="#r24" x="1001.0" y="247.5"/>
<use href="#r26" x="1024.1" y="178.4"/>
<use href="#g24" x="988.2" y="242.9"/>
<use href="#r24" x="1047.3" y="254.8"/>
<use href="#g22" x="1041.0" y="160.0"/>
<use href="#b22" x="976.9" y="291.3"/>
<use href="#g26" x="981.1" y="230.4"/>
<use href="#r22" x="976.5" y="213.7"/>
<use href="#r22" x="937.7" y="257.5"/>
<use href="#r22" x="947.7" y="241.8"/>
<use href="#b26" x="1035.4" y="348.1"/>
<use href="#r26" x="1057.0" y="241.5"/>
<use href="#g22" x="1013.0" y="264.4"/>
<use href="#g22" x="1023.7" y="248.4"/>
<use href="#g24" x="1014.4" y="303.0"/>
<use href="#g22" x="1038.5" y="289.0"/>
<use href="#r22" x="973.4" y="310.5"/>
<use href="#r22" x="968.0" y="176.2"/>
<use href="#k22" x="1028.4" y="239.2"/>
<use href="#r22" x="1019.8" y="267.8"/>
<use href="#k26" x="1010.7" y="277.0"/>
<use href="#g26" x="1020.0" y="299.1"/>
<use href="#r22" x="1022.9" y="167.9"/>
<use href="#k24" x="1084.2" y="303.1"/>
<use href="#g24" x="1020.1" y="260.5"/>
<use href="#r24" x="1046.1" y="220.5"/>
<use href="#k22" x="1008.6" y="221.5"/>
<use href="#r26" x="1039.8" y="291.2"/>
<use href="#k22" x="1025.6" y="185.9"/>
<use href="#r26" x="1059.2" y="310.8"/>
<use href="#k22" x="1053.3" y="272.4"/>
<use href="#g24" x="1078.8" y="268.2"/>
<use href="#g26" x="1063.9" y="296.1"/>
<use href="#g22" x="1056.0" y="269.8"/>
<use href="#g24" x="1037.6" y="213.5"/>
<use href="#r26" x="947.2" y="193.6"/>
<use href="#k22" x="978.7" y="283.1"/>
<use href="#g22" x="1070.6" y="315.2"/>
<use href="#g26" x="1047.7" y="300.5"/>
<use href="#b22" x="934.6" y="307.5"/>
<use href="#r26" x="1074.8" y="199.7"/>
<use href="#g22" x="1032.3" y="344.0"/>
<use href="#g26" x="1004.4" y="185.1"/>
<use href="#b22" x="983.7" y="299.6"/>
<use href="#g22" x="1110.3" y="287.7"/>
<use href="#b26" x="999.5" y="312.8"/>
<use href="#r22" x="962.5" y="259.2"/>
<use href="#g24" x="1032.0" y="326.5"/>
<use href="#k26" x="1036.8" y="182.3"/>
<use href="#r24" x="1044.0" y="266.1"/>
<use href="#r24" x="1000.0" y="247.6"/>
<use href="#g24" x="1037.7" y="308.8"/>
<use href="#r24" x="1007.0" y="239.7"/>
<use href="#g22" x="1096.9" y="307.4"/>
<use href="#k22" x="1000.5" y="306.4"/>
<use href="#r24" x="1048.1" y="287.3"/>
<use href="#r26" x="936.2" y="265.5"/>
<use href="#r24" x="1055.1" y="293.7"/>
<use href="#k26" x="1071.8" y="255.4"/>
<use href="#g26" x="1002.8" y="374.1"/>
<use href="#r26" x="986.8" y="239.8"/>
<use href="#g24" x="1083.2" y="291.1"/>
<use href="#g26" x="1056.7" y="277.9"/>
<use href="#r22" x="1022.7" y="206.1"/>
<use href="#r24" x="1085.8" y="229.3"/>
<use href="#g24" x="1070.0" y="249.9"/>
<use href="#r22" x="988.2" y="245.5"/>
<use href="#r24" x="1024.2" y="320.8"/>
<use href="#r22" x="975.5" y="258.1"/>
<use href="#r24" x="996.2" y="274.5"/>
<use href="#r22" x="1064.3" y="322.9"/>
<use href="#r26" x="981.6" y="262.0"/>
<use href="#r22" x="1054.6" y="287.6"/>
<use href="#g24" x="1029.7" y="283.8"/>
<use href="#r26" x="1023.8" y="223.3"/>
<use href="#r22" x="1022.6" y="181.1"/>
<use href="#k24" x="1043.8" y="257.3"/>
<use href="#k24" x="1099.2" y="242.6"/>
<use href="#r26" x="1014.3" y="249.9"/>
<use href="#r22" x="971.1" y="340.3"/>
<use href="#r24" x="1042.8" y="202.3"/>
<use href="#b24" x="1050.2" y="326.7"/>
<use href="#r22" x="969.3" y="279.2"/>
<use href="#g26" x="1094.3" y="273.7"/>
<use href="#g22" x="1003.6" y="232.0"/>
<use href="#g22" x="1008.5" y="221.2"/>
<use href="#g26" x="1032.7" y="349.2"/>
<use href="#r24" x="1047.1" y="209.7"/>
<use href="#g26" x="1039.6" y="212.8"/>
<use href="#r24" x="983.2" y="220.6"/>
<use href="#r26" x="1061.6" y="272.0"/>
<use href="#g24" x="1053.2" y="274.9"/>
<use href="#g26" x="1058.8" y="265.8"/>
<use href="#r24" x="977.1" y="310.7"/>
<use href="#r24" x="952.9" y="330.1"/>
<use href="#b24" x="1026.9" y="287.5"/>
<use href="#r22" x="1069.7" y="266.2"/>
<use href="#k26" x="974.6" y="295.8"/>
<use href="#r26" x="1014.6" y="285.4"/>
<use href="#r24" x="996.6" y="204.5"/>
<use href="#g24" x="1105.8" y="199.0"/>
<use href="#g22" x="1004.3" y="244.9"/>
<use href="#b24" x="1009.8" y="342.9"/>
<use href="#g26" x="1005.0" y="179.4"/>
<use href="#g24" x="1103.2" y="196.5"/>
<use href="#k26" x="978.7" y="220.4"/>
<use href="#r26" x="1051.6" y="250.9"/>
<use href="#r22" x="948.1" y="298.1"/>
<use href="#g24" x="1069.1" y="295.6"/>
<use href="#b22" x="980.3" y="339.9"/>
<use href="#b26" x="970.1" y="319.2"/>
<use href="#k24" x="1019.0" y="212.1"/>
<use href="#r24" x="990.9" y="216.9"/>
<use href="#r24" x="933.3" y="288.8"/>
<use href="#g24" x="1051.0" y="197.0"/>
<use href="#g26" x="1028.4" y="281.2"/>
<use href="#r26" x="979.5" y="260.6"/>
<use href="#k26" x="960.4" y="182.9"/>
<use href="#r26" x="1036.5" y="209.3"/>
<use href="#r22" x="928.5" y="337.9"/>
<use href="#g24" x="1002.3" y="275.3"/>
<use href="#b26" x="982.8" y="324.2"/>
<use href="#g22" x="1039.0" y="262.9"/>
<use href="#g24" x="1080.1" y="264.4"/>
<use href="#b22" x="1018.4" y="307.2"/>
<use href="#r22" x="965.9" y="267.5"/>
<use href="#r22" x="998.1" y="286.1"/>
<use href="#r24" x="938.4" y="279.4"/>
<use href="#b24" x="951.9" y="277.5"/>
<use href="#k24" x="996.0" y="281.3"/>
<use href="#r24" x="932.2" y="214.8"/>
<use href="#r26" x="1002.8" y="221.1"/>
<use href="#g24" x="1029.6" y="193.6"/>
<use href="#r24" x="989.9" y="184.1"/>
<use href="#b26" x="990.9" y="338.6"/>
<use href="#r24" x="1016.2" y="214.9"/>
<use href="#r24" x="1075.6" y="252.3"/>
<use href="#k24" x="1052.0" y="248.8"/>
<use href="#k22" x="1039.5" y="279.3"/>
<use href="#b26" x="963.2" y="335.5"/>
<use href="#r26" x="981.3" y="281.8"/>
<use href="#r22" x="997.5" y="284.9"/>
<use href="#k22" x="1077.7" y="208.1"/>
<use href="#g24" x="1077.1" y="227.1"/>
<use href="#r24" x="989.2" y="155.6"/>
<use href="#r22" x="1064.5" y="208.3"/>
<use href="#b24" x="1049.0" y="298.5"/>
<use href="#r22" x="1054.5" y="274.9"/>
<use href="#g24" x="1036.9" y="259.3"/>
<use href="#r24" x="1001.3" y="243.1"/>
<use href="#g22" x="1084.5" y="284.1"/>
<use href="#r24" x="1026.1" y="350.2"/>
<use href="#g22" x="1026.2" y="290.7"/>
<use href="#r22" x="923.3" y="258.1"/>
<use href="#r26" x="957.1" y="277.4"/>
<use href="#b26" x="1025.8" y="359.7"/>
<use href="#r26" x="954.5" y="264.8"/>
<use href="#k26" x="1065.6" y="259.5"/>
<use href="#k24" x="1077.5" y="246.8"/>
<use href="#k24" x="1072.9" y="227.2"/>
<use href="#g22" x="1057.6" y="279.2"/>
<use href="#r22" x="958.7" y="291.1"/>
<use href="#k24" x="953.3" y="260.4"/>
<use href="#k26" x="1062.7" y="244.4"/>
<use href="#r26" x="1018.4" y="202.7"/>
<use href="#r24" x="964.8" y="190.3"/>
<use href="#b22" x="963.1" y="297.8"/>
<use href="#r26" x="940.6" y="231.0"/>
<use href="#r22" x="1027.8" y="272.2"/>
<use href="#r26" x="961.8" y="276.1"/>
<use href="#r22" x="985.2" y="251.9"/>
<use href="#g26" x="1057.0" y="231.4"/>
<use href="#g22" x="1064.1" y="266.4"/>
<use href="#r26" x="1020.7" y="169.1"/>
<use href="#r22" x="1027.0" y="320.8"/>
<use href="#k26" x="1050.6" y="210.8"/>
<use href="#r24" x="1002.0" y="163.1"/>
<use href="#k26" x="1008.1" y="320.4"/>
<use href="#r22" x="1007.0" y="213.4"/>
<use href="#b22" x="988.1" y="289.8"/>
<use href="#r22" x="1022.3" y="202.8"/>
<use href="#k26" x="1013.0" y="261.8"/>
<use href="#r26" x="1046.7" y="302.0"/>
<use href="#r24" x="1001.6" y="256.8"/>
<use href="#r22" x="1013.8" y="220.1"/>
<use href="#r24" x="985.7" y="255.9"/>
<use href="#r26" x="1072.5" y="184.0"/>
<use href="#r26" x="940.7" y="238.4"/>
<use href="#r22" x="994.0" y="180.1"/>
<use href="#k22" x="1023.5" y="196.9"/>
<use href="#k24" x="1046.6" y="239.1"/>
<use href="#g24" x="1068.9" y="323.4"/>
<use href="#g22" x="1038.5" y="264.6"/>
<use href="#g26" x="1026.5" y="212.1"/>
<use href="#r24" x="1027.5" y="279.3"/>
<use href="#r22" x="1009.8" y="309.6"/>
<use href="#r22" x="1016.9" y="220.3"/>
<use href="#r22" x="1062.4" y="276.6"/>
<use href="#g26" x="1063.1" y="270.3"/>
<use href="#r24" x="1042.9" y="284.6"/>
<use href="#r26" x="1060.3" y="228.3"/>
<use href="#b24" x="974.6" y="290.0"/>
<use href="#r24" x="1004.1" y="244.6"/>
<use href="#k26" x="1084.3" y="258.0"/>
<use href="#r26" x="1076.2" y="239.2"/>
<use href="#k22" x="1071.5" y="285.3"/>
<use href="#r22" x="1034.0" y="230.6"/>
<use href="#g22" x="1005.0" y="177.2"/>
<use href="#g24" x="1017.3" y="208.3"/>
<use href="#b22" x="986.9" y="357.8"/>
<use href="#r26" x="1051.7" y="256.0"/>
<use href="#r24" x="1020.3" y="244.2"/>
<use href="#g22" x="1065.7" y="285.4"/>
<use href="#g26" x="1090.6" y="275.7"/>
<use href="#b22" x="981.1" y="283.0"/>
<use href="#g24" x="1102.3" y="294.1"/>
<use href="#r24" x="990.0" y="187.1"/>
<use href="#r24" x="1015.3" y="230.1"/>
<use href="#r24" x="994.2" y="166.3"/>
<use href="#r24" x="990.9" y="223.6"/>
<use href="#r26" x="968.6" y="315.8"/>
<use href="#r24" x="1012.6" y="261.4"/>
<use href="#g24" x="1031.7" y="235.2"/>
<use href="#g24" x="1068.7" y="233.3"/>
<use href="#b24" x="962.5" y="283.0"/>
<use href="#g24" x="1015.8" y="330.5"/>
<use href="#r22" x="1024.3" y="232.9"/>
<use href="#r22" x="1037.0" y="326.7"/>
<use href="#r26" x="1045.7" y="239.4"/>
<use href="#k24" x="1059.4" y="200.6"/>
<use href="#r26" x="1050.6" y="314.3"/>
<use href="#r24" x="1015.8" y="158.9"/>
<use href="#b22" x="995.8" y="234.4"/>
<use href="#g22" x="1000.7" y="206.9"/>
<use href="#b26" x="995.5" y="330.3"/>
<use href="#b24" x="986.2" y="275.0"/>
<use href="#r26" x="989.2" y="312.7"/>
<use href="#b24" x="1022.0" y="279.2"/>
<use href="#k24" x="1020.5" y="270.8"/>
<use href="#b24" x="1026.3" y="292.1"/>
<use href="#b22" x="991.6" y="270.5"/>
<use href="#b22" x="1010.9" y="322.3"/>
<use href="#k22" x="1014.2" y="159.9"/>
<use href="#g22" x="1075.8" y="266.1"/>
<use href="#r26" x="1043.9" y="278.9"/>
<use href="#b26" x="961.6" y="264.7"/>
<use href="#g22" x="1039.0" y="282.0"/>
<use href="#r26" x="1008.4" y="284.5"/>
<use href="#r22" x="967.3" y="224.6"/>
<use href="#g26" x="1056.6" y="317.5"/>
<use href="#g26" x="1098.4" y="288.8"/>
<use href="#g26" x="1033.8" y="351.4"/>
<use href="#r24" x="976.2" y="263.7"/>
<use href="#r24" x="1021.4" y="255.8"/>
<use href="#b24" x="1010.7" y="251.7"/>
<use href="#b26" x="1017.6" y="282.5"/>
<use href="#r26" x="944.7" y="241.9"/>
<use href="#k22" x="937.6" y="212.7"/>
<use href="#g24" x="999.2" y="268.0"/>
<use href="#r24" x="1061.9" y="186.5"/>
<use href="#r26" x="1005.6" y="279.3"/>
<use href="#r22" x="1016.8" y="312.8"/>
<use href="#g24" x="1072.6" y="311.5"/>
<use href="#r26" x="1032.0" y="250.4"/>
<use href="#b22" x="1018.0" y="365.8"/>
<use href="#g22" x="1080.8" y="307.1"/>
<use href="#r26" x="922.4" y="336.4"/>
<use href="#k26" x="974.3" y="215.3"/>
<use href="#g24" x="1070.4" y="239.8"/>
<use href="#r24" x="947.5" y="249.6"/>
<use href="#r24" x="972.2" y="211.7"/>
<use href="#g22" x="1109.9" y="210.1"/>
<use href="#b24" x="986.1" y="318.6"/>
<use href="#r22" x="993.5" y="170.8"/>
<use href="#r22" x="998.4" y="350.8"/>
<use href="#b24" x="971.4" y="327.5"/>
<use href="#r24" x="1040.5" y="246.4"/>
<use href="#r22" x="1009.9" y="279.5"/>
<use href="#b26" x="968.2" y="307.9"/>
<use href="#r26" x="955.0" y="193.8"/>
<use href="#r22" x="987.5" y="232.2"/>
<use href="#r26" x="983.9" y="266.5"/>
<use href="#r24" x="1024.2" y="270.2"/>
<use href="#r24" x="983.1" y="255.5"/>
<use href="#g22" x="1044.1" y="277.8"/>
<use href="#k26" x="1056.5" y="261.0"/>
<use href="#r24" x="1041.8" y="262.5"/>
<use href="#r26" x="1059.5" y="222.6"/>
<use href="#g22" x="1028.3" y="300.3"/>
<use href="#b24" x="986.8" y="299.9"/>
<use href="#b26" x="980.9" y="305.1"/>
<use href="#g26" x="1052.1" y="241.9"/>
<use href="#g22" x="1009.8" y="337.3"/>
<use href="#b24" x="994.8" y="280.5"/>
<use href="#r22" x="988.6" y="248.0"/>
<use href="#g24" x="1120.3" y="243.3"/>
<use href="#r22" x="997.0" y="162.3"/>
<use href="#r24" x="934.4" y="350.8"/>
<use href="#k24" x="1028.1" y="268.3"/>
<use href="#b22" x="1015.5" y="316.4"/>
<use href="#r26" x="983.8" y="162.5"/>
<use href="#b26" x="979.5" y="291.6"/>
<use href="#r26" x="984.7" y="216.3"/>
<use href="#r26" x="1021.2" y="212.0"/>
<use href="#r24" x="1006.2" y="191.0"/>
<use href="#r26" x="1009.0" y="292.3"/>
<use href="#r26" x="945.5" y="289.2"/>
<use href="#g26" x="1060.8" y="312.4"/>
<use href="#r26" x="952.1" y="212.1"/>
<use href="#b22" x="1036.4" y="284.4"/>
<use href="#b22" x="967.2" y="345.7"/>
<use href="#r22" x="1022.1" y="231.8"/>
<use href="#g24" x="1067.6" y="224.5"/>
<use href="#r24" x="962.2" y="268.0"/>
<use href="#g22" x="1044.4" y="198.5"/>
<use href="#k22" x="954.5" y="250.2"/>
<use href="#r22" x="1034.3" y="260.3"/>
<use href="#k22" x="1074.7" y="219.0"/>
<use href="#g22" x="1058.2" y="292.9"/>
<use href="#g26" x="1016.7" y="161.7"/>
<use href="#r26" x="972.3" y="213.4"/>
<use href="#r22" x="1030.5" y="272.5"/>
<use href="#b22" x="1019.7" y="241.9"/>
<use href="#k26" x="1034.9" y="256.9"/>
<use href="#g26" x="1021.8" y="302.0"/>
<use href="#r22" x="981.4" y="215.9"/>
<use href="#r24" x="1013.4" y="214.0"/>
<use href="#r26" x="1008.4" y="293.0"/>
<use href="#r22" x="1025.6" y="176.4"/>
<use href="#k22" x="1056.6" y="278.0"/>
<use href="#r26" x="1048.4" y="258.9"/>
<use href="#r22" x="1009.3" y="214.1"/>
<use href="#r26" x="996.3" y="245.5"/>
<use href="#b24" x="1025.5" y="305.0"/>
<use href="#g24" x="1075.2" y="243.4"/>
<use href="#g26" x="1118.2" y="284.9"/>
<use href="#b22" x="1015.9" y="301.0"/>
<use href="#r26" x="994.0" y="259.2"/>
<use href="#g26" x="996.0" y="264.1"/>
<use href="#r24" x="1033.0" y="180.3"/>
<use href="#b22" x="996.3" y="309.1"/>
<use href="#b24" x="967.2" y="305.3"/>
<use href="#g26" x="1055.9" y="245.8"/>
<use href="#r22" x="1015.9" y="283.0"/>
<use href="#r22" x="996.7" y="301.0"/>
<use href="#g26" x="1011.5" y="279.1"/>
<use href="#b24" x="1011.9" y="281.8"/>
<use href="#r22" x="1033.6" y="185.1"/>
<use href="#k26" x="989.1" y="213.6"/>
<use href="#b22" x="1007.0" y="285.6"/>
<use href="#r22" x="990.0" y="243.7"/>
<use href="#r24" x="1009.3" y="273.5"/>
<use href="#r22" x="1052.5" y="226.6"/>
<use href="#k22" x="1033.9" y="255.0"/>
<use href="#r26" x="922.1" y="253.9"/>
<use href="#k24" x="1056.5" y="268.0"/>
<use href="#r22" x="986.2" y="299.4"/>
<use href="#b24" x="983.3" y="310.4"/>
<use href="#k26" x="973.5" y="299.1"/>
<use href="#r24" x="974.4" y="271.5"/>
<use href="#r24" x="1005.8" y="272.3"/>
<use href="#b22" x="1032.8" y="313.1"/>
<use href="#k26" x="993.3" y="244.1"/>
<use href="#b26" x="965.6" y="305.9"/>
<use href="#r22" x="976.8" y="291.5"/>
<use href="#r26" x="981.3" y="306.4"/>
<use href="#g24" x="1071.2" y="300.8"/>
<use href="#g22" x="1008.6" y="234.2"/>
<use href="#r22" x="1068.4" y="265.3"/>
<use href="#k22" x="1003.3" y="295.3"/>
<use href="#g22" x="1012.2" y="189.6"/>
<use href="#g24" x="1030.3" y="286.1"/>
<use href="#r26" x="1020.2" y="227.7"/>
<use href="#g24" x="1001.3" y="303.8"/>
<use href="#g22" x="1061.4" y="266.9"/>
<use href="#r22" x="1009.4" y="333.4"/>
<use href="#b24" x="995.6" y="264.1"/>
<use href="#r22" x="1023.5" y="218.9"/>
<use href="#r26" x="1014.0" y="316.0"/>
<use href="#k24" x="1052.3" y="255.1"/>
<use href="#r26" x="1037.8" y="219.0"/>
<use href="#b24" x="986.3" y="347.2"/>
<use href="#k22" x="1039.1" y="246.7"/>
<use href="#r22" x="985.5" y="252.3"/>
<use href="#g24" x="1026.9" y="214.5"/>
<use href="#g22" x="1045.2" y="301.4"/>
<use href="#r24" x="994.0" y="207.8"/>
<use href="#k22" x="1024.3" y="187.6"/>
<use href="#b22" x="1021.2" y="281.6"/>
<use href="#g26" x="1063.6" y="165.0"/>
<use href="#g26" x="1087.4" y="208.1"/>
<use href="#k26" x="939.8" y="214.3"/>
<use href="#g24" x="1010.6" y="335.3"/>
<use href="#g24" x="1012.0" y="263.1"/>
<use href="#r24" x="1000.4" y="258.0"/>
<use href="#r26" x="1044.9" y="313.2"/>
<use href="#r26" x="1081.4" y="247.7"/>
<use href="#b22" x="1011.2" y="327.7"/>
<use href="#r22" x="993.4" y="260.0"/>
<use href="#g26" x="1101.5" y="242.9"/>
<use href="#r22" x="1040.9" y="202.6"/>
<use href="#r26" x="1043.7" y="217.2"/>
<use href="#r26" x="966.5" y="211.0"/>
<use href="#r22" x="988.6" y="253.2"/>
<use href="#r26" x="1081.4" y="239.4"/>
<use href="#g22" x="1093.6" y="172.3"/>
<use href="#r22" x="999.6" y="214.7"/>
<use href="#k24" x="1075.9" y="238.0"/>
<use href="#b24" x="967.6" y="265.3"/>
<use href="#r22" x="1020.5" y="232.4"/>
<use href="#g26" x="1024.5" y="258.7"/>
<use href="#r24" x="1013.2" y="328.5"/>
<use href="#g26" x="1083.9" y="237.1"/>
<use href="#g22" x="1034.8" y="229.4"/>
<use href="#g24" x="1035.3" y="232.5"/>
<use href="#r24" x="1058.3" y="182.3"/>
<use href="#g22" x="1032.9" y="251.2"/>
<use href="#g24" x="1037.7" y="255.1"/>
<use href="#r26" x="1018.3" y="188.6"/>
<use href="#r24" x="1037.9" y="287.2"/>
<use href="#b22" x="959.0" y="302.9"/>
<use href="#b24" x="986.9" y="308.0"/>
<use href="#b22" x="1001.7" y="276.8"/>
<use href="#g22" x="1067.8" y="227.1"/>
<use href="#b22" x="957.2" y="288.2"/>
<use href="#k22" x="1029.9" y="296.6"/>
<use href="#g26" x="1067.2" y="257.8"/>
<use href="#g26" x="1012.0" y="201.6"/>
<use href="#r24" x="1004.7" y="240.7"/>
<use href="#k22" x="1014.5" y="218.7"/>
<use href="#r22" x="1029.6" y="304.8"/>
<use href="#b26" x="938.4" y="304.4"/>
<use href="#g26" x="1036.4" y="243.9"/>
<use href="#k24" x="1075.6" y="258.3"/>
<use href="#r26" x="1061.7" y="259.0"/>
<use href="#r26" x="1004.6" y="282.1"/>
<use href="#r24" x="1046.1" y="284.1"/>
<use href="#r22" x="996.3" y="235.6"/>
<use href="#r22" x="1048.1" y="243.1"/>
<use href="#g24" x="1008.2" y="255.4"/>
<use href="#k26" x="979.1" y="223.8"/>
<use href="#g24" x="1089.0" y="256.7"/>
<use href="#g26" x="1055.9" y="286.8"/>
<use href="#b22" x="947.1" y="346.2"/>
<use href="#r26" x="1035.5" y="279.0"/>
<use href="#r22" x="938.1" y="250.5"/>
<use href="#g26" x="1056.2" y="241.4"/>
<use href="#k22" x="1073.5" y="228.8"/>
<use href="#r26" x="1017.1" y="240.8"/>
<use href="#r24" x="1096.2" y="262.2"/>
<use href="#k24" x="1011.7" y="231.4"/>
<use href="#r26" x="991.5" y="177.8"/>
<use href="#b24" x="1027.6" y="281.2"/>
<use href="#r26" x="964.1" y="276.2"/>
<use href="#r26" x="1039.3" y="315.2"/>
<use href="#r24" x="985.2" y="263.2"/>
<use href="#r22" x="1007.7" y="267.7"/>
<use href="#k24" x="1036.7" y="231.3"/>
<use href="#r24" x="1027.4" y="160.8"/>
<use href="#r26" x="1015.0" y="281.8"/>
<use href="#r24" x="985.7" y="278.0"/>
<use href="#r26" x="979.6" y="288.9"/>
<use href="#r22" x="981.7" y="288.2"/>
<use href="#r22" x="1056.7" y="258.0"/>
<use href="#k22" x="1024.9" y="236.7"/>
<use href="#r22" x="1014.1" y="193.0"/>
<use href="#g24" x="1034.2" y="168.8"/>
<use href="#k22" x="1098.6" y="276.3"/>
<use href="#r22" x="1021.7" y="205.1"/>
<use href="#k22" x="977.7" y="170.1"/>
<use href="#g26" x="1079.6" y="319.1"/>
<use href="#g22" x="1038.5" y="236.1"/>
<use href="#g24" x="988.0" y="242.4"/>
<use href="#g24" x="1073.8" y="297.2"/>
<use href="#g26" x="1073.1" y="277.4"/>
<use href="#r26" x="979.8" y="216.6"/>
<use href="#r24" x="1011.9" y="218.7"/>
<use href="#r24" x="991.1" y="162.4"/>
<use href="#r26" x="981.1" y="243.0"/>
<use href="#b22" x="974.5" y="335.3"/>
<use href="#r22" x="970.4" y="307.9"/>
<use href="#g26" x="1015.4" y="181.1"/>
<use href="#g22" x="1116.1" y="205.8"/>
<use href="#k24" x="1018.1" y="175.8"/>
<use href="#g24" x="1012.1" y="265.0"/>
<use href="#k22" x="1036.1" y="224.8"/>
<use href="#r24" x="1009.0" y="250.4"/>
<use href="#b24" x="945.9" y="328.1"/>
<use href="#b22" x="1019.3" y="252.4"/>
<use href="#b24" x="1022.3" y="291.9"/>
<use href="#b24" x="948.4" y="328.0"/>
<use href="#r26" x="1030.8" y="195.3"/>
<use href="#r26" x="1093.1" y="262.2"/>
<use href="#r26" x="1086.0" y="214.7"/>
<use href="#r24" x="1008.1" y="234.0"/>
<use href="#r22" x="993.3" y="288.2"/>
<use href="#g26" x="1018.8" y="295.6"/>
<use href="#r22" x="998.9" y="299.4"/>
<use href="#r26" x="1057.9" y="224.7"/>
<use href="#k24" x="1002.8" y="157.7"/>
<use href="#b26" x="973.0" y="336.0"/>
<use href="#b26" x="1033.0" y="289.1"/>
<use href="#k24" x="1020.1" y="187.6"/>
<use href="#r22" x="953.8" y="271.6"/>
<use href="#g22" x="1020.3" y="302.7"/>
<use href="#k26" x="1065.0" y="232.9"/>
<use href="#r26" x="1008.9" y="212.3"/>
<use href="#g22" x="1063.6" y="290.3"/>
<use href="#r22" x="1027.7" y="297.4"/>
<use href="#r24" x="1033.0" y="235.7"/>
<use href="#b24" x="1037.6" y="301.0"/>
<use href="#g24" x="1055.1" y="285.5"/>
<use href="#g22" x="1072.0" y="296.4"/>
<use href="#g26" x="1036.1" y="192.7"/>
<use href="#r24" x="1054.6" y="277.1"/>
<use href="#r24" x="974.5" y="213.2"/>
<use href="#k22" x="1067.2" y="230.7"/>
<use href="#g26" x="1077.9" y="244.9"/>
<use href="#r22" x="988.3" y="322.2"/>
<use href="#g24" x="1014.6" y="301.6"/>
<use href="#g26" x="1027.3" y="207.8"/>
<use href="#r26" x="1064.3" y="236.7"/>
<use href="#g24" x="1057.6" y="232.8"/>
<use href="#r22" x="1062.8" y="222.3"/>
<use href="#k26" x="973.6" y="284.7"/>
<use href="#g22" x="1081.2" y="241.3"/>
<use href="#g26" x="1073.9" y="232.8"/>
<use href="#r22" x="1032.2" y="195.1"/>
<use href="#g26" x="1060.8" y="266.7"/>
<use href="#g24" x="1044.5" y="301.6"/>
<use href="#g26" x="1061.7" y="272.5"/>
<use href="#r26" x="1060.4" y="221.2"/>
<use href="#g22" x="1006.8" y="305.5"/>
<use href="#g22" x="1075.3" y="277.9"/>
<use href="#r22" x="1036.7" y="284.9"/>
<use href="#g24" x="1029.7" y="313.2"/>
<use href="#k24" x="1066.6" y="220.4"/>
<use href="#g26" x="1018.4" y="301.4"/>
<use href="#r24" x="1060.3" y="313.0"/>
<use href="#b26" x="1003.7" y="289.7"/>
<use href="#b26" x="948.2" y="293.8"/>
<use href="#g24" x="1039.9" y="337.4"/>
<use href="#r22" x="1043.6" y="292.0"/>
<use href="#k24" x="971.2" y="277.6"/>
<use href="#r26" x="964.9" y="262.8"/>
<use href="#k22" x="1013.3" y="253.9"/>
<use href="#k22" x="963.5" y="242.2"/>
<use href="#b26" x="1047.3" y="316.2"/>
<use href="#r26" x="974.9" y="254.2"/>
<use href="#r22" x="965.5" y="230.2"/>
<use href="#r26" x="1039.8" y="251.2"/>
<use href="#r22" x="1000.1" y="289.4"/>
<use href="#r22" x="971.4" y="253.9"/>
<use href="#r24" x="972.1" y="285.4"/>
<use href="#r22" x="1062.3" y="320.2"/>
<use href="#r26" x="1051.3" y="164.6"/>
<use href="#r26" x="1026.4" y="235.8"/>
<use href="#g24" x="1084.1" y="242.6"/>
<use href="#k24" x="971.9" y="216.4"/>
<use href="#r22" x="949.3" y="223.2"/>
<use href="#g26" x="1014.4" y="299.4"/>
<use href="#b24" x="986.0" y="304.0"/>
<use href="#k26" x="1011.5" y="250.3"/>
<use href="#r22" x="971.4" y="368.7"/>
<use href="#k24" x="1087.2" y="289.8"/>
<use href="#r24" x="1064.4" y="233.8"/>
<use href="#g24" x="1103.3" y="234.6"/>
<use href="#r22" x="1002.8" y="297.5"/>
<use href="#b22" x="1008.1" y="270.7"/>
<use href="#k22" x="975.8" y="274.7"/>
<use href="#b22" x="1051.5" y="337.9"/>
<use href="#r24" x="1034.0" y="210.6"/>
<use href="#r24" x="935.9" y="256.4"/>
<use href="#g22" x="1071.3" y="343.6"/>
<use href="#b22" x="977.1" y="267.8"/>
<use href="#r26" x="936.4" y="234.3"/>
<use href="#r24" x="974.6" y="282.2"/>
<use href="#r24" x="1026.3" y="309.8"/>
<use href="#b24" x="963.6" y="279.6"/>
<use href="#r22" x="934.2" y="237.9"/>
<use href="#g26" x="1071.8" y="255.0"/>
<use href="#b26" x="956.2" y="265.8"/>
<use href="#k22" x="992.1" y="311.5"/>
<use href="#r26" x="1030.3" y="234.8"/>
<use href="#g26" x="1080.9" y="289.1"/>
<use href="#r26" x="963.7" y="258.9"/>
<use href="#k24" x="985.9" y="287.5"/>
<use href="#b24" x="1013.0" y="343.0"/>
<use href="#g24" x="1038.4" y="285.6"/>
<use href="#r24" x="975.2" y="249.0"/>
<use href="#g26" x="1083.0" y="242.1"/>
<use href="#k26" x="1009.3" y="182.6"/>
<use href="#g22" x="1033.4" y="172.2"/>
<use href="#r22" x="1040.2" y="218.9"/>
<use href="#r24" x="927.3" y="228.4"/>
<use href="#r24" x="1076.8" y="252.7"/>
<use href="#b24" x="978.6" y="306.1"/>
<use href="#r22" x="983.5" y="270.9"/>
<use href="#k22" x="1001.1" y="175.0"/>
<use href="#b24" x="1010.5" y="283.1"/>
<use href="#r24" x="1052.5" y="165.6"/>
<use href="#r26" x="987.3" y="259.4"/>
<use href="#g22" x="1050.6" y="186.9"/>
<use href="#r22" x="1048.2" y="262.9"/>
<use href="#b22" x="1007.5" y="281.2"/>
<use href="#g24" x="1057.3" y="279.2"/>
<use href="#r22" x="962.3" y="329.4"/>
<use href="#r22" x="1024.4" y="241.6"/>
<use href="#r22" x="1045.3" y="283.4"/>
<use href="#k22" x="982.3" y="322.0"/>
<use href="#b26" x="984.2" y="319.2"/>
<use href="#r24" x="1002.2" y="177.7"/>
<use href="#g26" x="1020.5" y="247.7"/>
<use href="#k22" x="1017.4" y="282.1"/>
<use href="#g22" x="1012.1" y="276.3"/>
<use href="#r24" x="1024.1" y="330.5"/>
<use href="#g26" x="1035.0" y="294.7"/>
<use href="#g22" x="1014.3" y="281.2"/>
<use href="#r24" x="979.2" y="209.6"/>
<use href="#b26" x="983.9" y="316.5"/>
<use href="#g24" x="1073.2" y="277.5"/>
<use href="#r22" x="940.9" y="238.9"/>
<use href="#g24" x="1004.6" y="265.5"/>
<use href="#g24" x="1056.3" y="224.5"/>
<use href="#r26" x="986.9" y="178.3"/>
<use href="#g22" x="988.5" y="264.9"/>
<use href="#b22" x="988.6" y="252.5"/>
<use href="#k22" x="988.6" y="164.1"/>
<use href="#g22" x="1001.0" y="291.0"/>
<use href="#k24" x="1019.8" y="223.1"/>
<use href="#r24" x="1009.4" y="283.3"/>
<use href="#r22" x="976.5" y="169.9"/>
<use href="#r24" x="979.4" y="241.7"/>
<use href="#b24" x="1005.3" y="320.7"/>
<use href="#r26" x="1062.3" y="234.6"/>
<use href="#r24" x="959.7" y="192.2"/>
<use href="#r24" x="1028.1" y="202.8"/>
<use href="#k22" x="998.4" y="287.2"/>
<use href="#r26" x="954.2" y="227.2"/>
<use href="#r26" x="1026.0" y="326.4"/>
<use href="#r24" x="981.9" y="286.6"/>
<use href="#g22" x="1044.9" y="297.6"/>
<use href="#g22" x="1070.5" y="221.3"/>
<use href="#k26" x="1009.2" y="199.2"/>
<use href="#g22" x="1076.7" y="178.2"/>
<use href="#b26" x="1042.2" y="346.4"/>
<use href="#r22" x="935.6" y="293.0"/>
<use href="#r24" x="1061.0" y="261.5"/>
<use href="#g24" x="1063.3" y="298.1"/>
<use href="#k22" x="1047.0" y="228.0"/>
<use href="#b26" x="1042.3" y="339.8"/>
<use href="#g24" x="1038.6" y="261.4"/>
<use href="#r26" x="1009.0" y="221.8"/>
<use href="#r22" x="1008.4" y="270.7"/>
<use href="#r22" x="1066.7" y="231.4"/>
<use href="#g22" x="1031.1" y="232.5"/>
<use href="#b22" x="968.2" y="334.6"/>
<use href="#r26" x="1057.8" y="282.4"/>
<use href="#r22" x="1034.7" y="321.7"/>
<use href="#r22" x="999.5" y="328.3"/>
<use href="#r24" x="1013.8" y="302.0"/>
<use href="#k26" x="993.5" y="308.7"/>
<use href="#r26" x="982.7" y="241.0"/>
<use href="#r24" x="995.7" y="235.8"/>
<use href="#k22" x="1042.7" y="174.9"/>
<use href="#r24" x="1003.3" y="227.7"/>
<use href="#k26" x="953.1" y="291.8"/>
<use href="#g26" x="1001.3" y="279.6"/>
<use href="#r22" x="986.9" y="251.0"/>
<use href="#b24" x="1041.6" y="337.9"/>
<use href="#k26" x="1030.3" y="308.9"/>
<use href="#b22" x="1022.9" y="288.4"/>
<use href="#g24" x="1095.2" y="210.8"/>
<use href="#r24" x="1069.8" y="197.5"/>
<use href="#b22" x="985.6" y="251.9"/>
<use href="#r24" x="977.3" y="275.9"/>
<use href="#g24" x="1069.4" y="271.6"/>
<use href="#g26" x="1047.5" y="268.8"/>
<use href="#b22" x="942.7" y="278.0"/>
<use href="#g26" x="1039.4" y="154.5"/>
<use href="#r26" x="1062.5" y="318.4"/>
<use href="#r22" x="1086.8" y="215.3"/>
<use href="#g26" x="1063.9" y="234.7"/>
<use href="#r24" x="1015.9" y="252.4"/>
<use href="#g22" x="1061.5" y="249.0"/>
<use href="#g22" x="1029.4" y="212.3"/>
<use href="#b22" x="1060.9" y="294.4"/>
<use href="#r24" x="1033.7" y="259.1"/>
<use href="#r26" x="988.4" y="158.9"/>
<use href="#b22" x="983.0" y="334.8"/>
<use href="#r26" x="1031.1" y="230.2"/>
<use href="#g24" x="1080.2" y="168.1"/>
<use href="#b22" x="982.1" y="335.9"/>
<use href="#r24" x="1006.7" y="297.6"/>
<use href="#b26" x="1007.4" y="311.0"/>
<use href="#b26" x="1033.9" y="336.2"/>
<use href="#r24" x="1040.4" y="280.6"/>
<use href="#r22" x="988.6" y="170.9"/>
<use href="#k22" x="1030.3" y="250.5"/>
<use href="#r26" x="1009.8" y="278.3"/>
<use href="#g24" x="1026.5" y="245.7"/>
<use href="#b26" x="984.0" y="283.6"/>
<use href="#r22" x="1050.2" y="280.2"/>
<use href="#r24" x="951.3" y="248.9"/>
<use href="#g22" x="1028.0" y="192.7"/>
<use href="#r22" x="969.9" y="206.1"/>
<use href="#r26" x="985.5" y="209.9"/>
<use href="#r22" x="1036.4" y="236.9"/>
<use href="#r22" x="1069.5" y="179.5"/>
<use href="#k22" x="1011.3" y="309.2"/>
<use href="#k22" x="1007.8" y="237.5"/>
<use href="#r26" x="933.7" y="253.2"/>
<use href="#g26" x="1053.4" y="203.9"/>
<use href="#r26" x="1083.0" y="256.8"/>
<use href="#b26" x="1018.3" y="288.8"/>
<use href="#g26" x="1017.6" y="286.2"/>
<use href="#b22" x="944.6" y="284.2"/>
<use href="#k26" x="1005.3" y="172.5"/>
<use href="#r26" x="988.5" y="156.8"/>
<use href="#r22" x="1046.8" y="297.9"/>
<use href="#r24" x="1029.5" y="330.3"/>
<use href="#r24" x="1027.5" y="268.3"/>
<use href="#b22" x="992.8" y="345.9"/>
<use href="#b22" x="1061.1" y="323.6"/>
<use href="#k24" x="1047.1" y="305.4"/>
<use href="#r22" x="1091.8" y="224.8"/>
<use href="#r22" x="1074.8" y="366.7"/>
<use href="#g26" x="1059.1" y="222.2"/>
<use href="#g24" x="1035.6" y="239.3"/>
<use href="#b22" x="1001.2" y="263.3"/>
<use href="#g22" x="1121.7" y="238.4"/>
<use href="#g26" x="1063.9" y="273.2"/>
<use href="#g24" x="989.9" y="237.5"/>
<use href="#k26" x="1021.7" y="239.1"/>
<use href="#k24" x="997.8" y="160.2"/>
<use href="#r22" x="1033.2" y="190.4"/>
<use href="#r26" x="1047.4" y="328.6"/>
<use href="#r22" x="954.9" y="253.1"/>
<use href="#r22" x="1023.3" y="293.4"/>
<use href="#k24" x="1053.4" y="165.2"/>
<use href="#g26" x="1021.7" y="217.8"/>
<use href="#b26" x="962.1" y="301.3"/>
<use href="#r24" x="1017.1" y="248.0"/>
<use href="#g22" x="1051.7" y="167.6"/>
<use href="#r26" x="975.6" y="319.7"/>
<use href="#r22" x="1039.4" y="223.4"/>
<use href="#g26" x="1023.4" y="265.6"/>
<use href="#g22" x="1016.0" y="321.6"/>
<use href="#r26" x="986.9" y="262.9"/>
<use href="#r26" x="1004.9" y="295.9"/>
<use href="#g24" x="1038.8" y="322.0"/>
<use href="#r22" x="989.3" y="298.3"/>
<use href="#r24" x="972.0" y="224.9"/>
<use href="#k22" x="957.1" y="225.0"/>
<use href="#k22" x="943.5" y="293.1"/>
<use href="#r26" x="1051.0" y="256.8"/>
<use href="#g22" x="1038.2" y="277.7"/>
<use href="#r24" x="1043.6" y="267.9"/>
<use href="#g26" x="1035.1" y="237.4"/>
<use href="#r22" x="962.1" y="189.8"/>
<use href="#r26" x="977.5" y="236.1"/>
<use href="#k22" x="1008.8" y="259.1"/>
<use href="#g22" x="1042.1" y="336.7"/>
<use href="#g24" x="1093.8" y="268.9"/>
<use href="#r24" x="1028.6" y="278.9"/>
<use href="#r26" x="1088.6" y="279.2"/>
<use href="#k26" x="1016.7" y="274.2"/>
<use href="#r26" x="1060.3" y="235.7"/>
<use href="#k26" x="960.7" y="259.6"/>
<use href="#r22" x="1022.8" y="208.4"/>
<use href="#r22" x="1024.9" y="237.0"/>
<use href="#g26" x="1062.9" y="250.1"/>
<use href="#r22" x="1024.8" y="239.2"/>
<use href="#g26" x="982.2" y="253.5"/>
<use href="#r22" x="920.0" y="339.7"/>
<use href="#g26" x="1029.5" y="336.0"/>
<use href="#r26" x="1088.7" y="271.1"/>
<use href="#g22" x="1084.8" y="224.7"/>
<use href="#g24" x="1039.7" y="234.6"/>
<use href="#b26" x="1018.5" y="364.2"/>
<use href="#r26" x="992.7" y="232.7"/>
<use href="#g22" x="1072.1" y="292.3"/>
<use href="#r26" x="983.1" y="305.3"/>
<use href="#r26" x="964.1" y="207.7"/>
<use href="#r24" x="973.3" y="280.8"/>
<use href="#b24" x="1005.2" y="339.3"/>
<use href="#r24" x="1022.0" y="301.7"/>
<use href="#r24" x="1021.5" y="231.8"/>
<use href="#k22" x="1071.9" y="292.0"/>
<use href="#r24" x="964.2" y="171.1"/>
<use href="#r22" x="1032.9" y="200.4"/>
<use href="#r22" x="935.1" y="323.9"/>
<use href="#r22" x="1061.1" y="189.3"/>
<use href="#r26" x="973.9" y="199.2"/>
<use href="#r22" x="1005.8" y="249.3"/>
<use href="#r26" x="1046.3" y="307.5"/>
<use href="#r22" x="1012.1" y="236.1"/>
<use href="#r22" x="1017.9" y="320.3"/>
<use href="#r24" x="933.6" y="263.3"/>
<use href="#g22" x="1036.1" y="297.2"/>
<use href="#g24" x="1054.8" y="272.3"/>
<use href="#r22" x="996.5" y="256.4"/>
<use href="#k24" x="1027.5" y="288.5"/>
<use href="#k26" x="1015.9" y="317.0"/>
<use href="#k26" x="1043.9" y="201.0"/>
<use href="#g22" x="1034.9" y="297.1"/>
<use href="#g26" x="1093.3" y="261.3"/>
<use href="#g26" x="1039.0" y="275.5"/>
<use href="#k22" x="1008.2" y="201.4"/>
<use href="#k22" x="994.6" y="252.2"/>
<use href="#g26" x="992.5" y="266.7"/>
<use href="#g24" x="1018.8" y="210.6"/>
<use href="#g26" x="1041.9" y="244.5"/>
<use href="#r26" x="989.0" y="277.3"/>
<use href="#r24" x="1013.4" y="254.5"/>
<use href="#r22" x="1009.7" y="176.5"/>
<use href="#g22" x="1035.3" y="280.5"/>
<use href="#b22" x="984.5" y="276.1"/>
<use href="#g24" x="1104.9" y="280.3"/>
<use href="#k22" x="1049.7" y="262.8"/>
<use href="#r26" x="1006.0" y="227.8"/>
<use href="#k24" x="980.1" y="252.7"/>
<use href="#g26" x="1067.7" y="328.9"/>
<use href="#r24" x="1022.6" y="312.8"/>
<use href="#g22" x="1027.9" y="337.2"/>
<use href="#r22" x="1043.0" y="200.9"/>
<use href="#r26" x="1042.5" y="270.9"/>
<use href="#g22" x="1032.5" y="166.1"/>
<use href="#g24" x="1075.5" y="212.0"/>
<use href="#g26" x="1015.5" y="253.7"/>
<use href="#r22" x="1025.5" y="173.9"/>
<use href="#k26" x="1026.3" y="219.8"/>
<use href="#r26" x="988.9" y="185.4"/>
<use href="#b26" x="1059.4" y="279.1"/>
<use href="#r24" x="1039.3" y="245.2"/>
<use href="#b26" x="1015.2" y="250.5"/>
<use href="#k26" x="1052.5" y="210.7"/>
<use href="#g26" x="1058.2" y="262.7"/>
<use href="#k24" x="1030.2" y="163.4"/>
<use href="#g22" x="1049.7" y="260.9"/>
<use href="#g26" x="1045.0" y="283.4"/>
<use href="#r24" x="1050.6" y="214.4"/>
<use href="#r24" x="1040.1" y="314.7"/>
<use href="#b24" x="1028.0" y="309.5"/>
<use href="#g24" x="1029.7" y="224.4"/>
<use href="#b26" x="951.2" y="302.8"/>
<use href="#g26" x="1059.8" y="281.9"/>
<use href="#r26" x="981.9" y="237.0"/>
<use href="#r26" x="950.7" y="306.1"/>
<use href="#b26" x="951.6" y="265.3"/>
<use href="#g22" x="1006.0" y="180.8"/>
<use href="#k24" x="1057.6" y="320.3"/>
<use href="#g26" x="1038.2" y="323.0"/>
<use href="#r26" x="1022.8" y="159.3"/>
<use href="#r26" x="961.9" y="254.2"/>
<use href="#k26" x="1025.8" y="215.8"/>
<use href="#r24" x="1048.2" y="195.5"/>
<use href="#k24" x="1012.4" y="230.6"/>
<use href="#r24" x="1007.5" y="259.9"/>
<use href="#k24" x="1023.9" y="226.2"/>
<use href="#r24" x="980.1" y="237.3"/>
<use href="#k26" x="1072.0" y="227.5"/>
<use href="#r22" x="1046.9" y="306.7"/>
<use href="#r24" x="1003.1" y="189.9"/>
<use href="#r24" x="980.1" y="284.6"/>
<use href="#k26" x="955.9" y="254.9"/>
<use href="#k24" x="1025.8" y="168.0"/>
<use href="#b26" x="948.5" y="299.2"/>
<use href="#g22" x="1069.7" y="318.9"/>
<use href="#r22" x="968.5" y="311.3"/>
<use href="#g26" x="1029.3" y="260.7"/>
<use href="#r24" x="935.4" y="275.0"/>
<use href="#k24" x="1026.3" y="171.2"/>
<use href="#r26" x="1026.0" y="286.7"/>
<use href="#g26" x="1037.3" y="230.2"/>
<use href="#k26" x="1013.4" y="238.9"/>
<use href="#b22" x="1024.4" y="312.1"/>
<use href="#b26" x="1030.8" y="289.8"/>
<use href="#g24" x="1010.4" y="330.3"/>
<use href="#g26" x="1032.8" y="282.6"/>
<use href="#g26" x="1003.6" y="254.1"/>
<use href="#b26" x="1016.8" y="335.2"/>
<use href="#r26" x="1044.4" y="335.8"/>
<use href="#b24" x="1022.2" y="298.0"/>
<use href="#r24" x="976.6" y="245.3"/>
<use href="#k24" x="1070.0" y="193.4"/>
<use href="#r26" x="1002.7" y="294.3"/>
<use href="#k22" x="1013.6" y="168.1"/>
<use href="#b22" x="1008.4" y="312.1"/>
<use href="#r22" x="1012.4" y="257.9"/>
<use href="#b24" x="986.6" y="325.5"/>
<use href="#r24" x="985.1" y="291.7"/>
<use href="#g22" x="1061.0" y="269.3"/>
<use href="#r26" x="958.3" y="248.9"/>
<use href="#r24" x="970.7" y="294.1"/>
<use href="#b24" x="988.6" y="329.0"/>
<use href="#r24" x="961.2" y="221.9"/>
<use href="#g22" x="1103.5" y="247.2"/>
<use href="#g26" x="1113.4" y="286.1"/>
<use href="#r26" x="1065.9" y="243.5"/>
<use href="#k24" x="1079.9" y="199.1"/>
<use href="#r22" x="985.6" y="300.9"/>
<use href="#g24" x="1121.7" y="269.2"/>
<use href="#r24" x="1035.5" y="286.7"/>
<use href="#g26" x="1071.5" y="270.9"/>
<use href="#k26" x="985.4" y="175.9"/>
<use href="#r24" x="950.3" y="289.8"/>
<use href="#b22" x="981.9" y="309.3"/>
<use href="#g26" x="1007.8" y="311.5"/>
<use href="#k24" x="1030.9" y="286.8"/>
<use href="#r26" x="1029.1" y="275.8"/>
<use href="#g26" x="1082.6" y="273.7"/>
<use href="#g24" x="1034.3" y="275.6"/>
<use href="#b26" x="984.0" y="286.6"/>
<use href="#r22" x="990.0" y="280.1"/>
<use href="#g22" x="1019.7" y="319.3"/>
<use href="#g22" x="1055.4" y="270.3"/>
<use href="#b24" x="1014.3" y="281.4"/>
<use href="#r26" x="999.4" y="194.0"/>
<use href="#k24" x="1030.2" y="333.4"/>
<use href="#r26" x="1013.7" y="237.4"/>
<use href="#g24" x="1103.5" y="231.9"/>
<use href="#g26" x="994.4" y="259.6"/>
<use href="#r26" x="1015.7" y="217.2"/>
<use href="#b24" x="969.1" y="269.1"/>
<use href="#r24" x="1021.1" y="223.3"/>
<use href="#g26" x="1083.3" y="230.9"/>
<use href="#r26" x="1005.8" y="237.9"/>
<use href="#r26" x="1068.5" y="272.2"/>
<use href="#g26" x="1047.4" y="228.6"/>
<use href="#r22" x="1018.2" y="250.0"/>
<use href="#r24" x="1044.3" y="213.4"/>
<use href="#g26" x="1026.0" y="277.2"/>
<use href="#g26" x="977.9" y="231.4"/>
<use href="#k26" x="998.0" y="238.0"/>
<use href="#r26" x="1064.6" y="185.0"/>
<use href="#r26" x="1031.2" y="265.6"/>
<use href="#b24" x="1044.6" y="274.3"/>
<use href="#g22" x="1076.7" y="215.9"/>
<use href="#g26" x="1029.5" y="230.0"/>
<use href="#r22" x="939.4" y="224.0"/>
<use href="#g22" x="995.5" y="287.2"/>
<use href="#r22" x="952.0" y="239.1"/>
<use href="#r26" x="1004.2" y="175.2"/>
<use href="#k24" x="1000.9" y="203.0"/>
<use href="#r26" x="1007.5" y="169.2"/>
<use href="#r22" x="1013.5" y="201.3"/>
<use href="#r24" x="1076.6" y="192.8"/>
<use href="#g24" x="1052.1" y="161.5"/>
<use href="#g24" x="1040.9" y="258.8"/>
<use href="#g26" x="1034.0" y="172.6"/>
<use href="#r26" x="1009.1" y="208.1"/>
<use href="#r22" x="928.8" y="233.2"/>
<use href="#g24" x="1063.3" y="330.6"/>
<use href="#g26" x="1053.2" y="266.9"/>
<use href="#k26" x="1032.8" y="219.8"/>
<use href="#g24" x="1026.6" y="249.3"/>
<use href="#r26" x="1005.9" y="303.0"/>
<use href="#k26" x="1105.4" y="231.5"/>
<use href="#r24" x="1052.4" y="292.1"/>
<use href="#r26" x="991.4" y="177.4"/>
<use href="#k24" x="1007.2" y="243.9"/>
<use href="#g24" x="999.0" y="259.3"/>
<use href="#g24" x="1052.9" y="255.0"/>
<use href="#r24" x="1008.5" y="244.3"/>
<use href="#k26" x="1001.5" y="229.6"/>
<use href="#k26" x="963.3" y="210.6"/>
<use href="#r26" x="998.2" y="235.5"/>
<use href="#g26" x="1004.2" y="232.2"/>
<use href="#g22" x="1028.4" y="260.3"/>
<use href="#r26" x="1026.9" y="210.6"/>
<use href="#g26" x="1120.1" y="293.5"/>
<use href="#r22" x="991.7" y="197.0"/>
<use href="#r26" x="979.8" y="258.9"/>
<use href="#g22" x="1072.1" y="203.3"/>
<use href="#r24" x="1032.7" y="291.2"/>
<use href="#g26" x="1101.4" y="181.0"/>
<use href="#g26" x="1050.7" y="275.7"/>
<use href="#g26" x="1049.6" y="278.6"/>
<use href="#k26" x="1015.2" y="223.9"/>
<use href="#r24" x="960.8" y="254.9"/>
<use href="#r22" x="1007.0" y="208.1"/>
<use href="#k22" x="1017.6" y="262.1"/>
<use href="#g22" x="1061.8" y="249.1"/>
<use href="#r24" x="1022.2" y="306.0"/>
<use href="#g24" x="1048.9" y="335.8"/>
<use href="#g22" x="1097.9" y="279.2"/>
<use href="#r24" x="1046.6" y="261.7"/>
<use href="#r26" x="966.6" y="189.5"/>
<use href="#r26" x="1043.7" y="227.6"/>
<use href="#b24" x="1022.8" y="281.6"/>
<use href="#r22" x="1001.0" y="302.9"/>
<use href="#k26" x="1061.8" y="214.4"/>
<use href="#g24" x="1110.0" y="212.8"/>
<use href="#b24" x="942.0" y="297.2"/>
<use href="#r26" x="941.5" y="266.4"/>
<use href="#r22" x="973.3" y="332.4"/>
<use href="#g22" x="1058.5" y="306.5"/>
<use href="#b24" x="1052.6" y="302.8"/>
<use href="#b24" x="1010.6" y="277.6"/>
<use href="#b22" x="978.5" y="329.3"/>
<use href="#k22" x="1060.2" y="241.2"/>
<use href="#r22" x="968.7" y="280.1"/>
<use href="#r26" x="1029.2" y="187.3"/>
<use href="#g26" x="1053.3" y="252.0"/>
<use href="#r26" x="959.7" y="247.6"/>
<use href="#r22" x="1002.7" y="246.8"/>
<use href="#r22" x="1001.1" y="306.8"/>
<use href="#g26" x="1044.3" y="244.9"/>
<use href="#r22" x="945.2" y="265.0"/>
<use href="#k22" x="1069.7" y="199.0"/>
<use href="#k26" x="1017.4" y="258.8"/>
<use href="#g24" x="1062.5" y="283.8"/>
<use href="#r22" x="944.6" y="304.9"/>
<use href="#r22" x="1035.3" y="248.9"/>
<use href="#r24" x="942.2" y="296.5"/>
<use href="#g22" x="1035.7" y="268.3"/>
<use href="#g24" x="1016.8" y="320.3"/>
<use href="#r26" x="1040.3" y="231.4"/>
<use href="#r22" x="955.2" y="225.0"/>
<use href="#r26" x="1032.0" y="310.3"/>
<use href="#r22" x="1024.1" y="252.6"/>
<use href="#r24" x="990.5" y="260.8"/>
<use href="#k22" x="1010.0" y="217.7"/>
<use href="#r24" x="1043.3" y="262.2"/>
<use href="#r22" x="977.1" y="239.4"/>
<use href="#r24" x="954.6" y="307.9"/>
<use href="#b26" x="1002.0" y="280.1"/>
<use href="#r26" x="981.3" y="178.1"/>
<use href="#r26" x="987.1" y="268.2"/>
<use href="#r22" x="967.5" y="173.8"/>
<use href="#r22" x="1081.7" y="264.9"/>
<use href="#r24" x="1039.0" y="275.5"/>
<use href="#r22" x="944.1" y="272.0"/>
<use href="#g24" x="1087.7" y="249.1"/>
<use href="#r22" x="1018.4" y="327.9"/>
<use href="#g24" x="1083.9" y="320.5"/>
<use href="#b24" x="978.6" y="243.6"/>
<use href="#g22" x="1039.9" y="267.2"/>
<use href="#r24" x="1041.0" y="305.8"/>
<use href="#r22" x="969.5" y="278.1"/>
<use href="#g26" x="1105.0" y="254.5"/>
<use href="#b24" x="1002.7" y="284.5"/>
<use href="#r22" x="967.9" y="271.3"/>
<use href="#g24" x="1024.0" y="224.2"/>
<use href="#b26" x="997.9" y="288.2"/>
<use href="#r22" x="983.1" y="281.0"/>
<use href="#b22" x="983.6" y="309.5"/>
<use href="#g22" x="1084.8" y="319.5"/>
<use href="#r22" x="1000.2" y="164.5"/>
<use href="#g24" x="1072.5" y="262.4"/>
<use href="#g22" x="1033.4" y="192.4"/>
<use href="#g24" x="1093.4" y="192.5"/>
<use href="#r26" x="1002.1" y="242.1"/>
<use href="#r26" x="1045.6" y="262.2"/>
<use href="#r26" x="947.7" y="228.5"/>
<use href="#r22" x="1038.9" y="279.9"/>
<use href="#r24" x="1062.8" y="251.8"/>
<use href="#g26" x="1041.4" y="218.2"/>
<use href="#g22" x="1035.3" y="305.6"/>
<use href="#k24" x="1000.4" y="235.1"/>
<use href="#r24" x="964.1" y="240.6"/>
<use href="#g22" x="1012.2" y="326.8"/>
<use href="#r26" x="960.3" y="206.8"/>
<use href="#g24" x="1099.7" y="320.4"/>
<use href="#k22" x="978.8" y="165.2"/>
<use href="#r22" x="1068.5" y="305.3"/>
<use href="#g22" x="1023.6" y="209.5"/>
<use href="#r22" x="972.4" y="331.8"/>
<use href="#r22" x="1012.0" y="247.3"/>
<use href="#g22" x="1054.9" y="337.9"/>
<use href="#k24" x="1026.8" y="210.4"/>
<use href="#r22" x="1007.3" y="186.5"/>
<use href="#r26" x="996.7" y="288.9"/>
<use href="#g22" x="1030.7" y="244.3"/>
<use href="#b24" x="980.0" y="327.7"/>
<use href="#k26" x="996.1" y="222.6"/>
<use href="#r26" x="943.4" y="234.4"/>
<use href="#k22" x="1021.5" y="152.1"/>
<use href="#g22" x="1080.0" y="213.5"/>
<use href="#b24" x="1003.0" y="318.7"/>
<use href="#k24" x="1006.3" y="211.7"/>
<use href="#r26" x="951.2" y="281.0"/>
<use href="#r22" x="942.7" y="266.6"/>
<use href="#b24" x="987.5" y="271.1"/>
<use href="#g22" x="1028.6" y="206.8"/>
<use href="#k24" x="1025.5" y="221.0"/>
<use href="#k22" x="965.4" y="183.0"/>
<use href="#g26" x="1062.2" y="343.6"/>
<use href="#k26" x="996.3" y="225.6"/>
<use href="#b22" x="969.6" y="266.4"/>
<use href="#r22" x="1006.1" y="208.4"/>
<use href="#b26" x="1040.0" y="320.9"/>
<use href="#k24" x="973.0" y="205.7"/>
<use href="#r22" x="1021.8" y="241.5"/>
<use href="#k22" x="1016.2" y="249.9"/>
<use href="#r22" x="1009.1" y="318.9"/>
<use href="#r22" x="999.6" y="226.7"/>
<use href="#g24" x="1053.3" y="248.8"/>
<use href="#r26" x="973.2" y="199.2"/>
<use href="#g22" x="1037.0" y="262.7"/>
<use href="#b22" x="1026.8" y="299.8"/>
<use href="#r22" x="1000.6" y="247.5"/>
<use href="#r22" x="968.2" y="296.7"/>
<use href="#g22" x="1025.5" y="234.0"/>
<use href="#b24" x="971.9" y="304.1"/>
<use href="#r24" x="996.2" y="268.0"/>
<use href="#r26" x="1052.9" y="315.2"/>
<use href="#b22" x="1036.7" y="335.5"/>
<use href="#r22" x="1014.5" y="244.4"/>
<use href="#r22" x="1039.9" y="186.3"/>
<use href="#k22" x="1077.8" y="224.8"/>
<use href="#b22" x="1012.2" y="339.6"/>
<use href="#r26" x="1011.4" y="188.0"/>
<use href="#k26" x="959.8" y="265.7"/>
<use href="#r24" x="1080.4" y="232.9"/>
<use href="#r22" x="1005.3" y="217.3"/>
<use href="#b26" x="964.1" y="279.3"/>
<use href="#r24" x="992.7" y="317.1"/>
<use href="#k26" x="1009.4" y="255.4"/>
<use href="#r24" x="938.7" y="278.5"/>
<use href="#r24" x="948.2" y="243.5"/>
<use href="#k26" x="1050.9" y="250.2"/>
<use href="#r22" x="1032.7" y="237.2"/>
<use href="#r22" x="973.1" y="181.1"/>
<use href="#r24" x="1013.2" y="182.1"/>
<use href="#r22" x="1032.1" y="209.0"/>
<use href="#g26" x="1105.0" y="256.6"/>
<use href="#g22" x="997.8" y="257.1"/>
<use href="#r24" x="1085.1" y="253.2"/>
<use href="#r24" x="1024.1" y="198.2"/>
<use href="#g26" x="1039.8" y="193.9"/>
<use href="#k24" x="987.3" y="230.0"/>
<use href="#g26" x="1059.2" y="338.6"/>
<use href="#k24" x="1063.9" y="164.6"/>
<use href="#b24" x="1008.1" y="303.4"/>
<use href="#g26" x="1067.5" y="212.3"/>
<use href="#r26" x="941.8" y="239.2"/>
<use href="#r24" x="1014.9" y="238.0"/>
<use href="#r24" x="1086.3" y="268.5"/>
<use href="#b24" x="960.3" y="284.1"/>
<use href="#g24" x="1058.3" y="274.5"/>
<use href="#b22" x="1010.9" y="305.2"/>
<use href="#r24" x="1039.1" y="178.0"/>
<use href="#b24" x="974.0" y="313.3"/>
<use href="#k26" x="987.3" y="286.8"/>
<use href="#r26" x="1026.1" y="330.1"/>
<use href="#k26" x="1093.8" y="238.7"/>
<use href="#b24" x="998.5" y="288.9"/>
<use href="#r22" x="1025.6" y="272.8"/>
<use href="#k26" x="997.6" y="255.0"/>
<use href="#r24" x="968.3" y="223.5"/>
<use href="#r26" x="994.1" y="310.6"/>
<use href="#r26" x="948.1" y="257.8"/>
<use href="#g22" x="1057.7" y="278.9"/>
<use href="#r26" x="962.8" y="243.0"/>
<use href="#k24" x="1052.8" y="247.7"/>
<use href="#k24" x="1031.2" y="221.1"/>
<use href="#r26" x="967.0" y="229.8"/>
<use href="#r26" x="996.2" y="180.8"/>
<use href="#r26" x="1032.3" y="223.5"/>
<use href="#g22" x="1069.2" y="227.1"/>
<use href="#r24" x="979.6" y="259.5"/>
<use href="#g24" x="1079.1" y="246.2"/>
<use href="#r22" x="1034.2" y="229.8"/>
<use href="#r26" x="989.6" y="279.0"/>
<use href="#b24" x="950.4" y="305.7"/>
<use href="#r24" x="1042.0" y="184.1"/>
<use href="#k24" x="994.2" y="167.9"/>
<use href="#g22" x="1034.7" y="281.9"/>
<use href="#r24" x="1004.0" y="218.9"/>
<use href="#r26" x="982.2" y="239.3"/>
<use href="#r26" x="1018.3" y="268.5"/>
<use href="#g24" x="1024.2" y="284.8"/>
<use href="#b22" x="1010.0" y="275.8"/>
<use href="#r26" x="1022.7" y="181.6"/>
<use href="#r24" x="950.6" y="222.4"/>
<use href="#g24" x="1059.3" y="323.1"/>
<use href="#b22" x="991.3" y="304.2"/>
<use href="#r22" x="984.0" y="240.5"/>
<use href="#k24" x="1089.6" y="258.5"/>
<use href="#k22" x="1059.3" y="176.3"/>
<use href="#r26" x="1040.7" y="257.8"/>
<use href="#r24" x="1021.5" y="224.7"/>
<use href="#r22" x="1060.5" y="247.6"/>
<use href="#g26" x="1031.4" y="181.1"/>
<use href="#r22" x="997.7" y="281.5"/>
<use href="#g24" x="1094.7" y="329.2"/>
<use href="#g22" x="1089.4" y="257.1"/>
<use href="#g22" x="1011.1" y="250.2"/>
<use href="#r26" x="950.4" y="283.4"/>
<use href="#g24" x="1101.4" y="236.3"/>
<use href="#r22" x="978.6" y="294.7"/>
<use href="#r24" x="1005.6" y="260.0"/>
<use href="#r22" x="978.2" y="239.4"/>
<use href="#r24" x="1036.8" y="232.5"/>
<use href="#r26" x="1059.7" y="210.2"/>
<use href="#r26" x="980.2" y="203.6"/>
<use href="#r24" x="958.1" y="277.6"/>
<use href="#r22" x="957.2" y="249.0"/>
<use href="#r22" x="1054.1" y="263.5"/>
<use href="#b24" x="962.5" y="279.2"/>
<use href="#k22" x="1037.5" y="257.5"/>
<use href="#r26" x="1054.6" y="314.9"/>
<use href="#r22" x="940.5" y="261.2"/>
<use href="#r24" x="961.7" y="279.1"/>
<use href="#k22" x="938.9" y="266.5"/>
<use href="#r24" x="1041.4" y="291.6"/>
<use href="#g24" x="1100.4" y="269.1"/>
<use href="#r24" x="1031.0" y="252.0"/>
<use href="#k26" x="1038.8" y="249.3"/>
<use href="#r24" x="1030.3" y="165.0"/>
<use href="#r22" x="1000.9" y="283.4"/>
<use href="#g24" x="1074.3" y="243.6"/>
<use href="#r26" x="984.4" y="298.5"/>
<use href="#r24" x="983.3" y="258.3"/>
<use href="#g26" x="1003.0" y="201.8"/>
<use href="#r22" x="1055.0" y="265.8"/>
<use href="#r26" x="1053.0" y="215.3"/>
<use href="#g24" x="1104.4" y="290.2"/>
<use href="#g26" x="1071.6" y="259.6"/>
<use href="#r24" x="974.1" y="298.7"/>
<use href="#g26" x="1015.5" y="275.8"/>
<use href="#k22" x="1027.5" y="254.2"/>
<use href="#g22" x="1044.2" y="258.7"/>
<use href="#g26" x="996.1" y="214.0"/>
<use href="#r26" x="992.9" y="280.6"/>
<use href="#r22" x="1033.3" y="203.1"/>
<use href="#b22" x="1007.6" y="264.2"/>
<use href="#r24" x="1011.4" y="350.2"/>
<use href="#r24" x="1000.2" y="254.4"/>
<use href="#g26" x="1073.6" y="343.4"/>
<use href="#r22" x="1057.9" y="279.0"/>
<use href="#r26" x="1027.8" y="309.1"/>
<use href="#k22" x="1013.8" y="282.7"/>
<use href="#g24" x="1002.0" y="223.7"/>
<use href="#g26" x="1054.0" y="312.5"/>
<use href="#r26" x="963.0" y="204.6"/>
<use href="#r22" x="978.0" y="336.5"/>
<use href="#r22" x="996.4" y="287.5"/>
<use href="#r26" x="1024.4" y="258.0"/>
<use href="#r24" x="936.2" y="217.3"/>
<use href="#g24" x="1089.1" y="184.6"/>
<use href="#r26" x="1036.6" y="276.9"/>
<use href="#g24" x="1036.2" y="198.3"/>
<use href="#k26" x="990.1" y="286.5"/>
<use href="#b24" x="994.7" y="270.9"/>
<use href="#k26" x="973.7" y="234.7"/>
<use href="#r22" x="973.1" y="328.7"/>
<use href="#r24" x="1073.0" y="311.6"/>
<use href="#k26" x="986.4" y="274.9"/>
<use href="#g22" x="1077.8" y="202.0"/>
<use href="#r22" x="978.9" y="230.0"/>
<use href="#k26" x="980.2" y="191.7"/>
<use href="#r26" x="1092.6" y="252.0"/>
<use href="#g24" x="998.9" y="315.6"/>
<use href="#r22" x="1059.6" y="257.6"/>
<use href="#k24" x="1006.8" y="223.3"/>
<use href="#r24" x="1037.1" y="274.4"/>
<use href="#r24" x="1026.4" y="259.5"/>
<use href="#r26" x="1068.7" y="281.8"/>
<use href="#g22" x="1041.2" y="162.4"/>
<use href="#k24" x="1007.8" y="146.3"/>
<use href="#k22" x="974.8" y="229.5"/>
<use href="#k24" x="955.5" y="197.8"/>
<use href="#r26" x="987.1" y="238.0"/>
<use href="#g24" x="1000.1" y="243.8"/>
<use href="#k22" x="1050.4" y="270.8"/>
<use href="#b24" x="931.0" y="304.9"/>
<use href="#k26" x="940.6" y="270.6"/>
<use href="#r24" x="1022.9" y="297.0"/>
<use href="#b22" x="1014.2" y="300.4"/>
<use href="#r26" x="1016.3" y="301.3"/>
<use href="#g26" x="1025.8" y="241.5"/>
<use href="#b22" x="975.4" y="281.5"/>
<use href="#g24" x="1021.2" y="265.0"/>
<use href="#k24" x="1002.7" y="321.2"/>
<use href="#r26" x="1057.0" y="171.0"/>
<use href="#r22" x="980.3" y="301.9"/>
<use href="#r22" x="966.2" y="286.7"/>
<use href="#k26" x="992.1" y="232.0"/>
<use href="#r24" x="992.5" y="176.0"/>
<use href="#g22" x="1019.8" y="204.6"/>
<use href="#g24" x="1101.2" y="240.8"/>
<use href="#g24" x="1069.1" y="282.0"/>
<use href="#b22" x="1030.9" y="300.4"/>
<use href="#k22" x="962.1" y="311.2"/>
<use href="#g22" x="1091.6" y="174.4"/>
<use href="#g24" x="1041.3" y="246.8"/>
<use href="#g24" x="1060.8" y="359.9"/>
<use href="#r26" x="1065.5" y="233.9"/>
<use href="#g24" x="1083.5" y="289.8"/>
<use href="#r26" x="975.9" y="237.6"/>
<use href="#b22" x="1007.6" y="334.3"/>
<use href="#r24" x="938.9" y="269.7"/>
<use href="#r22" x="1013.8" y="263.2"/>
<use href="#g24" x="1071.7" y="256.0"/>
<use href="#r26" x="1009.2" y="236.8"/>
<use href="#g26" x="1018.7" y="239.0"/>
<use href="#r22" x="992.5" y="224.4"/>
<use href="#r26" x="988.9" y="212.2"/>
<use href="#r24" x="1054.3" y="262.8"/>
<use href="#g26" x="1068.5" y="295.8"/>
<use href="#k22" x="1073.6" y="218.9"/>
<use href="#r22" x="954.3" y="206.7"/>
<use href="#r24" x="963.5" y="280.8"/>
<use href="#k22" x="976.8" y="291.1"/>
<use href="#r26" x="1038.0" y="224.6"/>
<use href="#g24" x="997.6" y="210.8"/>
<use href="#k26" x="985.4" y="231.0"/>
<use href="#r26" x="1046.7" y="253.4"/>
<use href="#r24" x="985.3" y="187.5"/>
<use href="#r24" x="1068.5" y="178.1"/>
<use href="#k26" x="1016.9" y="213.6"/>
<use href="#r26" x="978.5" y="174.0"/>
<use href="#k24" x="968.9" y="310.5"/>
<use href="#g22" x="1031.7" y="208.0"/>
<use href="#k22" x="1014.2" y="301.0"/>
<use href="#r24" x="988.3" y="258.8"/>
<use href="#r26" x="1007.0" y="181.0"/>
<use href="#r22" x="901.6" y="253.2"/>
<use href="#b26" x="998.8" y="288.7"/>
<use href="#k26" x="986.1" y="197.3"/>
<use href="#g22" x="1074.1" y="218.4"/>
<use href="#g24" x="1055.7" y="256.2"/>
<use href="#g26" x="1000.6" y="259.4"/>
<use href="#k26" x="1000.6" y="171.5"/>
<use href="#g26" x="1006.6" y="261.3"/>
<use href="#k24" x="967.7" y="174.5"/>
<use href="#g24" x="1105.6" y="252.8"/>
<use href="#r22" x="980.2" y="210.9"/>
<use href="#k24" x="1090.4" y="237.4"/>
<use href="#g24" x="1059.3" y="292.8"/>
<use href="#r22" x="954.4" y="308.8"/>
<use href="#k26" x="1021.3" y="303.3"/>
<use href="#b26" x="1013.4" y="349.6"/>
<use href="#r24" x="1029.5" y="169.6"/>
<use href="#b22" x="973.6" y="328.0"/>
<use href="#g26" x="1069.2" y="203.6"/>
<use href="#r22" x="1020.5" y="223.0"/>
<use href="#g22" x="1050.1" y="248.7"/>
<use href="#g26" x="1075.6" y="329.0"/>
<use href="#r22" x="932.6" y="216.9"/>
<use href="#r22" x="1039.5" y="246.1"/>
<use href="#b26" x="1038.1" y="252.0"/>
<use href="#r26" x="976.5" y="280.0"/>
<use href="#r26" x="1021.6" y="201.7"/>
<use href="#r22" x="1032.2" y="291.7"/>
<use href="#b22" x="988.8" y="313.3"/>
<use href="#g24" x="1062.5" y="277.2"/>
<use href="#r24" x="974.1" y="368.0"/>
<use href="#r26" x="1054.5" y="239.7"/>
<use href="#g22" x="1038.9" y="309.4"/>
<use href="#r24" x="1037.5" y="202.7"/>
<use href="#r26" x="1070.7" y="256.3"/>
<use href="#r22" x="1045.0" y="193.6"/>
<use href="#g22" x="1019.4" y="292.2"/>
<use href="#g24" x="1068.5" y="347.9"/>
<use href="#r22" x="991.3" y="282.6"/>
<use href="#r26" x="929.9" y="275.6"/>
<use href="#g22" x="1074.7" y="248.8"/>
<use href="#k26" x="1030.1" y="303.1"/>
<use href="#b22" x="1047.2" y="294.4"/>
<use href="#b24" x="988.8" y="333.6"/>
<use href="#r24" x="1033.2" y="251.5"/>
<use href="#g24" x="1045.4" y="343.5"/>
<use href="#r26" x="1014.2" y="189.6"/>
<use href="#r24" x="989.4" y="357.2"/>
<use href="#g22" x="1076.5" y="244.1"/>
<use href="#b24" x="1029.2" y="363.3"/>
<use href="#r24" x="1046.2" y="230.5"/>
<use href="#g24" x="1070.5" y="212.3"/>
<use href="#b22" x="1042.1" y="354.0"/>
<use href="#g24" x="1095.7" y="237.4"/>
<use href="#g24" x="1047.4" y="355.8"/>
<use href="#k26" x="952.9" y="248.2"/>
<use href="#r22" x="1039.4" y="289.0"/>
<use href="#r22" x="1037.3" y="236.3"/>
<use href="#b24" x="1004.9" y="324.1"/>
<use href="#k26" x="1032.6" y="232.5"/>
<use href="#b24" x="986.9" y="292.0"/>
<use href="#b24" x="992.8" y="309.7"/>
<use href="#r22" x="1024.3" y="242.7"/>
<use href="#r22" x="1023.4" y="279.1"/>
<use href="#k22" x="978.6" y="267.5"/>
<use href="#k22" x="990.9" y="203.0"/>
<use href="#r26" x="975.1" y="274.7"/>
<use href="#b26" x="994.4" y="316.3"/>
<use href="#g22" x="1009.0" y="233.0"/>
<use href="#k24" x="1026.4" y="149.9"/>
<use href="#g22" x="1053.1" y="229.3"/>
<use href="#k22" x="1039.6" y="236.3"/>
<use href="#r22" x="1023.7" y="311.2"/>
<use href="#r24" x="964.8" y="224.2"/>
<use href="#b24" x="965.3" y="256.0"/>
<use href="#r24" x="960.9" y="226.4"/>
<use href="#k22" x="1026.8" y="181.4"/>
<use href="#r22" x="997.8" y="288.7"/>
<use href="#r22" x="993.5" y="231.6"/>
<use href="#g26" x="1030.7" y="259.9"/>
<use href="#g24" x="1064.1" y="226.3"/>
<use href="#g26" x="1093.5" y="226.6"/>
<use href="#r24" x="978.2" y="163.8"/>
<use href="#g26" x="1034.9" y="175.3"/>
<use href="#r26" x="987.4" y="344.9"/>
<use href="#g24" x="994.6" y="302.4"/>
<use href="#b22" x="955.0" y="287.6"/>
<use href="#g26" x="1047.5" y="192.4"/>
<use href="#b22" x="977.8" y="348.5"/>
<use href="#g26" x="982.9" y="220.2"/>
<use href="#g22" x="1102.1" y="243.4"/>
<use href="#g26" x="1089.8" y="247.3"/>
<use href="#k22" x="1045.6" y="327.0"/>
<use href="#b24" x="940.0" y="290.8"/>
<use href="#g26" x="1064.7" y="281.2"/>
<use href="#b22" x="1035.4" y="276.4"/>
<use href="#r24" x="968.8" y="211.5"/>
<use href="#g26" x="1066.4" y="193.4"/>
<use href="#g24" x="1075.7" y="268.2"/>
<use href="#r26" x="955.6" y="324.5"/>
<use href="#r24" x="1021.5" y="271.6"/>
<use href="#r24" x="1036.4" y="196.5"/>
<use href="#r22" x="976.6" y="187.7"/>
<use href="#b22" x="989.5" y="290.2"/>
<use href="#k22" x="955.1" y="247.0"/>
<use href="#r22" x="1019.0" y="197.2"/>
<use href="#g22" x="1068.0" y="329.5"/>
<use href="#g24" x="1078.2" y="263.9"/>
<use href="#g22" x="1114.0" y="248.5"/>
<use href="#r22" x="966.5" y="255.2"/>
<use href="#k22" x="1066.4" y="282.3"/>
<use href="#k26" x="990.6" y="289.8"/>
<use href="#r24" x="964.9" y="345.0"/>
<use href="#r22" x="1010.3" y="200.3"/>
<use href="#r24" x="1063.3" y="226.7"/>
<use href="#k26" x="1027.1" y="200.6"/>
<use href="#r24" x="1014.1" y="242.2"/>
<use href="#b24" x="980.4" y="309.9"/>
<use href="#g22" x="1083.4" y="292.8"/>
<use href="#r24" x="1000.3" y="230.4"/>
<use href="#g22" x="1062.6" y="332.4"/>
<use href="#g22" x="1054.9" y="319.5"/>
<use href="#b26" x="995.9" y="325.6"/>
<use href="#k22" x="1008.0" y="208.3"/>
<use href="#g26" x="1100.6" y="245.5"/>
<use href="#r26" x="989.8" y="295.3"/>
<use href="#r22" x="972.6" y="318.2"/>
<use href="#r26" x="975.2" y="241.6"/>
<use href="#g22" x="1025.6" y="244.0"/>
<use href="#g26" x="1050.4" y="239.9"/>
<use href="#r26" x="1042.4" y="290.5"/>
<use href="#r24" x="1048.6" y="274.4"/>
<use href="#g22" x="1067.9" y="234.1"/>
<use href="#g24" x="1040.1" y="278.4"/>
<use href="#k26" x="1057.3" y="222.4"/>
<use href="#r22" x="1038.0" y="260.0"/>
<use href="#r22" x="1033.9" y="337.2"/>
<use href="#r24" x="938.8" y="270.3"/>
<use href="#g22" x="1038.4" y="224.2"/>
<use href="#k22" x="971.7" y="285.1"/>
<use href="#g26" x="1039.9" y="279.6"/>
<use href="#r26" x="970.9" y="198.8"/>
<use href="#r24" x="997.6" y="223.4"/>
<use href="#r26" x="1015.7" y="288.6"/>
<use href="#r24" x="1010.0" y="319.6"/>
<use href="#g26" x="1054.1" y="216.2"/>
<use href="#g22" x="1093.3" y="256.3"/>
<use href="#b22" x="990.8" y="244.4"/>
<use href="#g26" x="1050.7" y="346.9"/>
<use href="#r26" x="1036.2" y="287.6"/>
<use href="#r26" x="1059.7" y="177.6"/>
<use href="#r24" x="1044.3" y="281.1"/>
<use href="#r22" x="941.1" y="230.7"/>
<use href="#r22" x="984.9" y="295.6"/>
<use href="#r22" x="1008.8" y="269.3"/>
<use href="#g24" x="1014.3" y="200.4"/>
<use href="#r26" x="971.5" y="278.8"/>
<use href="#k26" x="1027.0" y="312.2"/>
<use href="#g26" x="1109.9" y="282.7"/>
<use href="#g26" x="1011.6" y="230.0"/>
<use href="#r24" x="1038.2" y="192.9"/>
<use href="#k26" x="988.2" y="247.3"/>
<use href="#k22" x="1025.7" y="188.5"/>
<use href="#k26" x="1062.8" y="213.1"/>
<use href="#k24" x="1002.3" y="337.2"/>
<use href="#g22" x="1072.1" y="185.3"/>
<use href="#r22" x="1074.9" y="258.0"/>
<use href="#r24" x="1000.4" y="300.6"/>
<use href="#r26" x="1065.2" y="202.5"/>
<use href="#r26" x="1040.7" y="276.3"/>
<use href="#k22" x="1027.7" y="264.9"/>
<use href="#k26" x="1071.4" y="321.8"/>
<use href="#r22" x="1018.9" y="220.3"/>
<use href="#r22" x="1067.7" y="189.2"/>
<use href="#k26" x="1047.3" y="199.9"/>
<use href="#b22" x="1008.5" y="298.5"/>
<use href="#r22" x="1018.8" y="293.5"/>
<use href="#g22" x="1015.7" y="280.0"/>
<use href="#k26" x="1015.5" y="263.3"/>
<use href="#g24" x="1018.2" y="231.2"/>
<use href="#g22" x="1044.3" y="207.9"/>
<use href="#r24" x="979.0" y="221.8"/>
<use href="#k24" x="1038.1" y="313.4"/>
<use href="#r22" x="1025.8" y="248.2"/>
<use href="#g26" x="1077.3" y="284.5"/>
<use href="#g22" x="1010.5" y="224.0"/>
<use href="#b24" x="1017.5" y="304.1"/>
<use href="#r26" x="1007.5" y="244.4"/>
<use href="#g24" x="1057.2" y="220.2"/>
<use href="#b22" x="982.0" y="255.0"/>
<use href="#g24" x="1096.0" y="273.9"/>
<use href="#r24" x="911.4" y="321.8"/>
<use href="#r24" x="1069.1" y="238.7"/>
<use href="#r24" x="1032.9" y="302.0"/>
<use href="#r26" x="990.9" y="264.7"/>
<use href="#g24" x="1010.7" y="222.6"/>
<use href="#k26" x="951.8" y="213.6"/>
<use href="#g24" x="1069.6" y="235.9"/>
<use href="#b24" x="993.7" y="287.8"/>
<use href="#g22" x="1050.6" y="288.3"/>
<use href="#r26" x="1030.3" y="219.4"/>
<use href="#g26" x="1060.3" y="303.6"/>
<use href="#g22" x="1043.4" y="255.8"/>
<use href="#g26" x="1067.5" y="234.0"/>
<use href="#r24" x="994.0" y="189.9"/>
<use href="#r26" x="1008.9" y="287.6"/>
<use href="#r22" x="999.8" y="159.7"/>
<use href="#r22" x="984.5" y="257.1"/>
<use href="#r22" x="1043.9" y="263.2"/>
<use href="#g26" x="1029.9" y="178.1"/>
<use href="#k24" x="948.6" y="231.7"/>
<use href="#r22" x="1028.1" y="201.5"/>
<use href="#k26" x="1023.3" y="245.3"/>
<use href="#g26" x="1097.2" y="262.3"/>
<use href="#k24" x="993.1" y="240.4"/>
<use href="#r24" x="988.9" y="318.7"/>
<use href="#r24" x="963.9" y="245.9"/>
<use href="#g26" x="1071.4" y="255.9"/>
<use href="#r22" x="1051.3" y="292.4"/>
<use href="#g22" x="999.6" y="268.1"/>
<use href="#r26" x="1001.6" y="228.3"/>
<use href="#r26" x="938.4" y="219.5"/>
<use href="#g24" x="1030.6" y="254.7"/>
<use href="#r24" x="1017.8" y="163.3"/>
<use href="#r24" x="969.9" y="268.7"/>
<use href="#r22" x="952.4" y="301.1"/>
<use href="#r26" x="1027.8" y="264.7"/>
<use href="#b24" x="956.0" y="306.9"/>
<use href="#r24" x="1003.0" y="333.0"/>
<use href="#k22" x="958.4" y="218.3"/>
<use href="#g26" x="1062.0" y="278.9"/>
<use href="#g22" x="1002.6" y="230.0"/>
<use href="#g24" x="988.8" y="210.0"/>
<use href="#r22" x="994.6" y="267.9"/>
<use href="#k24" x="1061.9" y="314.0"/>
<use href="#g22" x="1111.9" y="220.5"/>
<use href="#g26" x="1018.5" y="279.0"/>
<use href="#g22" x="1054.4" y="193.7"/>
<use href="#b24" x="998.5" y="356.5"/>
<use href="#b22" x="993.0" y="256.2"/>
<use href="#r24" x="975.9" y="207.2"/>
<use href="#r22" x="947.1" y="318.3"/>
<use href="#g22" x="1079.9" y="259.5"/>
<use href="#b26" x="998.5" y="289.2"/>
<use href="#r22" x="1013.5" y="265.5"/>
<use href="#b26" x="972.5" y="300.9"/>
<use href="#g24" x="1074.8" y="303.4"/>
<use href="#g26" x="1103.3" y="209.7"/>
<use href="#g22" x="1087.6" y="197.5"/>
<use href="#k22" x="1091.5" y="226.3"/>
<use href="#b26" x="957.3" y="284.5"/>
<use href="#r24" x="982.9" y="254.2"/>
<use href="#g26" x="1048.4" y="230.8"/>
<use href="#b24" x="1013.6" y="281.4"/>
<use href="#b22" x="977.7" y="267.1"/>
<use href="#b26" x="1040.4" y="263.8"/>
<use href="#b24" x="1038.7" y="336.1"/>
<use href="#g26" x="1057.5" y="306.4"/>
<use href="#r24" x="1060.9" y="280.7"/>
<use href="#r26" x="1047.3" y="199.8"/>
<use href="#r24" x="1001.2" y="267.1"/>
<use href="#r22" x="1010.0" y="250.8"/>
<use href="#r22" x="1022.5" y="263.4"/>
<use href="#r26" x="964.5" y="336.4"/>
<use href="#b26" x="1007.5" y="290.1"/>
<use href="#g24" x="1035.1" y="195.8"/>
<use href="#k24" x="999.1" y="339.4"/>
<use href="#k22" x="987.3" y="274.0"/>
<use href="#r22" x="942.5" y="240.4"/>
<use href="#k24" x="996.6" y="231.3"/>
<use href="#k26" x="957.8" y="289.3"/>
<use href="#g22" x="1100.3" y="324.5"/>
<use href="#k22" x="988.8" y="249.6"/>
<use href="#b22" x="977.1" y="269.4"/>
<use href="#r22" x="1005.6" y="180.1"/>
<use href="#k24" x="1034.6" y="288.1"/>
<use href="#r22" x="1056.7" y="294.5"/>
<use href="#k22" x="970.4" y="312.1"/>
<use href="#g24" x="1082.2" y="195.4"/>
<use href="#b24" x="981.6" y="311.4"/>
<use href="#r26" x="1013.3" y="293.3"/>
<use href="#r22" x="990.2" y="170.9"/>
<use href="#r26" x="940.4" y="278.3"/>
<use href="#r26" x="928.2" y="249.0"/>
<use href="#g26" x="1103.3" y="261.8"/>
<use href="#b24" x="1006.3" y="263.5"/>
<use href="#g26" x="982.7" y="251.4"/>
<use href="#g24" x="1046.3" y="228.4"/>
<use href="#b26" x="1025.4" y="322.3"/>
<use href="#g22" x="1021.0" y="200.3"/>
<use href="#b26" x="1049.2" y="280.4"/>
<use href="#r24" x="963.2" y="280.8"/>
<use href="#g22" x="1027.7" y="279.0"/>
<use href="#b26" x="1009.5" y="276.9"/>
<use href="#r22" x="1066.8" y="208.9"/>
<use href="#g24" x="1040.7" y="202.5"/>
<use href="#g22" x="1065.2" y="169.2"/>
<use href="#k22" x="1047.5" y="194.8"/>
<use href="#g22" x="1040.0" y="224.3"/>
<use href="#b24" x="1030.1" y="282.2"/>
<use href="#k26" x="985.2" y="188.5"/>
<use href="#k26" x="1051.0" y="256.1"/>
<use href="#g26" x="1009.7" y="234.5"/>
<use href="#b22" x="1026.9" y="314.8"/>
<use href="#k26" x="1042.3" y="232.4"/>
<use href="#r26" x="1070.4" y="275.2"/>
<use href="#r24" x="968.6" y="246.5"/>
<use href="#r22" x="973.2" y="234.0"/>
<use href="#r22" x="1022.5" y="306.6"/>
<use href="#k24" x="990.5" y="268.4"/>
<use href="#k24" x="986.2" y="198.3"/>
<use href="#k22" x="997.1" y="168.6"/>
<use href="#b24" x="969.0" y="282.7"/>
<use href="#r22" x="1047.9" y="238.9"/>
<use href="#g26" x="1063.5" y="217.1"/>
<use href="#k22" x="1008.8" y="185.7"/>
<use href="#b22" x="984.4" y="293.8"/>
<use href="#r24" x="1040.7" y="221.9"/>
<use href="#r26" x="1015.6" y="240.5"/>
<use href="#g24" x="1078.1" y="228.4"/>
<use href="#g22" x="1098.2" y="241.6"/>
<use href="#g22" x="1071.5" y="261.7"/>
<use href="#g24" x="975.5" y="248.9"/>
<use href="#r22" x="991.7" y="306.4"/>
<use href="#r24" x="966.9" y="263.6"/>
<use href="#r24" x="944.8" y="274.1"/>
<use href="#k22" x="1012.2" y="226.4"/>
<use href="#k26" x="1055.2" y="261.9"/>
<use href="#r24" x="988.1" y="277.0"/>
<use href="#g26" x="1021.6" y="341.1"/>
<use href="#r26" x="991.9" y="248.7"/>
<use href="#r24" x="1038.2" y="322.9"/>
<use href="#r26" x="1026.5" y="221.6"/>
<use href="#r24" x="1026.6" y="226.4"/>
<use href="#r22" x="1046.5" y="284.3"/>
<use href="#b24" x="978.8" y="249.7"/>
<use href="#b24" x="989.4" y="308.4"/>
<use href="#g24" x="1073.5" y="278.4"/>
<use href="#r24" x="1060.4" y="215.1"/>
<use href="#g24" x="1035.7" y="209.2"/>
<use href="#g24" x="1071.6" y="309.7"/>
<use href="#r26" x="987.5" y="214.1"/>
<use href="#r22" x="1001.7" y="229.7"/>
<use href="#r22" x="1009.7" y="167.1"/>
<use href="#r22" x="1055.0" y="252.7"/>
<use href="#r24" x="947.7" y="219.6"/>
<use href="#b22" x="997.0" y="323.0"/>
<use href="#b24" x="1024.7" y="292.7"/>
<use href="#b26" x="965.9" y="293.0"/>
<use href="#b26" x="1008.2" y="296.4"/>
<use href="#b26" x="981.5" y="254.4"/>
<use href="#g22" x="1013.1" y="209.4"/>
<use href="#r24" x="1031.1" y="280.0"/>
<use href="#r24" x="1042.3" y="323.4"/>
<use href="#r22" x="955.7" y="295.2"/>
<use href="#r26" x="1007.1" y="298.4"/>
<use href="#r26" x="972.7" y="276.5"/>
<use href="#k26" x="993.6" y="200.3"/>
<use href="#r24" x="981.7" y="230.2"/>
<use href="#r26" x="982.5" y="318.5"/>
<use href="#g26" x="1056.4" y="311.9"/>
<use href="#g24" x="1041.7" y="219.8"/>
<use href="#r24" x="1064.5" y="265.8"/>
<use href="#r26" x="1023.7" y="299.5"/>
<use href="#r24" x="1037.7" y="174.7"/>
<use href="#r26" x="943.4" y="205.1"/>
<use href="#g26" x="1060.1" y="180.2"/>
<use href="#k26" x="1019.0" y="281.5"/>
<use href="#b24" x="989.3" y="334.8"/>
<use href="#r24" x="993.8" y="312.5"/>
<use href="#r24" x="1047.0" y="206.5"/>
<use href="#b26" x="984.1" y="264.5"/>
<use href="#b24" x="1029.5" y="344.7"/>
<use href="#r26" x="1012.7" y="339.5"/>
<use href="#r22" x="927.1" y="297.9"/>
<use href="#k22" x="996.8" y="182.6"/>
<use href="#b26" x="1018.1" y="302.3"/>
<use href="#g22" x="1050.2" y="248.1"/>
<use href="#r22" x="963.1" y="175.5"/>
<use href="#r22" x="944.6" y="308.8"/>
<use href="#b26" x="984.0" y="307.6"/>
<use href="#r24" x="1025.7" y="230.2"/>
<use href="#g26" x="1087.0" y="246.3"/>
<use href="#r26" x="962.5" y="223.8"/>
<use href="#r26" x="1005.3" y="276.4"/>
<use href="#r22" x="978.2" y="234.7"/>
<use href="#r26" x="1055.3" y="184.9"/>
<use href="#r26" x="996.2" y="256.9"/>
<use href="#g24" x="1072.0" y="241.2"/>
<use href="#r26" x="990.2" y="221.5"/>
<use href="#r22" x="951.6" y="200.7"/>
<use href="#r26" x="1046.9" y="258.4"/>
<use href="#r26" x="1022.1" y="257.7"/>
<use href="#k26" x="1038.0" y="254.2"/>
<use href="#k24" x="1086.7" y="283.3"/>
<use href="#r26" x="970.6" y="233.6"/>
<use href="#r24" x="1052.9" y="192.6"/>
<use href="#r24" x="1069.0" y="325.2"/>
<use href="#b26" x="975.7" y="328.0"/>
<use href="#g22" x="1065.8" y="239.8"/>
<use href="#g24" x="1086.0" y="240.4"/>
<use href="#r24" x="1046.4" y="335.3"/>
<use href="#b22" x="1009.7" y="242.6"/>
<use href="#k22" x="1014.1" y="229.9"/>
<use href="#k24" x="1004.6" y="265.8"/>
<use href="#r26" x="1059.8" y="181.6"/>
<use href="#g26" x="1094.5" y="231.0"/>
<use href="#r26" x="994.7" y="316.7"/>
<use href="#k24" x="1043.6" y="295.4"/>
<use href="#r26" x="1008.4" y="193.4"/>
<use href="#g26" x="1078.4" y="331.4"/>
<use href="#r24" x="1056.2" y="250.0"/>
<use href="#b22" x="957.6" y="258.6"/>
<use href="#b26" x="941.5" y="306.6"/>
<use href="#r22" x="993.8" y="294.1"/>
<use href="#r26" x="960.3" y="215.2"/>
<use href="#g24" x="1069.4" y="223.4"/>
<use href="#g24" x="1086.5" y="244.9"/>
<use href="#g22" x="1070.7" y="226.7"/>
<use href="#r26" x="989.3" y="246.5"/>
<use href="#g26" x="1042.0" y="210.8"/>
<use href="#r22" x="1016.1" y="256.0"/>
<use href="#k22" x="1054.9" y="285.5"/>
<use href="#b26" x="968.9" y="327.3"/>
<use href="#r24" x="1021.2" y="226.1"/>
<use href="#b26" x="1009.5" y="296.8"/>
<use href="#g24" x="1083.8" y="311.5"/>
<use href="#r26" x="1018.4" y="282.8"/>
<use href="#b22" x="993.1" y="285.6"/>
<use href="#r24" x="1078.3" y="267.0"/>
<use href="#g24" x="1074.0" y="230.3"/>
<use href="#k22" x="992.1" y="164.7"/>
<use href="#r26" x="956.5" y="221.5"/>
<use href="#r22" x="1011.8" y="236.2"/>
<use href="#r22" x="997.6" y="230.9"/>
<use href="#r24" x="985.7" y="183.8"/>
<use href="#g24" x="986.8" y="227.6"/>
<use href="#r22" x="991.6" y="198.6"/>
<use href="#r24" x="1006.7" y="173.9"/>
<use href="#r22" x="1057.3" y="289.3"/>
<use href="#r24" x="998.6" y="280.6"/>
<use href="#k22" x="1050.6" y="289.6"/>
<use href="#g22" x="1050.2" y="210.3"/>
<use href="#k26" x="1044.8" y="266.0"/>
<use href="#g26" x="1068.8" y="194.8"/>
<use href="#g26" x="1025.6" y="313.5"/>
<use href="#k24" x="990.0" y="281.4"/>
<use href="#g26" x="1086.9" y="322.6"/>
<use href="#r22" x="1047.8" y="239.2"/>
<use href="#b24" x="988.3" y="293.1"/>
<use href="#g24" x="1058.0" y="186.2"/>
<use href="#r26" x="960.3" y="328.4"/>
<use href="#b24" x="998.0" y="278.7"/>
<use href="#r24" x="1003.6" y="170.1"/>
<use href="#r22" x="1091.3" y="262.6"/>
<use href="#k22" x="1032.7" y="286.2"/>
<use href="#r22" x="973.8" y="230.6"/>
<use href="#r26" x="1063.9" y="285.4"/>
<use href="#g24" x="1082.3" y="210.0"/>
<use href="#k26" x="948.5" y="180.8"/>
<use href="#g26" x="1111.7" y="255.6"/>
<use href="#r26" x="1056.8" y="240.2"/>
<use href="#r22" x="989.9" y="345.6"/>
<use href="#r26" x="997.1" y="206.6"/>
<use href="#r24" x="1048.6" y="207.6"/>
<use href="#r26" x="953.5" y="196.9"/>
<use href="#k22" x="1053.3" y="262.8"/>
<use href="#b26" x="947.4" y="281.0"/>
<use href="#r22" x="974.1" y="264.5"/>
<use href="#r22" x="1043.4" y="244.5"/>
<use href="#r22" x="1005.9" y="318.9"/>
<use href="#r24" x="1051.8" y="322.4"/>
<use href="#r22" x="974.5" y="287.8"/>
<use href="#g26" x="1087.1" y="328.3"/>
<use href="#k26" x="969.2" y="220.3"/>
<use href="#r24" x="1015.1" y="324.8"/>
<use href="#g26" x="1046.1" y="212.4"/>
<use href="#r26" x="1047.4" y="273.8"/>
<use href="#g26" x="1044.2" y="278.8"/>
<use href="#r24" x="961.0" y="246.5"/>
<use href="#r22" x="1080.3" y="230.8"/>
<use href="#r26" x="1056.6" y="333.7"/>
<use href="#k24" x="1020.3" y="189.3"/>
<use href="#r26" x="1038.9" y="302.8"/>
<use href="#r22" x="1062.7" y="212.5"/>
<use href="#g24" x="1008.0" y="264.5"/>
<use href="#r26" x="1027.1" y="194.4"/>
<use href="#k26" x="1030.0" y="202.0"/>
<use href="#b26" x="960.3" y="268.3"/>
<use href="#r26" x="1015.6" y="307.0"/>
<use href="#g22" x="979.8" y="284.3"/>
<use href="#r26" x="998.7" y="249.4"/>
<use href="#g26" x="1041.9" y="267.8"/>
<use href="#r22" x="1000.9" y="261.4"/>
<use href="#r24" x="969.0" y="242.6"/>
<use href="#r24" x="1010.7" y="268.3"/>
<use href="#r24" x="1083.3" y="296.9"/>
<use href="#r22" x="994.1" y="169.0"/>
<use href="#r22" x="1085.8" y="237.6"/>
<use href="#r24" x="1061.0" y="246.7"/>
<use href="#g22" x="1063.2" y="245.1"/>
<use href="#r26" x="1020.9" y="278.1"/>
<use href="#r22" x="1056.3" y="233.9"/>
<use href="#g26" x="1081.8" y="297.8"/>
<use href="#k26" x="1027.2" y="205.8"/>
<use href="#g24" x="1006.9" y="199.0"/>
<use href="#g24" x="1061.0" y="212.8"/>
<use href="#g26" x="1027.2" y="244.2"/>
<use href="#g22" x="1096.4" y="229.9"/>
<use href="#b22" x="1032.1" y="360.8"/>
<use href="#r24" x="950.5" y="311.4"/>
<use href="#r26" x="1007.8" y="280.6"/>
<use href="#r26" x="1016.9" y="288.5"/>
<use href="#r26" x="1009.9" y="281.3"/>
<use href="#g24" x="1066.9" y="266.9"/>
<use href="#g24" x="1033.4" y="339.1"/>
<use href="#r26" x="996.6" y="348.4"/>
<use href="#g22" x="1063.7" y="235.4"/>
<use href="#g22" x="1044.0" y="206.1"/>
<use href="#g26" x="1066.8" y="180.6"/>
<use href="#r24" x="991.6" y="204.3"/>
<use href="#r22" x="989.1" y="232.6"/>
<use href="#g26" x="994.1" y="244.9"/>
<use href="#r24" x="1040.1" y="294.6"/>
<use href="#r22" x="994.0" y="256.2"/>
<use href="#g26" x="1051.7" y="240.6"/>
<use href="#g24" x="1063.1" y="260.2"/>
<use href="#k24" x="1041.1" y="234.6"/>
<use href="#g24" x="1057.0" y="316.6"/>
<use href="#g26" x="1104.7" y="188.5"/>
<use href="#g26" x="1048.8" y="312.3"/>
<use href="#r24" x="974.1" y="268.0"/>
<use href="#g24" x="1007.0" y="327.9"/>
<use href="#r26" x="1041.9" y="217.6"/>
<use href="#r26" x="1024.8" y="262.7"/>
<use href="#r24" x="1058.5" y="169.3"/>
<use href="#r22" x="973.5" y="294.3"/>
<use href="#g22" x="979.3" y="223.4"/>
<use href="#r22" x="1063.9" y="284.0"/>
<use href="#r22" x="1041.0" y="281.7"/>
<use href="#r24" x="968.8" y="300.0"/>
<use href="#g22" x="1053.4" y="226.2"/>
<use href="#g22" x="1032.8" y="216.6"/>
<use href="#r26" x="1055.9" y="277.4"/>
<use href="#r24" x="1026.1" y="269.3"/>
<use href="#g26" x="1063.7" y="240.0"/>
<use href="#r24" x="1063.3" y="301.1"/>
<use href="#k24" x="1059.8" y="238.9"/>
<use href="#g24" x="1031.5" y="231.8"/>
<use href="#r24" x="1017.0" y="235.4"/>
<use href="#g26" x="1031.6" y="260.4"/>
<use href="#r22" x="999.1" y="243.2"/>
<use href="#r26" x="1003.6" y="321.4"/>
<use href="#r26" x="976.8" y="301.9"/>
<use href="#g26" x="1016.7" y="344.7"/>
<use href="#g26" x="1055.6" y="274.1"/>
<use href="#r24" x="1014.8" y="304.9"/>
<use href="#g24" x="983.2" y="236.6"/>
<use href="#r24" x="943.7" y="310.5"/>
<use href="#b26" x="959.3" y="310.5"/>
<use href="#g26" x="1073.9" y="256.3"/>
<use href="#r26" x="1019.7" y="306.7"/>
<use href="#k24" x="1000.7" y="276.7"/>
<use href="#r26" x="936.6" y="275.8"/>
<use href="#g22" x="1033.0" y="271.9"/>
<use href="#b24" x="1042.4" y="326.4"/>
<use href="#b24" x="977.6" y="251.7"/>
<use href="#b22" x="994.7" y="343.0"/>
<use href="#k24" x="1026.1" y="245.3"/>
<use href="#k24" x="995.2" y="304.7"/>
<use href="#k22" x="1054.9" y="234.7"/>
<use href="#r26" x="963.5" y="282.1"/>
<use href="#b26" x="975.6" y="298.5"/>
<use href="#r24" x="993.7" y="293.8"/>
<use href="#k24" x="1097.1" y="243.2"/>
<use href="#r22" x="1004.7" y="252.3"/>
<use href="#g26" x="1040.6" y="277.0"/>
<use href="#k24" x="1010.5" y="305.2"/>
<use href="#r26" x="1055.7" y="326.9"/>
<use href="#b24" x="1022.8" y="289.8"/>
<use href="#r26" x="997.5" y="233.0"/>
<use href="#r22" x="1020.3" y="219.1"/>
<use href="#r24" x="994.6" y="296.5"/>
<use href="#k24" x="1035.4" y="283.8"/>
<use href="#g26" x="1023.7" y="313.0"/>
<use href="#r26" x="995.4" y="318.2"/>
<use href="#r22" x="1005.4" y="284.5"/>
<use href="#r24" x="1072.9" y="218.6"/>
<use href="#r26" x="990.3" y="178.2"/>
<use href="#k24" x="969.7" y="270.3"/>
<use href="#r26" x="1063.0" y="308.3"/>
<use href="#g22" x="1041.3" y="253.9"/>
<use href="#k22" x="1052.6" y="310.8"/>
<use href="#r24" x="1019.9" y="307.4"/>
<use href="#g26" x="1054.1" y="253.5"/>
<use href="#r24" x="1071.0" y="229.2"/>
<use href="#r26" x="963.6" y="219.7"/>
<use href="#k22" x="1051.6" y="214.8"/>
<use href="#g26" x="1020.7" y="202.1"/>
<use href="#b22" x="1008.6" y="258.0"/>
<use href="#b26" x="953.9" y="307.9"/>
<use href="#b24" x="1000.2" y="329.3"/>
<use href="#r24" x="1000.6" y="227.9"/>
<use href="#r26" x="1034.4" y="248.9"/>
<use href="#r24" x="1019.5" y="304.4"/>
<use href="#g26" x="1061.8" y="255.7"/>
<use href="#r22" x="925.7" y="276.0"/>
<use href="#r26" x="990.9" y="277.5"/>
<use href="#g22" x="1014.6" y="251.9"/>
<use href="#k24" x="1075.7" y="256.5"/>
<use href="#k24" x="1013.4" y="194.7"/>
<use href="#r24" x="1011.0" y="245.1"/>
<use href="#b24" x="974.5" y="289.0"/>
<use href="#b22" x="944.2" y="274.6"/>
<use href="#r22" x="972.9" y="279.2"/>
<use href="#r22" x="1056.3" y="252.6"/>
<use href="#k24" x="994.7" y="300.5"/>
<use href="#r24" x="1042.4" y="218.3"/>
<use href="#r24" x="1023.2" y="165.7"/>
<use href="#r26" x="976.1" y="201.0"/>
<use href="#r26" x="938.6" y="230.9"/>
<use href="#g26" x="1035.0" y="262.8"/>
<use href="#k26" x="1034.6" y="243.6"/>
<use href="#r24" x="989.0" y="221.5"/>
<use href="#r26" x="1022.1" y="301.6"/>
<use href="#r26" x="991.1" y="192.5"/>
<use href="#g26" x="1039.7" y="253.4"/>
<use href="#b26" x="992.8" y="287.5"/>
<use href="#g26" x="983.1" y="290.9"/>
<use href="#r26" x="1070.7" y="285.3"/>
<use href="#g26" x="1052.1" y="227.5"/>
<use href="#k24" x="1053.7" y="229.5"/>
<use href="#r22" x="947.3" y="269.1"/>
<use href="#r26" x="988.5" y="257.7"/>
<use href="#r22" x="929.7" y="218.6"/>
<use href="#k26" x="980.4" y="269.3"/>
<use href="#k26" x="1036.5" y="208.3"/>
<use href="#r22" x="1010.5" y="217.1"/>
<use href="#b26" x="955.7" y="283.7"/>
<use href="#r26" x="966.3" y="191.9"/>
<use href="#r22" x="1041.5" y="261.4"/>
<use href="#r24" x="975.9" y="255.2"/>
<use href="#r24" x="1034.3" y="291.1"/>
<use href="#r26" x="933.5" y="275.1"/>
<use href="#b24" x="1034.9" y="342.1"/>
<use href="#r22" x="1078.0" y="197.6"/>
<use href="#g26" x="1035.0" y="295.4"/>
<use href="#r22" x="989.5" y="276.8"/>
<use href="#b26" x="1033.0" y="325.3"/>
<use href="#r26" x="1031.8" y="258.7"/>
<use href="#r22" x="1079.4" y="255.5"/>
<use href="#r26" x="1007.4" y="157.4"/>
<use href="#r26" x="988.2" y="266.2"/>
<use href="#g26" x="1028.6" y="290.0"/>
<use href="#r22" x="931.1" y="259.0"/>
<use href="#k22" x="996.4" y="215.8"/>
<use href="#g26" x="1022.4" y="247.3"/>
<use href="#g26" x="1063.0" y="244.6"/>
<use href="#g26" x="985.0" y="269.0"/>
<use href="#r22" x="983.2" y="260.5"/>
<use href="#r26" x="993.7" y="200.8"/>
<use href="#g24" x="1009.2" y="327.9"/>
<use href="#r24" x="960.7" y="324.3"/>
<use href="#g22" x="1010.9" y="236.9"/>
<use href="#b24" x="1000.0" y="293.5"/>
<use href="#g26" x="1030.5" y="305.7"/>
<use href="#b24" x="968.6" y="300.4"/>
<use href="#r24" x="971.7" y="241.0"/>
<use href="#r22" x="1006.8" y="315.8"/>
<use href="#g22" x="1048.8" y="223.6"/>
<use href="#r22" x="1026.9" y="157.8"/>
<use href="#r26" x="1040.6" y="260.8"/>
<use href="#r24" x="1017.0" y="211.9"/>
<use href="#r22" x="1015.6" y="309.9"/>
<use href="#b24" x="999.0" y="341.0"/>
<use href="#g22" x="1072.5" y="273.5"/>
<use href="#r24" x="1038.8" y="287.2"/>
<use href="#r22" x="1007.7" y="210.9"/>
<use href="#b24" x="1027.4" y="273.7"/>
<use href="#g22" x="1046.9" y="306.2"/>
<use href="#r24" x="1076.5" y="265.5"/>
<use href="#b26" x="1055.6" y="329.6"/>
<use href="#g26" x="1053.6" y="232.7"/>
<use href="#k22" x="1026.5" y="258.6"/>
<use href="#k26" x="981.9" y="271.9"/>
<use href="#r22" x="962.0" y="241.2"/>
<use href="#r24" x="1011.5" y="216.3"/>
<use href="#b26" x="1036.0" y="299.1"/>
<use href="#r24" x="968.0" y="269.7"/>
<use href="#g26" x="1003.7" y="226.6"/>
<use href="#g24" x="1087.4" y="254.0"/>
<use href="#k24" x="1065.4" y="310.5"/>
<use href="#r24" x="956.4" y="191.2"/>
<use href="#g22" x="1001.6" y="223.7"/>
<use href="#r24" x="996.7" y="344.7"/>
<use href="#k24" x="1100.3" y="206.1"/>
<use href="#r22" x="1035.0" y="270.9"/>
<use href="#b24" x="983.6" y="307.3"/>
<use href="#r22" x="1081.9" y="296.6"/>
<use href="#k24" x="1050.9" y="301.2"/>
<use href="#g26" x="1034.5" y="282.9"/>
<use href="#r26" x="946.6" y="247.4"/>
<use href="#k22" x="982.6" y="189.1"/>
<use href="#g24" x="1031.2" y="200.8"/>
<use href="#k26" x="959.8" y="173.0"/>
<use href="#g22" x="1092.3" y="230.7"/>
<use href="#r24" x="1004.4" y="159.1"/>
<use href="#g22" x="1073.1" y="311.1"/>
<use href="#r24" x="1000.1" y="307.3"/>
<use href="#g22" x="1035.6" y="258.5"/>
<use href="#r22" x="1047.1" y="223.9"/>
<use href="#r24" x="976.1" y="217.9"/>
<use href="#g22" x="1105.4" y="209.5"/>
<use href="#r26" x="985.9" y="277.1"/>
<use href="#r24" x="1038.1" y="261.1"/>
<use href="#r22" x="980.0" y="219.8"/>
<use href="#r24" x="1071.0" y="186.2"/>
<use href="#g24" x="1081.7" y="220.6"/>
<use href="#g22" x="1018.7" y="288.6"/>
<use href="#r26" x="1090.5" y="261.4"/>
<use href="#r22" x="1069.6" y="283.3"/>
<use href="#g24" x="1047.4" y="213.3"/>
<use href="#r26" x="1024.1" y="186.3"/>
<use href="#r22" x="971.4" y="314.2"/>
<use href="#k24" x="990.1" y="193.2"/>
<use href="#k24" x="968.3" y="290.3"/>
<use href="#g22" x="1049.2" y="216.2"/>
<use href="#r26" x="978.3" y="281.0"/>
<use href="#r22" x="1006.2" y="183.8"/>
<use href="#g26" x="1046.5" y="308.4"/>
<use href="#r26" x="1032.3" y="267.0"/>
<use href="#r26" x="940.4" y="266.7"/>
<use href="#r24" x="1003.4" y="161.4"/>
<use href="#k24" x="980.0" y="197.4"/>
<use href="#g24" x="1054.7" y="302.9"/>
<use href="#b26" x="1021.7" y="309.2"/>
<use href="#r22" x="1006.8" y="280.7"/>
<use href="#r22" x="1060.2" y="199.7"/>
<use href="#k22" x="1022.3" y="213.5"/>
<use href="#r22" x="942.0" y="252.4"/>
<use href="#b24" x="955.4" y="353.1"/>
<use href="#r26" x="1025.8" y="189.8"/>
<use href="#b24" x="978.8" y="291.2"/>
<use href="#r24" x="1046.7" y="212.0"/>
<use href="#k24" x="1055.3" y="245.0"/>
<use href="#g26" x="1055.4" y="298.4"/>
<use href="#r22" x="989.4" y="213.7"/>
<use href="#r22" x="953.6" y="264.2"/>
<use href="#r26" x="1060.2" y="232.9"/>
<use href="#r22" x="1081.1" y="248.5"/>
<use href="#b26" x="1037.3" y="319.6"/>
<use href="#r24" x="978.7" y="240.7"/>
<use href="#g26" x="1055.8" y="275.3"/>
<use href="#g24" x="1043.8" y="182.9"/>
<use href="#k22" x="1083.0" y="216.1"/>
<use href="#r24" x="1017.7" y="330.8"/>
<use href="#g26" x="1040.9" y="314.3"/>
<use href="#r24" x="1067.0" y="277.7"/>
<use href="#g22" x="1032.0" y="205.9"/>
<use href="#g24" x="1082.8" y="297.1"/>
<use href="#g22" x="1080.1" y="303.6"/>
<use href="#k24" x="1022.3" y="205.2"/>
<use href="#r24" x="990.5" y="182.0"/>
<use href="#g26" x="1056.0" y="317.5"/>
<use href="#r22" x="949.3" y="184.0"/>
<use href="#r22" x="997.8" y="265.4"/>
<use href="#b26" x="1019.4" y="331.7"/>
<use href="#r22" x="1017.1" y="293.3"/>
<use href="#r22" x="1012.6" y="334.5"/>
<use href="#k26" x="1024.9" y="187.1"/>
<use href="#g22" x="1056.4" y="263.0"/>
<use href="#b22" x="946.5" y="328.8"/>
<use href="#r22" x="1044.6" y="265.1"/>
<use href="#g26" x="1002.6" y="276.7"/>
<use href="#b24" x="1045.7" y="262.4"/>
<use href="#r22" x="1022.9" y="193.6"/>
<use href="#r24" x="1046.1" y="201.8"/>
<use href="#g26" x="1068.3" y="284.3"/>
<use href="#r26" x="1055.6" y="276.8"/>
<use href="#r24" x="962.2" y="361.2"/>
<use href="#r22" x="1000.6" y="267.6"/>
<use href="#r24" x="993.4" y="306.1"/>
<use href="#k26" x="1019.5" y="156.1"/>
<use href="#r22" x="1037.6" y="211.8"/>
<use href="#g22" x="1012.1" y="228.2"/>
<use href="#r22" x="999.4" y="305.9"/>
<use href="#b22" x="1061.9" y="298.2"/>
<use href="#r26" x="1018.8" y="228.3"/>
<use href="#k22" x="1041.8" y="227.5"/>
<use href="#g22" x="1038.1" y="242.1"/>
<use href="#b24" x="992.7" y="309.8"/>
<use href="#g22" x="1040.3" y="311.5"/>
<use href="#k26" x="985.0" y="246.5"/>
<use href="#g22" x="1084.2" y="251.0"/>
<use href="#k26" x="1005.1" y="256.3"/>
<use href="#g24" x="1081.5" y="187.0"/>
<use href="#g22" x="1044.5" y="279.9"/>
<use href="#r26" x="981.0" y="189.8"/>
<use href="#r24" x="1065.1" y="255.5"/>
<use href="#r26" x="1048.2" y="296.8"/>
<use href="#r22" x="1017.8" y="300.5"/>
<use href="#r22" x="944.6" y="252.1"/>
<use href="#r26" x="977.3" y="301.2"/>
<use href="#r24" x="975.3" y="295.8"/>
<use href="#k26" x="1051.9" y="266.5"/>
<use href="#g22" x="1063.2" y="243.5"/>
<use href="#g24" x="1047.0" y="341.9"/>
<use href="#r24" x="982.6" y="239.6"/>
<use href="#r26" x="993.7" y="349.4"/>
<use href="#b26" x="999.9" y="326.2"/>
<use href="#g22" x="1051.0" y="276.3"/>
<use href="#k24" x="1017.1" y="178.0"/>
<use href="#g22" x="1075.1" y="206.2"/>
<use href="#r24" x="940.0" y="231.3"/>
<use href="#k26" x="1018.3" y="209.7"/>
<use href="#g26" x="1035.4" y="267.9"/>
<use href="#r24" x="1009.9" y="259.0"/>
<use href="#r26" x="959.0" y="287.2"/>
<use href="#g24" x="1049.7" y="289.9"/>
<use href="#r22" x="1000.9" y="202.2"/>
<use href="#r26" x="955.4" y="187.8"/>
<use href="#k24" x="1036.2" y="150.1"/>
<use href="#r26" x="990.2" y="274.2"/>
<use href="#r24" x="1012.7" y="231.8"/>
<use href="#r22" x="993.8" y="333.7"/>
<use href="#r26" x="982.5" y="318.2"/>
<use href="#k26" x="1042.4" y="160.9"/>
<use href="#r26" x="1004.4" y="199.7"/>
<use href="#r22" x="963.3" y="192.7"/>
<use href="#r22" x="1050.1" y="249.9"/>
<use href="#g22" x="1097.2" y="242.4"/>
<use href="#r26" x="986.5" y="255.7"/>
<use href="#k24" x="993.1" y="307.8"/>
<use href="#b26" x="1018.2" y="294.5"/>
<use href="#r22" x="1033.9" y="205.1"/>
<use href="#r22" x="1003.0" y="237.4"/>
<use href="#k22" x="1054.0" y="226.5"/>
<use href="#r22" x="987.2" y="233.3"/>
<use href="#r26" x="1025.0" y="253.6"/>
<use href="#g26" x="1071.8" y="254.1"/>
<use href="#r22" x="1063.5" y="203.5"/>
<use href="#b24" x="1016.2" y="266.0"/>
<use href="#g22" x="1086.4" y="276.3"/>
<use href="#r24" x="1010.5" y="249.7"/>
<use href="#r26" x="1041.8" y="271.7"/>
<use href="#r26" x="1078.7" y="262.0"/>
<use href="#g24" x="1100.3" y="312.5"/>
<use href="#r22" x="956.5" y="215.7"/>
<use href="#r26" x="1029.2" y="242.8"/>
<use href="#g24" x="1061.1" y="206.3"/>
<use href="#k26" x="1052.5" y="214.3"/>
<use href="#r22" x="1081.9" y="256.7"/>
<use href="#g26" x="1000.9" y="299.5"/>
<use href="#r22" x="1013.5" y="311.8"/>
<use href="#r26" x="1041.8" y="310.1"/>
<use href="#k22" x="1030.7" y="295.2"/>
<use href="#r22" x="1042.0" y="253.8"/>
<use href="#b26" x="969.7" y="329.9"/>
<use href="#k24" x="1000.9" y="190.9"/>
<use href="#g24" x="1033.3" y="233.4"/>
<use href="#b26" x="1009.6" y="261.6"/>
<use href="#k22" x="1012.4" y="158.2"/>
<use href="#g22" x="1050.3" y="187.3"/>
<use href="#r24" x="981.0" y="198.1"/>
<use href="#g26" x="1079.6" y="214.3"/>
<use href="#r22" x="1015.0" y="256.1"/>
<use href="#b26" x="1022.7" y="287.2"/>
<use href="#r24" x="1038.5" y="271.9"/>
<use href="#r26" x="974.3" y="199.4"/>
<use href="#g26" x="1074.7" y="162.5"/>
<use href="#k24" x="1008.1" y="273.6"/>
<use href="#g26" x="1001.9" y="265.9"/>
<use href="#k22" x="1044.2" y="184.9"/>
<use href="#g24" x="1122.6" y="223.5"/>
<use href="#r24" x="964.1" y="239.5"/>
<use href="#g24" x="1023.0" y="259.1"/>
<use href="#r24" x="963.9" y="300.4"/>
<use href="#r24" x="948.7" y="199.4"/>
<use href="#r22" x="1028.9" y="207.6"/>
<use href="#r26" x="987.6" y="161.6"/>
<use href="#r24" x="943.8" y="201.5"/>
<use href="#b24" x="979.5" y="325.4"/>
<use href="#r22" x="1066.9" y="321.1"/>
<use href="#g22" x="1018.1" y="223.7"/>
<use href="#b24" x="1020.7" y="314.8"/>
<use href="#b26" x="1014.9" y="334.4"/>
<use href="#k26" x="1003.7" y="217.4"/>
<use href="#g22" x="1070.6" y="226.2"/>
<use href="#r24" x="978.8" y="319.1"/>
<use href="#g26" x="1043.4" y="307.6"/>
<use href="#r24" x="1082.8" y="215.8"/>
<use href="#r24" x="996.2" y="260.1"/>
<use href="#g24" x="1023.4" y="242.8"/>
<use href="#r24" x="996.1" y="258.0"/>
<use href="#b26" x="1031.7" y="271.4"/>
<use href="#k24" x="944.0" y="206.3"/>
<use href="#r26" x="975.6" y="303.4"/>
<use href="#r22" x="1074.9" y="267.8"/>
<use href="#r26" x="989.6" y="267.5"/>
<use href="#g26" x="1062.0" y="296.1"/>
<use href="#r22" x="949.7" y="237.0"/>
<use href="#r24" x="977.6" y="226.5"/>
<use href="#g26" x="1005.2" y="253.1"/>
<use href="#b22" x="1042.6" y="333.5"/>
<use href="#r22" x="977.2" y="249.8"/>
<use href="#r22" x="995.1" y="202.0"/>
<use href="#g24" x="1008.2" y="254.7"/>
<use href="#k24" x="1010.4" y="302.0"/>
<use href="#r26" x="1065.2" y="246.8"/>
<use href="#g22" x="1050.5" y="289.0"/>
<use href="#g24" x="1016.9" y="257.7"/>
<use href="#r22" x="975.7" y="240.9"/>
<use href="#k22" x="978.7" y="247.7"/>
<use href="#r22" x="1025.4" y="287.8"/>
<use href="#b26" x="996.9" y="271.5"/>
<use href="#g26" x="988.4" y="257.3"/>
<use href="#r24" x="1013.2" y="171.0"/>
<use href="#r22" x="985.1" y="275.3"/>
<use href="#r26" x="1019.6" y="188.0"/>
<use href="#g24" x="1072.6" y="243.2"/>
<use href="#r22" x="1054.9" y="232.8"/>
<use href="#b26" x="1002.4" y="247.3"/>
<use href="#g26" x="1072.5" y="226.8"/>
<use href="#r22" x="964.9" y="288.6"/>
<use href="#k26" x="1029.3" y="168.1"/>
<use href="#g24" x="1088.4" y="332.7"/>
<use href="#b22" x="992.4" y="314.0"/>
<use href="#g26" x="1047.4" y="189.3"/>
<use href="#k24" x="1037.2" y="212.5"/>
<use href="#g24" x="1050.9" y="282.1"/>
<use href="#g22" x="1029.4" y="231.5"/>
<use href="#r24" x="1054.0" y="248.1"/>
<use href="#r26" x="1050.3" y="195.6"/>
<use href="#b26" x="1014.8" y="314.0"/>
<use href="#r22" x="1048.7" y="185.5"/>
<use href="#r26" x="999.2" y="264.0"/>
<use href="#r24" x="1021.9" y="270.2"/>
<use href="#g26" x="1063.0" y="191.8"/>
<use href="#b24" x="986.1" y="282.8"/>
<use href="#k26" x="1030.1" y="189.1"/>
<use href="#r26" x="991.1" y="253.2"/>
<use href="#b24" x="1027.0" y="267.2"/>
<use href="#g22" x="1091.7" y="257.4"/>
<use href="#r26" x="980.6" y="296.1"/>
<use href="#b24" x="1020.4" y="325.9"/>
<use href="#g22" x="1043.2" y="206.2"/>
<use href="#r26" x="940.1" y="298.1"/>
<use href="#r22" x="958.0" y="248.5"/>
<use href="#r22" x="1076.4" y="251.6"/>
<use href="#r22" x="964.1" y="322.4"/>
<use href="#k26" x="975.3" y="265.0"/>
<use href="#r24" x="981.6" y="303.5"/>
<use href="#r24" x="964.8" y="321.1"/>
<use href="#k22" x="1018.4" y="330.9"/>
<use href="#r24" x="1037.6" y="275.3"/>
<use href="#r24" x="991.4" y="264.1"/>
<use href="#r26" x="1062.3" y="219.1"/>
<use href="#g24" x="1029.3" y="318.3"/>
<use href="#r24" x="983.8" y="272.0"/>
<use href="#g26" x="1045.5" y="268.0"/>
<use href="#r24" x="1014.8" y="272.6"/>
<use href="#k26" x="1060.6" y="215.3"/>
<use href="#g24" x="1068.4" y="224.4"/>
<use href="#g24" x="1085.6" y="272.9"/>
<use href="#r24" x="1029.5" y="186.2"/>
<use href="#r26" x="1037.8" y="271.1"/>
<use href="#g26" x="1077.7" y="236.2"/>
<use href="#r26" x="1000.9" y="269.1"/>
<use href="#b24" x="1049.8" y="279.9"/>
<use href="#k26" x="1006.0" y="228.3"/>
<use href="#k24" x="960.8" y="300.2"/>
<use href="#g22" x="1037.8" y="169.8"/>
<use href="#r26" x="1055.6" y="219.5"/>
<use href="#b24" x="988.8" y="307.2"/>
<use href="#r26" x="984.0" y="228.0"/>
<use href="#g22" x="1040.7" y="224.6"/>
<use href="#g22" x="1087.1" y="226.4"/>
<use href="#b22" x="974.5" y="326.7"/>
<use href="#g26" x="1080.4" y="218.8"/>
<use href="#g24" x="1100.5" y="244.1"/>
<use href="#g24" x="1072.0" y="163.2"/>
<use href="#r24" x="1037.9" y="305.9"/>
<use href="#r24" x="960.7" y="239.7"/>
<use href="#b22" x="1013.0" y="274.5"/>
<use href="#b22" x="1016.5" y="267.6"/>
<use href="#r24" x="1006.3" y="263.5"/>
<use href="#r26" x="986.2" y="227.8"/>
<use href="#r26" x="1007.4" y="258.3"/>
<use href="#g22" x="1120.4" y="235.0"/>
<use href="#r22" x="923.2" y="236.2"/>
<use href="#g22" x="1068.8" y="279.6"/>
<use href="#r24" x="1041.0" y="218.5"/>
<use href="#r26" x="1056.4" y="222.2"/>
<use href="#k22" x="975.7" y="221.3"/>
<use href="#g26" x="1060.5" y="276.5"/>
<use href="#k26" x="1039.6" y="270.9"/>
<use href="#b26" x="1031.1" y="266.0"/>
<use href="#g26" x="1062.5" y="356.3"/>
<use href="#b22" x="957.5" y="343.4"/>
<use href="#g26" x="1034.4" y="308.9"/>
<use href="#r26" x="988.3" y="258.1"/>
<use href="#r22" x="1012.3" y="250.5"/>
<use href="#g26" x="1005.6" y="233.5"/>
<use href="#r26" x="990.3" y="194.1"/>
<use href="#g26" x="1056.1" y="246.3"/>
<use href="#b24" x="1012.0" y="277.9"/>
<use href="#k26" x="1034.0" y="282.8"/>
<use href="#b26" x="1007.0" y="289.0"/>
<use href="#r26" x="1089.1" y="244.2"/>
<use href="#g26" x="981.5" y="284.5"/>
<use href="#k24" x="949.5" y="229.0"/>
<use href="#g22" x="1032.4" y="187.3"/>
<use href="#r22" x="978.3" y="294.6"/>
<use href="#r24" x="991.4" y="209.0"/>
<use href="#r24" x="1066.9" y="258.4"/>
<use href="#g24" x="1106.6" y="235.1"/>
<use href="#r22" x="1023.1" y="231.3"/>
<use href="#g24" x="1026.1" y="284.6"/>
<use href="#k26" x="959.3" y="298.1"/>
<use href="#k24" x="1037.3" y="203.4"/>
<use href="#r24" x="1038.3" y="259.7"/>
<use href="#r24" x="1049.0" y="238.6"/>
<use href="#k22" x="1024.5" y="268.2"/>
<use href="#g24" x="1010.4" y="183.4"/>
<use href="#g22" x="1034.0" y="261.7"/>
<use href="#r22" x="1008.1" y="252.3"/>
<use href="#g24" x="1006.7" y="246.3"/>
<use href="#r24" x="1083.1" y="261.4"/>
<use href="#b26" x="1008.9" y="314.6"/>
<use href="#b22" x="1030.4" y="317.2"/>
<use href="#k22" x="1048.9" y="197.2"/>
<use href="#r24" x="984.6" y="276.7"/>
<use href="#r22" x="928.8" y="333.3"/>
<use href="#r22" x="1034.7" y="233.6"/>
<use href="#g22" x="1030.5" y="263.9"/>
<use href="#r26" x="1043.5" y="300.2"/>
<use href="#g22" x="1042.1" y="227.2"/>
<use href="#r24" x="1023.9" y="233.2"/>
<use href="#r26" x="941.5" y="267.5"/>
<use href="#g22" x="1043.3" y="284.9"/>
<use href="#r22" x="1071.8" y="246.3"/>
<use href="#r24" x="1073.7" y="279.5"/>
<use href="#r24" x="987.6" y="318.4"/>
<use href="#g26" x="1090.1" y="254.5"/>
<use href="#g26" x="1063.8" y="298.9"/>
<use href="#r22" x="950.8" y="190.1"/>
<use href="#k26" x="1079.5" y="282.2"/>
<use href="#r26" x="988.6" y="217.3"/>
<use href="#g22" x="1064.7" y="347.4"/>
<use href="#r24" x="970.1" y="266.3"/>
<use href="#g26" x="1009.2" y="257.4"/>
<use href="#r26" x="955.4" y="219.5"/>
<use href="#g24" x="1050.2" y="321.7"/>
<use href="#g22" x="1094.4" y="313.0"/>
<use href="#r22" x="1078.8" y="216.6"/>
<use href="#g26" x="1048.5" y="241.7"/>
<use href="#g22" x="1102.6" y="252.1"/>
<use href="#k24" x="1052.4" y="269.0"/>
<use href="#r24" x="1005.9" y="286.5"/>
<use href="#g22" x="1062.3" y="304.6"/>
<use href="#g22" x="1007.9" y="259.4"/>
<use href="#r24" x="971.9" y="243.3"/>
<use href="#g24" x="1049.9" y="278.4"/>
<use href="#g26" x="1092.7" y="225.0"/>
<use href="#g26" x="1006.4" y="207.4"/>
<use href="#r26" x="1054.1" y="184.4"/>
<use href="#r26" x="1024.2" y="260.1"/>
<use href="#k26" x="1038.7" y="191.9"/>
<use href="#g26" x="1108.5" y="199.3"/>
<use href="#g24" x="1069.8" y="179.7"/>
<use href="#r26" x="1016.8" y="210.2"/>
<use href="#b24" x="1054.0" y="295.3"/>
<use href="#r24" x="985.2" y="202.8"/>
<use href="#g24" x="1002.8" y="174.0"/>
<use href="#k24" x="1045.1" y="161.2"/>
<use href="#r26" x="1024.4" y="293.2"/>
<use href="#r24" x="996.8" y="240.0"/>
<use href="#r26" x="1029.1" y="296.5"/>
<use href="#r24" x="1097.0" y="244.5"/>
<use href="#k24" x="1075.0" y="238.9"/>
<use href="#b26" x="1054.7" y="320.7"/>
<use href="#g26" x="1072.7" y="292.9"/>
<use href="#r22" x="946.9" y="263.2"/>
<use href="#r24" x="990.9" y="282.8"/>
<use href="#r26" x="1026.4" y="231.6"/>
<use href="#r26" x="960.3" y="173.8"/>
<use href="#k26" x="1056.2" y="247.8"/>
<use href="#r22" x="1008.4" y="243.8"/>
<use href="#r24" x="1037.4" y="282.8"/>
<use href="#b22" x="941.4" y="283.6"/>
<use href="#r22" x="1073.6" y="214.7"/>
<use href="#r24" x="999.7" y="280.9"/>
<use href="#k22" x="1028.0" y="172.3"/>
<use href="#g24" x="1037.3" y="245.6"/>
<use href="#r24" x="1041.1" y="158.5"/>
<use href="#r22" x="1003.3" y="287.8"/>
<use href="#r26" x="1027.5" y="265.1"/>
<use href="#b26" x="1010.9" y="237.5"/>
<use href="#r22" x="1005.0" y="214.7"/>
<use href="#b26" x="975.4" y="251.8"/>
<use href="#g26" x="1107.0" y="295.4"/>
<use href="#g22" x="988.9" y="306.3"/>
<use href="#r22" x="1035.1" y="269.8"/>
<use href="#r26" x="1011.4" y="254.2"/>
<use href="#b24" x="1023.6" y="315.7"/>
<use href="#g26" x="1036.4" y="340.3"/>
<use href="#r24" x="1021.6" y="234.6"/>
<use href="#g22" x="1086.0" y="202.7"/>
<use href="#r26" x="1041.5" y="215.8"/>
<use href="#b26" x="999.1" y="319.2"/>
<use href="#r26" x="1010.3" y="197.8"/>
<use href="#r26" x="975.8" y="339.6"/>
<use href="#k24" x="1047.2" y="258.9"/>
<use href="#r24" x="1018.6" y="241.8"/>
<use href="#k22" x="1015.3" y="274.4"/>
<use href="#b22" x="969.9" y="257.4"/>
<use href="#r22" x="1000.3" y="242.1"/>
<use href="#r22" x="1004.3" y="214.9"/>
<use href="#r24" x="966.5" y="304.1"/>
<use href="#g26" x="1025.7" y="219.9"/>
<use href="#r24" x="927.8" y="264.5"/>
<use href="#g22" x="1016.9" y="289.0"/>
<use href="#r22" x="1024.3" y="294.5"/>
<use href="#r22" x="1064.2" y="286.5"/>
<use href="#k24" x="1002.4" y="268.8"/>
<use href="#r24" x="999.3" y="338.1"/>
<use href="#r24" x="946.9" y="227.8"/>
<use href="#k26" x="1048.4" y="228.4"/>
<use href="#k26" x="948.3" y="195.5"/>
<use href="#r24" x="1069.1" y="225.5"/>
<use href="#g26" x="1041.7" y="236.3"/>
<use href="#g24" x="1099.6" y="255.0"/>
<use href="#r24" x="999.6" y="310.5"/>
<use href="#r22" x="963.8" y="283.4"/>
<use href="#k24" x="987.0" y="189.9"/>
<use href="#g24" x="1050.2" y="218.4"/>
<use href="#k26" x="1017.5" y="197.7"/>
<use href="#k26" x="1043.8" y="281.8"/>
<use href="#r26" x="1003.3" y="299.2"/>
<use href="#r22" x="924.5" y="253.8"/>
<use href="#r22" x="944.2" y="264.6"/>
<use href="#r24" x="1052.0" y="229.2"/>
<use href="#r22" x="950.6" y="296.1"/>
<use href="#g26" x="1019.4" y="271.0"/>
<use href="#r24" x="969.1" y="171.7"/>
<use href="#r22" x="926.0" y="233.4"/>
<use href="#g22" x="1028.7" y="301.4"/>
<use href="#b26" x="961.2" y="313.5"/>
<use href="#r22" x="983.4" y="174.5"/>
<use href="#r24" x="974.6" y="242.2"/>
<use href="#g22" x="1015.9" y="215.3"/>
<use href="#r24" x="981.3" y="307.3"/>
<use href="#k22" x="1007.9" y="318.3"/>
<use href="#g22" x="1065.4" y="299.7"/>
<use href="#r26" x="1009.1" y="269.6"/>
<use href="#r22" x="956.2" y="358.6"/>
<use href="#g26" x="1070.3" y="271.2"/>
<use href="#g22" x="1084.3" y="256.0"/>
<use href="#b26" x="1028.1" y="283.4"/>
<use href="#k22" x="1002.9" y="268.5"/>
<use href="#g26" x="1074.8" y="255.3"/>
<use href="#r24" x="980.3" y="267.5"/>
<use href="#g22" x="982.3" y="233.9"/>
<use href="#g24" x="1032.0" y="235.4"/>
<use href="#r22" x="1003.1" y="248.9"/>
<use href="#g22" x="1009.9" y="275.9"/>
<use href="#k22" x="990.6" y="236.5"/>
<use href="#g24" x="1069.6" y="212.4"/>
<use href="#r24" x="1059.8" y="324.8"/>
<use href="#r26" x="1027.5" y="241.1"/>
<use href="#k22" x="1008.2" y="278.2"/>
<use href="#g22" x="1020.5" y="290.9"/>
<use href="#r22" x="1089.3" y="213.8"/>
<use href="#r26" x="1065.2" y="223.6"/>
<use href="#r26" x="1029.7" y="289.6"/>
<use href="#r22" x="977.4" y="259.5"/>
<use href="#g26" x="1009.9" y="212.1"/>
<use href="#g26" x="1081.7" y="216.2"/>
<use href="#k24" x="1013.7" y="227.4"/>
<use href="#g24" x="1012.6" y="186.0"/>
<use href="#r22" x="1016.4" y="183.3"/>
<use href="#g26" x="1057.9" y="229.8"/>
<use href="#g22" x="1045.9" y="338.5"/>
<use href="#k24" x="1089.6" y="262.3"/>
<use href="#r22" x="978.8" y="254.3"/>
<use href="#r26" x="993.3" y="213.7"/>
<use href="#g26" x="1025.3" y="311.0"/>
<use href="#r26" x="991.6" y="274.4"/>
<use href="#b26" x="981.8" y="300.8"/>
<use href="#k26" x="1027.1" y="225.8"/>
<use href="#k24" x="994.1" y="245.8"/>
<use href="#r22" x="1035.0" y="214.8"/>
<use href="#k22" x="1011.8" y="282.6"/>
<use href="#r24" x="927.3" y="277.2"/>
<use href="#r22" x="1043.2" y="209.2"/>
<use href="#g26" x="1077.4" y="252.1"/>
<use href="#g26" x="1106.1" y="224.3"/>
<use href="#r24" x="1000.2" y="214.5"/>
<use href="#k22" x="1030.0" y="236.6"/>
<use href="#r24" x="948.4" y="209.4"/>
<use href="#k22" x="1057.7" y="176.5"/>
<use href="#r24" x="987.8" y="293.0"/>
<use href="#g22" x="1033.0" y="289.9"/>
<use href="#k22" x="964.1" y="173.6"/>
<use href="#r22" x="1009.4" y="312.0"/>
<use href="#g26" x="1030.2" y="218.7"/>
<use href="#r22" x="1069.0" y="213.5"/>
<use href="#r24" x="1015.2" y="214.5"/>
<use href="#r26" x="962.3" y="279.3"/>
<use href="#g24" x="1031.4" y="344.7"/>
<use href="#r22" x="1009.3" y="220.1"/>
<use href="#r22" x="982.4" y="168.8"/>
<use href="#k24" x="998.9" y="205.9"/>
<use href="#g22" x="1071.4" y="189.0"/>
<use href="#k22" x="1055.2" y="268.2"/>
<use href="#r22" x="1061.6" y="260.3"/>
<use href="#r22" x="1030.8" y="211.7"/>
<use href="#r22" x="1017.2" y="296.4"/>
<use href="#r24" x="1027.8" y="302.7"/>
<use href="#g26" x="1066.0" y="300.6"/>
<use href="#r24" x="990.4" y="161.8"/>
<use href="#r26" x="946.8" y="230.5"/>
<use href="#b26" x="944.2" y="298.0"/>
<use href="#g26" x="1075.3" y="290.9"/>
<use href="#k26" x="971.0" y="261.4"/>
<use href="#g22" x="1022.5" y="259.8"/>
<use href="#b24" x="1011.5" y="341.4"/>
<use href="#g24" x="1059.3" y="306.8"/>
<use href="#r22" x="988.9" y="267.1"/>
<use href="#r24" x="971.1" y="257.1"/>
<use href="#r24" x="993.1" y="230.3"/>
<use href="#b26" x="1013.8" y="329.2"/>
<use href="#r24" x="1032.7" y="187.2"/>
<use href="#b24" x="965.4" y="254.0"/>
<use href="#r22" x="1057.6" y="285.8"/>
<use href="#k24" x="991.6" y="158.5"/>
<use href="#g24" x="1050.6" y="235.0"/>
<use href="#r26" x="1013.9" y="302.0"/>
<use href="#r22" x="1022.3" y="229.0"/>
<use href="#g24" x="1034.0" y="310.6"/>
<use href="#r24" x="968.1" y="172.4"/>
<use href="#r24" x="1056.7" y="227.3"/>
<use href="#r22" x="1016.3" y="259.0"/>
<use href="#b26" x="1035.2" y="370.1"/>
<use href="#g24" x="1015.3" y="274.3"/>
<use href="#g24" x="1062.4" y="216.9"/>
<use href="#r26" x="1067.4" y="254.3"/>
<use href="#r26" x="995.6" y="228.0"/>
<use href="#r26" x="944.9" y="319.7"/>
<use href="#g26" x="1074.4" y="193.7"/>
<use href="#g26" x="1090.6" y="222.2"/>
<use href="#g26" x="1005.7" y="285.6"/>
<use href="#b24" x="971.5" y="320.5"/>
<use href="#r26" x="1058.0" y="278.8"/>
<use href="#g26" x="1078.0" y="176.7"/>
<use href="#k22" x="1058.0" y="193.6"/>
<use href="#r22" x="987.5" y="220.6"/>
<use href="#r22" x="1094.0" y="241.6"/>
<use href="#r22" x="969.9" y="192.8"/>
<use href="#b26" x="962.7" y="263.2"/>
<use href="#r22" x="1016.7" y="284.3"/>
<use href="#r24" x="1023.4" y="306.5"/>
<use href="#r22" x="1013.9" y="260.0"/>
<use href="#r22" x="1048.2" y="198.7"/>
<use href="#k22" x="1027.6" y="163.8"/>
<use href="#g24" x="1037.0" y="220.3"/>
<use href="#r26" x="1022.4" y="240.8"/>
<use href="#g22" x="1077.7" y="216.2"/>
<use href="#g22" x="1019.8" y="235.8"/>
<use href="#b22" x="1005.3" y="252.4"/>
<use href="#r26" x="992.4" y="317.1"/>
<use href="#g24" x="1041.2" y="303.3"/>
<use href="#k22" x="1053.1" y="230.4"/>
<use href="#r22" x="1067.9" y="179.9"/>
<use href="#r26" x="919.9" y="245.6"/>
<use href="#k22" x="965.3" y="208.2"/>
<use href="#r24" x="1016.6" y="311.7"/>
<use href="#g22" x="1045.8" y="244.9"/>
<use href="#r22" x="1011.5" y="242.1"/>
<use href="#r24" x="1024.4" y="312.5"/>
<use href="#g22" x="1049.0" y="250.7"/>
<use href="#r24" x="1066.6" y="279.1"/>
<use href="#r24" x="1016.7" y="293.6"/>
<use href="#r22" x="1028.8" y="241.6"/>
<use href="#r26" x="1064.8" y="296.1"/>
<use href="#g24" x="1097.0" y="267.4"/>
<use href="#k26" x="1034.5" y="155.3"/>
<use href="#g24" x="1093.1" y="242.0"/>
<use href="#b22" x="965.7" y="274.5"/>
<use href="#g26" x="1056.8" y="287.4"/>
<use href="#g24" x="991.1" y="308.9"/>
<use href="#r22" x="1061.0" y="238.3"/>
<use href="#b22" x="1003.4" y="319.4"/>
<use href="#b22" x="1020.3" y="335.3"/>
<use href="#b24" x="958.4" y="258.2"/>
<use href="#k26" x="1009.9" y="199.3"/>
<use href="#r26" x="997.5" y="181.8"/>
<use href="#r22" x="976.1" y="284.4"/>
<use href="#k24" x="1039.7" y="172.4"/>
<use href="#r24" x="1009.7" y="201.3"/>
<use href="#r22" x="1000.7" y="243.4"/>
<use href="#r24" x="1034.9" y="207.8"/>
<use href="#g22" x="1035.3" y="275.0"/>
<use href="#k22" x="998.2" y="173.9"/>
<use href="#b24" x="998.7" y="346.5"/>
<use href="#r24" x="1056.1" y="304.6"/>
<use href="#r22" x="953.3" y="195.9"/>
<use href="#r24" x="984.2" y="256.3"/>
<use href="#g22" x="1087.2" y="237.1"/>
<use href="#g26" x="1000.1" y="201.9"/>
<use href="#g24" x="1074.9" y="344.5"/>
<use href="#r26" x="1030.9" y="211.3"/>
<use href="#r22" x="997.6" y="348.5"/>
<use href="#r26" x="1058.6" y="281.9"/>
<use href="#k22" x="981.6" y="228.2"/>
<use href="#g22" x="1018.0" y="189.1"/>
<use href="#g22" x="1090.6" y="205.6"/>
<use href="#r26" x="1029.2" y="201.6"/>
<use href="#r24" x="1029.4" y="231.4"/>
<use href="#b24" x="1021.8" y="301.0"/>
<use href="#k22" x="1074.5" y="171.0"/>
<use href="#b22" x="979.0" y="273.6"/>
<use href="#k24" x="965.3" y="275.8"/>
<use href="#g22" x="1028.1" y="213.1"/>
<use href="#g24" x="1049.8" y="175.3"/>
<use href="#b26" x="1001.2" y="259.7"/>
<use href="#g24" x="1112.2" y="242.0"/>
<use href="#r22" x="986.3" y="282.6"/>
<use href="#r26" x="1004.6" y="230.3"/>
<use href="#r22" x="1022.1" y="306.3"/>
<use href="#r26" x="917.2" y="290.1"/>
<use href="#r24" x="974.1" y="185.1"/>
<use href="#r26" x="959.0" y="238.4"/>
<use href="#b22" x="992.6" y="289.2"/>
<use href="#g24" x="1062.0" y="190.9"/>
<use href="#r22" x="1006.7" y="343.7"/>
<use href="#k26" x="1036.1" y="279.1"/>
<use href="#r24" x="1027.5" y="183.0"/>
<use href="#r24" x="1025.9" y="312.5"/>
<use href="#r26" x="1025.6" y="245.6"/>
<use href="#g22" x="1069.0" y="241.4"/>
<use href="#b26" x="988.2" y="303.1"/>
<use href="#r22" x="1043.5" y="331.1"/>
<use href="#g22" x="1058.0" y="222.7"/>
<use href="#r24" x="1017.7" y="233.8"/>
<use href="#r22" x="1012.6" y="279.9"/>
<use href="#r24" x="1007.5" y="179.9"/>
<use href="#k26" x="1084.8" y="275.9"/>
<use href="#r22" x="977.6" y="293.9"/>
<use href="#r24" x="1066.2" y="284.6"/>
<use href="#b26" x="988.0" y="261.1"/>
<use href="#g24" x="1034.6" y="260.3"/>
<use href="#g24" x="1046.0" y="323.1"/>
<use href="#r26" x="971.3" y="319.4"/>
<use href="#g24" x="1055.0" y="150.6"/>
<use href="#r22" x="1016.9" y="231.0"/>
<use href="#r22" x="972.0" y="312.1"/>
<use href="#r24" x="1021.8" y="245.7"/>
<use href="#r22" x="1018.3" y="225.9"/>
<use href="#k22" x="1081.1" y="271.7"/>
<use href="#r22" x="1029.3" y="226.8"/>
<use href="#b22" x="964.9" y="314.6"/>
<use href="#k22" x="971.4" y="219.7"/>
<use href="#g22" x="1120.7" y="253.1"/>
<use href="#r26" x="1058.1" y="218.3"/>
<use href="#r26" x="956.0" y="286.9"/>
<use href="#r24" x="1020.2" y="297.7"/>
<use href="#r26" x="1025.2" y="207.8"/>
<use href="#k22" x="1023.1" y="313.4"/>
<use href="#r24" x="940.8" y="203.7"/>
<use href="#r26" x="982.9" y="198.5"/>
<use href="#g26" x="1023.1" y="251.3"/>
<use href="#b26" x="1065.0" y="289.2"/>
<use href="#b22" x="1017.0" y="310.4"/>
<use href="#g24" x="1015.3" y="243.0"/>
<use href="#r22" x="1009.3" y="199.4"/>
<use href="#r26" x="1009.8" y="255.1"/>
<use href="#b24" x="964.8" y="297.3"/>
<use href="#r22" x="1029.6" y="207.7"/>
<use href="#r26" x="1016.9" y="265.1"/>
<use href="#g22" x="1039.3" y="285.0"/>
<use href="#r26" x="1064.1" y="214.7"/>
<use href="#g24" x="1098.2" y="265.6"/>
<use href="#r22" x="1000.5" y="343.0"/>
<use href="#b24" x="982.1" y="243.3"/>
<use href="#r26" x="1038.4" y="270.7"/>
<use href="#r24" x="1013.0" y="240.2"/>
<use href="#b24" x="1021.6" y="343.5"/>
<use href="#r24" x="986.7" y="286.1"/>
<use href="#r24" x="967.7" y="224.2"/>
<use href="#g26" x="1049.0" y="215.0"/>
<use href="#r26" x="1009.1" y="241.9"/>
<use href="#r24" x="1073.1" y="197.4"/>
<use href="#r22" x="1045.5" y="196.8"/>
<use href="#r24" x="993.5" y="261.6"/>
<use href="#r22" x="1008.7" y="252.5"/>
<use href="#b26" x="1032.1" y="269.6"/>
<use href="#k24" x="996.0" y="301.9"/>
<use href="#g22" x="1043.8" y="194.3"/>
<use href="#g24" x="1090.5" y="238.5"/>
<use href="#r26" x="955.7" y="218.7"/>
<use href="#r26" x="993.9" y="205.8"/>
<use href="#r26" x="1023.4" y="234.7"/>
<use href="#g22" x="1061.1" y="265.0"/>
<use href="#r26" x="1026.6" y="277.6"/>
<use href="#b22" x="968.1" y="337.9"/>
<use href="#g26" x="1049.8" y="229.3"/>
<use href="#k26" x="1022.5" y="215.8"/>
<use href="#r22" x="1052.6" y="240.2"/>
<use href="#g22" x="1062.5" y="239.9"/>
<use href="#k24" x="1073.7" y="253.1"/>
<use href="#r22" x="1039.2" y="173.1"/>
<use href="#g26" x="1095.8" y="237.8"/>
<use href="#r22" x="1085.3" y="252.0"/>
<use href="#k22" x="976.4" y="192.9"/>
<use href="#r24" x="1013.8" y="170.4"/>
<use href="#b24" x="1029.2" y="290.5"/>
<use href="#k24" x="990.1" y="311.5"/>
<use href="#g24" x="1045.4" y="269.6"/>
<use href="#r24" x="1006.6" y="189.3"/>
<use href="#r24" x="1017.0" y="168.0"/>
<use href="#b22" x="1040.9" y="328.3"/>
<use href="#b26" x="1037.8" y="269.3"/>
<use href="#g22" x="1094.7" y="240.5"/>
<use href="#k24" x="1056.2" y="237.3"/>
<use href="#g24" x="1089.7" y="272.4"/>
<use href="#r22" x="955.9" y="259.3"/>
<use href="#r24" x="1061.1" y="290.8"/>
<use href="#r24" x="1006.1" y="219.8"/>
<use href="#r22" x="1076.9" y="256.7"/>
<use href="#r24" x="1053.8" y="250.6"/>
<use href="#r26" x="980.0" y="318.5"/>
<use href="#r26" x="1032.8" y="223.6"/>
<use href="#r22" x="1032.9" y="178.5"/>
<use href="#r22" x="990.8" y="282.3"/>
<use href="#r24" x="929.9" y="288.0"/>
<use href="#r24" x="998.9" y="246.2"/>
<use href="#g24" x="1067.6" y="261.2"/>
<use href="#r26" x="945.0" y="318.3"/>
<use href="#r24" x="1069.4" y="311.5"/>
<use href="#r22" x="1011.6" y="211.9"/>
<use href="#r22" x="982.0" y="183.9"/>
<use href="#r22" x="959.3" y="314.1"/>
<use href="#g24" x="1021.8" y="216.0"/>
<use href="#r24" x="958.7" y="262.0"/>
<use href="#k22" x="1077.5" y="237.7"/>
<use href="#r22" x="961.5" y="238.8"/>
<use href="#g26" x="1101.9" y="299.9"/>
<use href="#r24" x="1077.7" y="275.8"/>
<use href="#k24" x="1044.5" y="291.6"/>
<use href="#r26" x="990.8" y="217.0"/>
<use href="#r26" x="1018.1" y="258.6"/>
<use href="#r22" x="1016.2" y="250.7"/>
<use href="#r26" x="958.4" y="309.4"/>
<use href="#g24" x="1030.1" y="171.2"/>
<use href="#k24" x="1022.0" y="198.8"/>
<use href="#r22" x="1042.4" y="178.4"/>
<use href="#g26" x="1093.0" y="235.5"/>
<use href="#k26" x="998.7" y="309.4"/>
<use href="#g26" x="1022.3" y="287.4"/>
<use href="#r24" x="976.7" y="236.7"/>
<use href="#b24" x="1027.8" y="330.6"/>
<use href="#r24" x="1045.4" y="272.1"/>
<use href="#b22" x="940.1" y="264.9"/>
<use href="#r22" x="1049.1" y="292.6"/>
<use href="#g24" x="1100.3" y="255.0"/>
<use href="#r22" x="1016.0" y="278.8"/>
<use href="#k26" x="1133.2" y="268.7"/>
<use href="#g22" x="1011.4" y="271.7"/>
<use href="#r24" x="1019.7" y="212.4"/>
<use href="#r24" x="1076.6" y="273.5"/>
<use href="#g22" x="1083.4" y="174.8"/>
<use href="#r24" x="988.0" y="278.9"/>
<use href="#g22" x="1031.9" y="245.5"/>
<use href="#k22" x="961.9" y="254.4"/>
<use href="#k26" x="964.2" y="191.8"/>
<use href="#r22" x="1014.8" y="219.2"/>
<use href="#b22" x="984.3" y="273.2"/>
<use href="#b26" x="1018.2" y="283.8"/>
<use href="#r26" x="996.0" y="265.2"/>
<use href="#r24" x="1080.4" y="281.3"/>
<use href="#k22" x="1023.1" y="185.9"/>
<use href="#k26" x="1006.4" y="268.3"/>
<use href="#r24" x="998.6" y="226.8"/>
<use href="#r26" x="1055.8" y="253.6"/>
<use href="#r24" x="1077.3" y="228.2"/>
<use href="#r22" x="1020.4" y="261.2"/>
<use href="#r26" x="1012.2" y="271.0"/>
<use href="#g24" x="1061.1" y="225.5"/>
<use href="#g26" x="1048.0" y="301.0"/>
<use href="#r26" x="1030.8" y="324.1"/>
<use href="#r26" x="1007.1" y="251.5"/>
<use href="#r26" x="971.1" y="207.3"/>
<use href="#r22" x="972.7" y="244.9"/>
<use href="#r26" x="946.0" y="294.6"/>
<use href="#r24" x="1023.9" y="319.0"/>
<use href="#r24" x="1065.2" y="244.5"/>
<use href="#r22" x="1001.0" y="262.3"/>
<use href="#r22" x="1039.3" y="179.5"/>
<use href="#k26" x="983.2" y="224.2"/>
<use href="#r22" x="1055.5" y="181.1"/>
<use href="#r22" x="993.9" y="250.3"/>
<use href="#r24" x="1030.5" y="326.5"/>
<use href="#r24" x="1036.2" y="207.4"/>
<use href="#r24" x="947.8" y="258.5"/>
<use href="#g26" x="1039.1" y="227.8"/>
<use href="#g26" x="1063.4" y="197.2"/>
<use href="#g22" x="1018.9" y="312.4"/>
<use href="#r26" x="1021.7" y="228.0"/>
<use href="#r24" x="953.2" y="234.4"/>
<use href="#g26" x="1068.3" y="190.8"/>
<use href="#r24" x="981.0" y="280.6"/>
<use href="#r22" x="1054.2" y="261.4"/>
<use href="#r24" x="1009.4" y="257.0"/>
<use href="#r24" x="1044.5" y="270.9"/>
<use href="#r22" x="1086.8" y="267.2"/>
<use href="#r26" x="1019.1" y="246.8"/>
<use href="#r22" x="991.6" y="349.7"/>
<use href="#k26" x="966.7" y="225.1"/>
<use href="#r26" x="950.2" y="291.6"/>
<use href="#g24" x="1041.2" y="315.1"/>
<use href="#g24" x="1033.7" y="272.2"/>
<use href="#r26" x="980.5" y="251.6"/>
<use href="#r26" x="1035.4" y="175.8"/>
<use href="#r26" x="1049.6" y="249.6"/>
<use href="#k22" x="948.9" y="237.8"/>
<use href="#g22" x="985.4" y="286.1"/>
<use href="#r22" x="991.5" y="305.5"/>
<use href="#g26" x="1046.5" y="197.6"/>
<use href="#r22" x="970.6" y="291.0"/>
<use href="#r26" x="1024.3" y="341.1"/>
<use href="#r26" x="997.5" y="262.9"/>
<use href="#g24" x="1031.0" y="189.1"/>
<use href="#r26" x="991.6" y="276.6"/>
<use href="#r22" x="999.0" y="322.3"/>
<use href="#r22" x="1074.1" y="196.9"/>
<use href="#g22" x="1022.6" y="187.0"/>
<use href="#r26" x="984.8" y="282.6"/>
<use href="#r26" x="976.6" y="307.6"/>
<use href="#r22" x="1004.8" y="219.3"/>
<use href="#k26" x="1062.3" y="266.8"/>
<use href="#r22" x="1044.5" y="218.9"/>
<use href="#r26" x="1028.9" y="331.9"/>
<use href="#g26" x="1057.7" y="300.1"/>
<use href="#r26" x="954.3" y="275.3"/>
<use href="#r24" x="1030.1" y="201.8"/>
<use href="#r22" x="925.4" y="262.5"/>
<use href="#g26" x="1036.7" y="230.1"/>
<use href="#g24" x="1107.8" y="269.4"/>
<use href="#r26" x="1046.8" y="274.3"/>
<use href="#k24" x="1026.0" y="244.5"/>
<use href="#r24" x="1017.3" y="213.8"/>
<use href="#k24" x="1016.0" y="221.2"/>
<use href="#k22" x="993.2" y="223.8"/>
<use href="#r22" x="1019.4" y="312.2"/>
<use href="#k26" x="994.8" y="288.3"/>
<use href="#k22" x="1009.6" y="198.1"/>
<use href="#k24" x="1033.9" y="196.8"/>
<use href="#r24" x="1008.7" y="236.6"/>
<use href="#g26" x="1025.7" y="204.7"/>
<use href="#g24" x="1036.1" y="226.9"/>
<use href="#g22" x="1021.7" y="264.9"/>
<use href="#r26" x="992.9" y="254.1"/>
<use href="#k22" x="987.7" y="283.6"/>
<use href="#g26" x="1073.6" y="300.5"/>
<use href="#r22" x="1050.4" y="270.6"/>
<use href="#g24" x="1061.9" y="225.2"/>
<use href="#g26" x="1041.6" y="340.9"/>
<use href="#r26" x="1009.1" y="207.7"/>
<use href="#k26" x="1022.3" y="164.2"/>
<use href="#r26" x="1048.6" y="188.6"/>
<use href="#r24" x="1015.1" y="218.9"/>
<use href="#r26" x="999.9" y="248.9"/>
<use href="#r26" x="1037.7" y="299.6"/>
<use href="#g24" x="1061.2" y="170.6"/>
<use href="#r24" x="951.8" y="241.6"/>
<use href="#r24" x="1037.2" y="228.5"/>
<use href="#g26" x="1063.7" y="260.5"/>
<use href="#r24" x="1049.0" y="283.2"/>
<use href="#r22" x="1017.5" y="192.6"/>
<use href="#r22" x="968.5" y="313.7"/>
<use href="#g22" x="1039.8" y="253.9"/>
<use href="#g22" x="1021.5" y="263.2"/>
<use href="#r22" x="993.6" y="219.6"/>
<use href="#r22" x="990.0" y="157.4"/>
<use href="#r24" x="979.0" y="233.9"/>
<use href="#r26" x="1055.7" y="180.0"/>
<use href="#r26" x="1058.3" y="197.4"/>
<use href="#g22" x="1041.2" y="172.8"/>
<use href="#r24" x="1060.7" y="249.0"/>
<use href="#r24" x="991.6" y="285.2"/>
<use href="#k24" x="973.8" y="324.0"/>
<use href="#r24" x="1073.1" y="222.4"/>
<use href="#g26" x="1090.4" y="306.9"/>
<use href="#r22" x="988.7" y="278.8"/>
<use href="#g26" x="1089.3" y="290.0"/>
<use href="#g24" x="1034.5" y="259.3"/>
<use href="#g22" x="1056.7" y="322.1"/>
<use href="#g26" x="986.4" y="292.3"/>
<use href="#r24" x="935.0" y="241.5"/>
<use href="#g24" x="1061.2" y="241.2"/>
<use href="#r22" x="972.0" y="262.0"/>
<use href="#g24" x="1071.3" y="334.0"/>
<use href="#r26" x="1002.1" y="246.6"/>
<use href="#r22" x="985.8" y="225.4"/>
<use href="#r26" x="954.0" y="320.9"/>
<use href="#k26" x="1016.0" y="320.4"/>
<use href="#r22" x="1013.1" y="248.4"/>
<use href="#k22" x="1015.0" y="311.8"/>
<use href="#g24" x="1043.2" y="282.5"/>
<use href="#g26" x="1084.3" y="240.6"/>
<use href="#k22" x="1002.3" y="282.6"/>
<use href="#r22" x="1040.7" y="195.8"/>
<use href="#g26" x="1050.3" y="269.2"/>
<use href="#g26" x="1084.0" y="256.8"/>
<use href="#r22" x="1012.3" y="239.1"/>
<use href="#r22" x="990.5" y="312.3"/>
<use href="#r24" x="1022.6" y="260.6"/>
<use href="#g22" x="1087.8" y="294.5"/>
<use href="#r26" x="1026.1" y="181.2"/>
<use href="#r22" x="1075.4" y="252.1"/>
<use href="#r26" x="1076.2" y="245.5"/>
<use href="#r26" x="1034.4" y="193.8"/>
<use href="#r26" x="958.2" y="298.2"/>
<use href="#g22" x="1071.3" y="284.8"/>
<use href="#g26" x="1034.2" y="287.9"/>
<use href="#r24" x="992.5" y="277.8"/>
<use href="#r24" x="1007.3" y="191.9"/>
<use href="#r26" x="991.7" y="278.7"/>
<use href="#k26" x="971.3" y="207.0"/>
<use href="#g26" x="1010.6" y="183.1"/>
<use href="#r24" x="962.0" y="208.7"/>
<use href="#r26" x="1022.4" y="260.5"/>
<use href="#r24" x="1001.6" y="257.3"/>
<use href="#g26" x="1054.8" y="291.5"/>
<use href="#r22" x="1058.8" y="226.7"/>
<use href="#r26" x="979.6" y="250.9"/>
<use href="#r26" x="973.9" y="204.9"/>
<use href="#r22" x="966.1" y="309.4"/>
<use href="#r26" x="1015.0" y="297.5"/>
<use href="#r24" x="1012.6" y="238.2"/>
<use href="#g24" x="1035.1" y="238.0"/>
<use href="#r24" x="963.1" y="277.9"/>
<use href="#r24" x="1041.2" y="221.4"/>
<use href="#g22" x="1049.1" y="167.2"/>
<use href="#r26" x="1041.6" y="186.5"/>
<use href="#g24" x="1030.0" y="285.8"/>
<use href="#r24" x="951.7" y="220.5"/>
<use href="#r22" x="1002.8" y="288.2"/>
<use href="#g26" x="1051.2" y="199.4"/>
<use href="#r26" x="955.6" y="294.2"/>
<use href="#r24" x="969.5" y="274.7"/>
<use href="#r22" x="1080.6" y="247.4"/>
<use href="#g26" x="1039.2" y="292.6"/>
<use href="#r22" x="1043.5" y="261.5"/>
<use href="#g22" x="1053.1" y="310.8"/>
<use href="#r22" x="935.0" y="209.2"/>
<use href="#g26" x="1043.4" y="280.6"/>
<use href="#g26" x="1067.4" y="286.3"/>
<use href="#g24" x="1079.1" y="239.2"/>
<use href="#g24" x="1012.7" y="295.8"/>
<use href="#r22" x="1049.2" y="251.9"/>
<use href="#g24" x="1052.8" y="301.3"/>
<use href="#g24" x="1076.9" y="296.8"/>
<use href="#g26" x="1028.3" y="252.7"/>
<use href="#r26" x="1039.3" y="203.6"/>
<use href="#r26" x="997.8" y="233.1"/>
<use href="#g22" x="1012.8" y="244.8"/>
<use href="#g26" x="1024.8" y="341.4"/>
<use href="#g26" x="1024.8" y="291.5"/>
<use href="#r24" x="974.7" y="229.8"/>
<use href="#r26" x="1040.3" y="271.8"/>
<use href="#g22" x="1067.6" y="302.7"/>
<use href="#r24" x="1027.1" y="241.4"/>
<use href="#r26" x="1023.1" y="237.5"/>
<use href="#r26" x="965.9" y="260.4"/>
<use href="#r22" x="987.5" y="285.6"/>
<use href="#r26" x="1057.7" y="214.6"/>
<use href="#r22" x="978.8" y="280.3"/>
<use href="#g22" x="1044.6" y="218.0"/>
<use href="#g24" x="1013.8" y="295.4"/>
<use href="#g24" x="1033.0" y="312.0"/>
<use href="#r26" x="1085.2" y="256.9"/>
<use href="#r24" x="1068.5" y="270.8"/>
<use href="#r26" x="1068.1" y="211.6"/>
<use href="#r26" x="997.1" y="233.4"/>
<use href="#g26" x="1056.1" y="209.5"/>
<use href="#g24" x="1010.8" y="294.9"/>
<use href="#r22" x="1041.3" y="270.6"/>
<use href="#r24" x="986.8" y="249.4"/>
<use href="#r26" x="992.6" y="201.0"/>
<use href="#r24" x="990.7" y="219.7"/>
<use href="#g22" x="1056.1" y="271.9"/>
<use href="#g24" x="1102.0" y="246.1"/>
<use href="#g26" x="1018.5" y="288.5"/>
<use href="#r26" x="969.8" y="257.6"/>
<use href="#g24" x="1016.6" y="301.5"/>
<use href="#g22" x="1058.9" y="279.0"/>
<use href="#g24" x="1115.6" y="236.2"/>
<use href="#r26" x="1023.1" y="291.6"/>
<use href="#g26" x="1063.9" y="154.5"/>
<use href="#g26" x="1062.2" y="158.3"/>
<use href="#g26" x="1098.6" y="289.6"/>
<use href="#g22" x="1038.9" y="302.7"/>
<use href="#g26" x="1108.2" y="262.4"/>
<use href="#g26" x="1011.2" y="209.7"/>
<use href="#r22" x="932.4" y="227.5"/>
<use href="#g24" x="1062.4" y="298.3"/>
<use href="#r22" x="998.9" y="245.5"/>
<use href="#r26" x="1002.2" y="258.8"/>
<use href="#r24" x="997.9" y="290.4"/>
<use href="#r26" x="999.2" y="185.3"/>
<use href="#r22" x="1096.2" y="263.0"/>
<use href="#r24" x="981.3" y="178.7"/>
<use href="#r22" x="1052.5" y="244.1"/>
<use href="#g24" x="1086.6" y="251.1"/>
<use href="#g24" x="1045.2" y="156.0"/>
<use href="#r22" x="1004.2" y="217.3"/>
<use href="#r22" x="1039.4" y="263.1"/>
<use href="#g22" x="1071.8" y="287.1"/>
<use href="#r22" x="967.1" y="261.3"/>
<use href="#r22" x="964.3" y="261.5"/>
<use href="#r26" x="922.0" y="329.2"/>
<use href="#r26" x="1015.7" y="305.9"/>
<use href="#r24" x="1035.3" y="235.2"/>
<use href="#r22" x="955.3" y="302.4"/>
<use href="#r26" x="967.4" y="335.9"/>
<use href="#g22" x="1033.6" y="234.5"/>
<use href="#r26" x="962.9" y="270.5"/>
<use href="#r24" x="1043.9" y="195.5"/>
<use href="#r22" x="1012.3" y="252.3"/>
<use href="#r22" x="1027.7" y="218.1"/>
<use href="#g26" x="1075.5" y="262.4"/>
<use href="#g22" x="1049.5" y="197.4"/>
<use href="#g22" x="1091.0" y="230.0"/>
<use href="#r24" x="1059.4" y="265.3"/>
<use href="#r22" x="975.8" y="311.0"/>
<use href="#r26" x="1021.8" y="295.9"/>
<use href="#r22" x="1049.2" y="246.8"/>
<use href="#g24" x="1066.0" y="170.8"/>
<use href="#r22" x="1052.4" y="270.2"/>
<use href="#g26" x="1092.0" y="328.0"/>
<use href="#r24" x="1008.5" y="246.7"/>
<use href="#r24" x="1062.0" y="220.6"/>
<use href="#r26" x="970.2" y="261.5"/>
<use href="#r24" x="967.8" y="324.7"/>
<use href="#r22" x="1039.8" y="290.5"/>
<use href="#r24" x="1012.6" y="212.2"/>
<use href="#r24" x="990.9" y="230.7"/>
<use href="#g22" x="1096.3" y="290.0"/>
<use href="#r26" x="1023.7" y="252.6"/>
<use href="#g22" x="1023.0" y="261.7"/>
<use href="#r26" x="1070.8" y="286.0"/>
<use href="#r26" x="1023.7" y="283.4"/>
<use href="#r26" x="965.9" y="257.6"/>
<use href="#r26" x="1022.0" y="206.2"/>
<use href="#r22" x="956.9" y="193.9"/>
<use href="#r22" x="1040.5" y="227.5"/>
<use href="#g24" x="1007.1" y="245.6"/>
<use href="#g24" x="1020.5" y="284.8"/>
<use href="#g22" x="1077.1" y="274.4"/>
<use href="#g24" x="1071.4" y="208.9"/>
<use href="#g26" x="1048.9" y="272.9"/>
<use href="#r26" x="1043.7" y="254.3"/>
<use href="#r26" x="1004.1" y="215.6"/>
<use href="#r22" x="992.9" y="250.1"/>
<use href="#g22" x="1067.7" y="295.5"/>
<use href="#r26" x="981.2" y="228.9"/>
<use href="#g22" x="1020.5" y="278.8"/>
<use href="#r22" x="940.1" y="319.7"/>
<use href="#g22" x="1022.1" y="216.7"/>
<use href="#r26" x="978.0" y="266.4"/>
<use href="#r24" x="997.8" y="217.5"/>
<use href="#g24" x="1077.1" y="264.7"/>
<use href="#g22" x="1049.7" y="222.2"/>
<use href="#r26" x="905.6" y="333.5"/>
<use href="#r24" x="972.0" y="286.0"/>
<use href="#k24" x="876.4" y="181.7"/>
<use href="#b24" x="879.7" y="237.6"/>
<use href="#k24" x="886.3" y="181.7"/>
<use href="#b24" x="899.5" y="316.6"/>
<use href="#b24" x="909.3" y="339.6"/>
<use href="#b24" x="935.7" y="165.3"/>
<use href="#k24" x="939.0" y="135.7"/>
<use href="#k24" x="965.3" y="85.0"/>
<use href="#k24" x="970.5" y="89.0"/>
<use href="#k24" x="985.0" y="120.5"/>
<use href="#k24" x="1001.4" y="102.8"/>
<use href="#k24" x="1013.0" y="118.0"/>
<use href="#k24" x="1030.0" y="125.0"/>
<use href="#k24" x="1036.3" y="116.0"/>
<use href="#b24" x="1087.0" y="382.4"/>
<use href="#b24" x="1100.0" y="398.8"/>
<use href="#r24" x="1126.4" y="333.0"/>
<use href="#k24" x="1129.7" y="319.9"/>
<use href="#k24" x="1136.3" y="227.8"/>
<line x1="40.5" y1="83.4" x2="54.6" y2="434.1" stroke="#1c1c1c" stroke-width="1.9" stroke-linecap="square"/>
<line x1="54.6" y1="434.1" x2="325.8" y2="533.9" stroke="#1c1c1c" stroke-width="1.9" stroke-linecap="square"/>
<line x1="325.8" y1="533.9" x2="541.5" y2="418.9" stroke="#1c1c1c" stroke-width="1.9" stroke-linecap="square"/>
<line x1="49.6" y1="434.4" x2="54.6" y2="434.1" stroke="#1c1c1c" stroke-width="1.5"/>
<line x1="47.7" y1="386.9" x2="52.7" y2="386.6" stroke="#1c1c1c" stroke-width="1.5"/>
<line x1="45.7" y1="338.6" x2="50.7" y2="338.3" stroke="#1c1c1c" stroke-width="1.5"/>
<line x1="43.7" y1="289.4" x2="48.7" y2="289.1" stroke="#1c1c1c" stroke-width="1.5"/>
<line x1="41.7" y1="239.3" x2="46.7" y2="239" stroke="#1c1c1c" stroke-width="1.5"/>
<line x1="39.7" y1="188.4" x2="44.7" y2="188.1" stroke="#1c1c1c" stroke-width="1.5"/>
<line x1="37.6" y1="136.5" x2="42.6" y2="136.2" stroke="#1c1c1c" stroke-width="1.5"/>
<line x1="35.5" y1="83.7" x2="40.5" y2="83.4" stroke="#1c1c1c" stroke-width="1.5"/>
<line x1="50.6" y1="410.7" x2="53.6" y2="410.5" stroke="#1c1c1c" stroke-width="1.3"/>
<line x1="48.7" y1="362.7" x2="51.7" y2="362.5" stroke="#1c1c1c" stroke-width="1.3"/>
<line x1="46.7" y1="314" x2="49.7" y2="313.8" stroke="#1c1c1c" stroke-width="1.3"/>
<line x1="44.7" y1="264.4" x2="47.7" y2="264.2" stroke="#1c1c1c" stroke-width="1.3"/>
<line x1="42.7" y1="213.9" x2="45.7" y2="213.7" stroke="#1c1c1c" stroke-width="1.3"/>
<line x1="40.6" y1="162.5" x2="43.6" y2="162.3" stroke="#1c1c1c" stroke-width="1.3"/>
<line x1="38.5" y1="110.2" x2="41.5" y2="110" stroke="#1c1c1c" stroke-width="1.3"/>
<line x1="61.7" y1="436.7" x2="56.4" y2="438.8" stroke="#1c1c1c" stroke-width="1.5"/>
<line x1="120.9" y1="458.5" x2="115.6" y2="460.7" stroke="#1c1c1c" stroke-width="1.5"/>
<line x1="184.3" y1="481.9" x2="179.1" y2="484.2" stroke="#1c1c1c" stroke-width="1.5"/>
<line x1="252.5" y1="506.9" x2="247.2" y2="509.5" stroke="#1c1c1c" stroke-width="1.5"/>
<line x1="325.8" y1="533.9" x2="320.7" y2="536.7" stroke="#1c1c1c" stroke-width="1.5"/>
<line x1="90.8" y1="447.4" x2="87.6" y2="448.7" stroke="#1c1c1c" stroke-width="1.3"/>
<line x1="152.1" y1="470" x2="148.9" y2="471.4" stroke="#1c1c1c" stroke-width="1.3"/>
<line x1="217.8" y1="494.2" x2="214.6" y2="495.6" stroke="#1c1c1c" stroke-width="1.3"/>
<line x1="288.5" y1="520.2" x2="285.4" y2="521.8" stroke="#1c1c1c" stroke-width="1.3"/>
<line x1="353.8" y1="519" x2="360" y2="521.3" stroke="#1c1c1c" stroke-width="1.5"/>
<line x1="406.3" y1="491" x2="412.4" y2="493.1" stroke="#1c1c1c" stroke-width="1.5"/>
<line x1="454.8" y1="465.2" x2="460.9" y2="467.1" stroke="#1c1c1c" stroke-width="1.5"/>
<line x1="499.7" y1="441.2" x2="505.7" y2="443" stroke="#1c1c1c" stroke-width="1.5"/>
<line x1="541.5" y1="418.9" x2="547.4" y2="420.6" stroke="#1c1c1c" stroke-width="1.5"/>
<line x1="325.8" y1="533.9" x2="329.6" y2="535.3" stroke="#1c1c1c" stroke-width="1.3"/>
<line x1="380.5" y1="504.8" x2="384.3" y2="506" stroke="#1c1c1c" stroke-width="1.3"/>
<line x1="431" y1="477.9" x2="434.7" y2="479" stroke="#1c1c1c" stroke-width="1.3"/>
<line x1="477.7" y1="453" x2="481.3" y2="454.1" stroke="#1c1c1c" stroke-width="1.3"/>
<line x1="521" y1="429.9" x2="524.5" y2="430.9" stroke="#1c1c1c" stroke-width="1.3"/>
<text transform="translate(44.8,440.3) scale(0.84,1)" text-anchor="end" font-size="21" font-family="Liberation Serif, serif" fill="#1c1c1c">-3</text>
<text transform="translate(42.9,392.4) scale(0.84,1)" text-anchor="end" font-size="21" font-family="Liberation Serif, serif" fill="#1c1c1c">-2</text>
<text transform="translate(40.9,343.7) scale(0.84,1)" text-anchor="end" font-size="21" font-family="Liberation Serif, serif" fill="#1c1c1c">-1</text>
<text transform="translate(38.9,294.1) scale(0.84,1)" text-anchor="end" font-size="21" font-family="Liberation Serif, serif" fill="#1c1c1c">0</text>
<text transform="translate(36.9,243.6) scale(0.84,1)" text-anchor="end" font-size="21" font-family="Liberation Serif, serif" fill="#1c1c1c">1</text>
<text transform="translate(34.9,192.2) scale(0.84,1)" text-anchor="end" font-size="21" font-family="Liberation Serif, serif" fill="#1c1c1c">2</text>
<text transform="translate(32.8,139.9) scale(0.84,1)" text-anchor="end" font-size="21" font-family="Liberation Serif, serif" fill="#1c1c1c">3</text>
<text transform="translate(30.7,84.9) scale(0.84,1)" text-anchor="end" font-size="21" font-family="Liberation Serif, serif" fill="#1c1c1c">4</text>
<text transform="matrix(16.2350,-6.2879,14.2176,5.3231,49.9,443.4)" text-anchor="middle" dy="0.33em" font-size="1" font-family="Liberation Serif, serif" fill="#1c1c1c">-4</text>
<text transform="matrix(16.1786,-6.7271,15.2134,5.6927,109.1,465.2)" text-anchor="middle" dy="0.33em" font-size="1" font-family="Liberation Serif, serif" fill="#1c1c1c">-2</text>
<text transform="matrix(16.0734,-7.2140,16.3177,6.1023,172.5,488.6)" text-anchor="middle" dy="0.33em" font-size="1" font-family="Liberation Serif, serif" fill="#1c1c1c">0</text>
<text transform="matrix(15.9090,-7.7561,17.5469,6.5582,240.7,513.6)" text-anchor="middle" dy="0.33em" font-size="1" font-family="Liberation Serif, serif" fill="#1c1c1c">2</text>
<text transform="matrix(15.6722,-8.3617,18.9207,7.0676,314.0,540.6)" text-anchor="middle" dy="0.33em" font-size="1" font-family="Liberation Serif, serif" fill="#1c1c1c">4</text>
<text transform="matrix(19.0185,6.7653,-14.7217,8.0023,368.3,524.8)" text-anchor="middle" dy="0.33em" font-size="1" font-family="Liberation Serif, serif" fill="#1c1c1c">-4</text>
<text transform="matrix(18.7448,6.2463,-13.5757,7.3852,420.8,496.8)" text-anchor="middle" dy="0.33em" font-size="1" font-family="Liberation Serif, serif" fill="#1c1c1c">-2</text>
<text transform="matrix(18.4574,5.7853,-12.5584,6.8372,469.3,471.0)" text-anchor="middle" dy="0.33em" font-size="1" font-family="Liberation Serif, serif" fill="#1c1c1c">0</text>
<text transform="matrix(18.1615,5.3739,-11.6511,6.3483,514.2,447.0)" text-anchor="middle" dy="0.33em" font-size="1" font-family="Liberation Serif, serif" fill="#1c1c1c">2</text>
<text transform="matrix(17.8612,5.0053,-10.8387,5.9103,556.0,424.7)" text-anchor="middle" dy="0.33em" font-size="1" font-family="Liberation Serif, serif" fill="#1c1c1c">4</text>
<text transform="matrix(15.5919,5.9822,-17.9173,7.9954,146.5,496.3)" text-anchor="middle" dy="0.33em" font-size="1" font-family="Liberation Serif, serif" fill="#1c1c1c">PC1 (84.2%)</text>
<text transform="matrix(12.7077,-7.1394,20.5440,6.5428,481.0,485.4)" text-anchor="middle" dy="0.33em" font-size="1" font-family="Liberation Serif, serif" fill="#1c1c1c">PC2 (10.9%)</text>
<text transform="translate(6.7,266.3) scale(0.74,1) rotate(90)" text-anchor="middle" font-size="21.4" font-family="Liberation Serif, serif" fill="#1c1c1c">PC3 (3.3%)</text>
<line x1="757" y1="83.4" x2="771.1" y2="434.1" stroke="#1c1c1c" stroke-width="1.9" stroke-linecap="square"/>
<line x1="771.1" y1="434.1" x2="1042.3" y2="533.9" stroke="#1c1c1c" stroke-width="1.9" stroke-linecap="square"/>
<line x1="1042.3" y1="533.9" x2="1258" y2="418.9" stroke="#1c1c1c" stroke-width="1.9" stroke-linecap="square"/>
<line x1="766.1" y1="434.4" x2="771.1" y2="434.1" stroke="#1c1c1c" stroke-width="1.5"/>
<line x1="764.4" y1="392.9" x2="769.4" y2="392.6" stroke="#1c1c1c" stroke-width="1.5"/>
<line x1="762.7" y1="350.7" x2="767.7" y2="350.4" stroke="#1c1c1c" stroke-width="1.5"/>
<line x1="761" y1="307.9" x2="766" y2="307.6" stroke="#1c1c1c" stroke-width="1.5"/>
<line x1="759.2" y1="264.5" x2="764.2" y2="264.2" stroke="#1c1c1c" stroke-width="1.5"/>
<line x1="757.5" y1="220.3" x2="762.5" y2="220" stroke="#1c1c1c" stroke-width="1.5"/>
<line x1="755.7" y1="175.5" x2="760.7" y2="175.2" stroke="#1c1c1c" stroke-width="1.5"/>
<line x1="753.8" y1="130" x2="758.8" y2="129.7" stroke="#1c1c1c" stroke-width="1.5"/>
<line x1="752" y1="83.7" x2="757" y2="83.4" stroke="#1c1c1c" stroke-width="1.5"/>
<line x1="767.2" y1="413.6" x2="770.2" y2="413.4" stroke="#1c1c1c" stroke-width="1.3"/>
<line x1="765.6" y1="371.8" x2="768.6" y2="371.6" stroke="#1c1c1c" stroke-width="1.3"/>
<line x1="763.9" y1="329.3" x2="766.9" y2="329.1" stroke="#1c1c1c" stroke-width="1.3"/>
<line x1="762.1" y1="286.2" x2="765.1" y2="286" stroke="#1c1c1c" stroke-width="1.3"/>
<line x1="760.4" y1="242.4" x2="763.4" y2="242.2" stroke="#1c1c1c" stroke-width="1.3"/>
<line x1="758.6" y1="197.9" x2="761.6" y2="197.7" stroke="#1c1c1c" stroke-width="1.3"/>
<line x1="756.7" y1="152.7" x2="759.7" y2="152.5" stroke="#1c1c1c" stroke-width="1.3"/>
<line x1="754.9" y1="106.9" x2="757.9" y2="106.7" stroke="#1c1c1c" stroke-width="1.3"/>
<line x1="771.1" y1="434.1" x2="765.7" y2="436.2" stroke="#1c1c1c" stroke-width="1.5"/>
<line x1="824.7" y1="453.9" x2="819.4" y2="456" stroke="#1c1c1c" stroke-width="1.5"/>
<line x1="881.9" y1="474.9" x2="876.6" y2="477.2" stroke="#1c1c1c" stroke-width="1.5"/>
<line x1="942.8" y1="497.3" x2="937.6" y2="499.8" stroke="#1c1c1c" stroke-width="1.5"/>
<line x1="1008" y1="521.3" x2="1002.8" y2="524" stroke="#1c1c1c" stroke-width="1.5"/>
<line x1="797.5" y1="443.8" x2="794.3" y2="445.1" stroke="#1c1c1c" stroke-width="1.3"/>
<line x1="852.8" y1="464.2" x2="849.7" y2="465.6" stroke="#1c1c1c" stroke-width="1.3"/>
<line x1="911.9" y1="485.9" x2="908.7" y2="487.4" stroke="#1c1c1c" stroke-width="1.3"/>
<line x1="974.9" y1="509.1" x2="971.7" y2="510.6" stroke="#1c1c1c" stroke-width="1.3"/>
<line x1="1042.3" y1="533.9" x2="1039.3" y2="535.6" stroke="#1c1c1c" stroke-width="1.3"/>
<line x1="1070.3" y1="519" x2="1076.5" y2="521.3" stroke="#1c1c1c" stroke-width="1.5"/>
<line x1="1122.8" y1="491" x2="1128.9" y2="493.1" stroke="#1c1c1c" stroke-width="1.5"/>
<line x1="1171.3" y1="465.2" x2="1177.4" y2="467.1" stroke="#1c1c1c" stroke-width="1.5"/>
<line x1="1216.2" y1="441.2" x2="1222.2" y2="443" stroke="#1c1c1c" stroke-width="1.5"/>
<line x1="1258" y1="418.9" x2="1263.9" y2="420.6" stroke="#1c1c1c" stroke-width="1.5"/>
<line x1="1042.3" y1="533.9" x2="1046.1" y2="535.3" stroke="#1c1c1c" stroke-width="1.3"/>
<line x1="1097" y1="504.8" x2="1100.8" y2="506" stroke="#1c1c1c" stroke-width="1.3"/>
<line x1="1147.5" y1="477.9" x2="1151.2" y2="479" stroke="#1c1c1c" stroke-width="1.3"/>
<line x1="1194.2" y1="453" x2="1197.8" y2="454.1" stroke="#1c1c1c" stroke-width="1.3"/>
<line x1="1237.5" y1="429.9" x2="1241" y2="430.9" stroke="#1c1c1c" stroke-width="1.3"/>
<text transform="translate(761.3,440.3) scale(0.84,1)" text-anchor="end" font-size="21" font-family="Liberation Serif, serif" fill="#1c1c1c">-4</text>
<text transform="translate(759.6,398.4) scale(0.84,1)" text-anchor="end" font-size="21" font-family="Liberation Serif, serif" fill="#1c1c1c">-3</text>
<text transform="translate(757.9,355.9) scale(0.84,1)" text-anchor="end" font-size="21" font-family="Liberation Serif, serif" fill="#1c1c1c">-2</text>
<text transform="translate(756.2,312.8) scale(0.84,1)" text-anchor="end" font-size="21" font-family="Liberation Serif, serif" fill="#1c1c1c">-1</text>
<text transform="translate(754.4,268.9) scale(0.84,1)" text-anchor="end" font-size="21" font-family="Liberation Serif, serif" fill="#1c1c1c">0</text>
<text transform="translate(752.7,224.4) scale(0.84,1)" text-anchor="end" font-size="21" font-family="Liberation Serif, serif" fill="#1c1c1c">1</text>
<text transform="translate(750.9,179.2) scale(0.84,1)" text-anchor="end" font-size="21" font-family="Liberation Serif, serif" fill="#1c1c1c">2</text>
<text transform="translate(749,133.3) scale(0.84,1)" text-anchor="end" font-size="21" font-family="Liberation Serif, serif" fill="#1c1c1c">3</text>
<text transform="translate(747.2,84.9) scale(0.84,1)" text-anchor="end" font-size="21" font-family="Liberation Serif, serif" fill="#1c1c1c">4</text>
<text transform="matrix(16.3601,-6.3510,14.2519,5.3763,762.0,446.6)" text-anchor="middle" dy="0.33em" font-size="1" font-family="Liberation Serif, serif" fill="#1c1c1c">-4</text>
<text transform="matrix(16.3116,-6.7631,15.1792,5.7230,816.9,467.0)" text-anchor="middle" dy="0.33em" font-size="1" font-family="Liberation Serif, serif" fill="#1c1c1c">-2</text>
<text transform="matrix(16.2215,-7.2161,16.1987,6.1041,875.4,488.6)" text-anchor="middle" dy="0.33em" font-size="1" font-family="Liberation Serif, serif" fill="#1c1c1c">0</text>
<text transform="matrix(16.0818,-7.7156,17.3230,6.5242,937.8,511.8)" text-anchor="middle" dy="0.33em" font-size="1" font-family="Liberation Serif, serif" fill="#1c1c1c">2</text>
<text transform="matrix(15.8824,-8.2682,18.5670,6.9890,1004.5,536.5)" text-anchor="middle" dy="0.33em" font-size="1" font-family="Liberation Serif, serif" fill="#1c1c1c">4</text>
<text transform="matrix(19.0185,6.7653,-14.7217,8.0023,1084.8,524.8)" text-anchor="middle" dy="0.33em" font-size="1" font-family="Liberation Serif, serif" fill="#1c1c1c">-4</text>
<text transform="matrix(18.7448,6.2463,-13.5757,7.3852,1137.3,496.8)" text-anchor="middle" dy="0.33em" font-size="1" font-family="Liberation Serif, serif" fill="#1c1c1c">-2</text>
<text transform="matrix(18.4574,5.7853,-12.5584,6.8372,1185.8,471.0)" text-anchor="middle" dy="0.33em" font-size="1" font-family="Liberation Serif, serif" fill="#1c1c1c">0</text>
<text transform="matrix(18.1615,5.3739,-11.6511,6.3483,1230.7,447.0)" text-anchor="middle" dy="0.33em" font-size="1" font-family="Liberation Serif, serif" fill="#1c1c1c">2</text>
<text transform="matrix(17.8612,5.0053,-10.8387,5.9103,1272.5,424.7)" text-anchor="middle" dy="0.33em" font-size="1" font-family="Liberation Serif, serif" fill="#1c1c1c">4</text>
<text transform="matrix(15.8097,6.1095,-18.0364,8.1665,869.0,503.6)" text-anchor="middle" dy="0.33em" font-size="1" font-family="Liberation Serif, serif" fill="#1c1c1c">PC1 (81.1%)</text>
<text transform="matrix(12.7269,-7.1670,20.5883,6.5679,1198.0,486.7)" text-anchor="middle" dy="0.33em" font-size="1" font-family="Liberation Serif, serif" fill="#1c1c1c">PC2 (15.7%)</text>
<text transform="translate(721,267.7) scale(0.74,1) rotate(90)" text-anchor="middle" font-size="21.4" font-family="Liberation Serif, serif" fill="#1c1c1c">PC3 (2.2%)</text>
<use href="#kL" x="585" y="93.2"/>
<text transform="translate(617,101.1) scale(0.92,1)" font-size="16" font-family="Liberation Serif, serif" fill="#1c1c1c">GZ</text>
<use href="#rL" x="585" y="117.1"/>
<text transform="translate(617,125) scale(0.92,1)" font-size="16" font-family="Liberation Serif, serif" fill="#1c1c1c">JS</text>
<use href="#gL" x="585" y="141"/>
<text transform="translate(617,148.9) scale(0.92,1)" font-size="16" font-family="Liberation Serif, serif" fill="#1c1c1c">AH</text>
<use href="#bL" x="585" y="164.9"/>
<text transform="translate(617,172.8) scale(0.92,1)" font-size="16" font-family="Liberation Serif, serif" fill="#1c1c1c">FJ</text>
<use href="#kL" x="1304.1" y="93.1"/>
<text transform="translate(1336.6,101) scale(0.92,1)" font-size="16" font-family="Liberation Serif, serif" fill="#1c1c1c">GZ</text>
<use href="#rL" x="1304.1" y="117"/>
<text transform="translate(1336.6,124.9) scale(0.92,1)" font-size="16" font-family="Liberation Serif, serif" fill="#1c1c1c">JS</text>
<use href="#gL" x="1304.1" y="140.9"/>
<text transform="translate(1336.6,148.8) scale(0.92,1)" font-size="16" font-family="Liberation Serif, serif" fill="#1c1c1c">AH</text>
<use href="#bL" x="1304.1" y="164.8"/>
<text transform="translate(1336.6,172.7) scale(0.92,1)" font-size="16" font-family="Liberation Serif, serif" fill="#1c1c1c">FJ</text>
<text x="3.6" y="24.2" font-family="Liberation Sans, sans-serif" font-weight="bold" font-size="29.5" fill="#000">A</text>
<text x="690.6" y="24.2" font-family="Liberation Sans, sans-serif" font-weight="bold" font-size="29.5" fill="#000">B</text>
</svg></body></html>
